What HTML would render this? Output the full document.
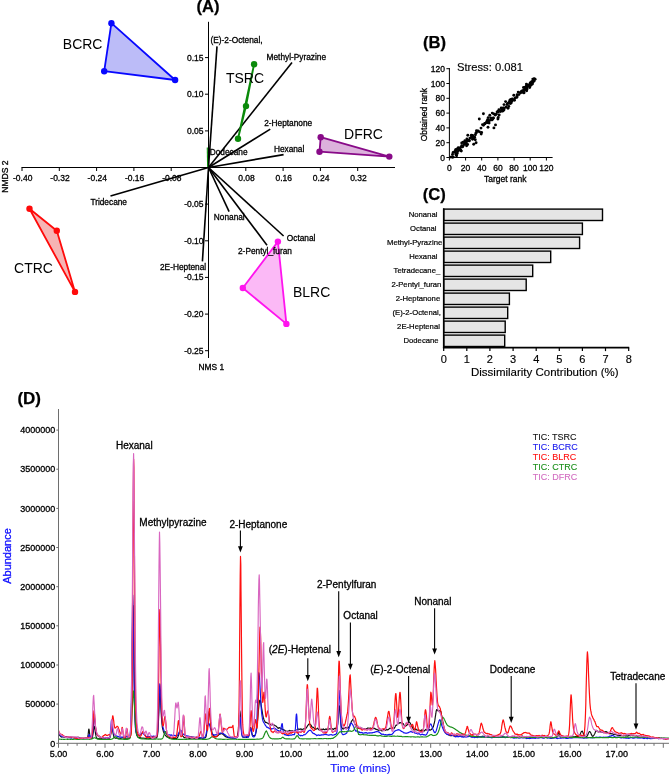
<!DOCTYPE html>
<html><head><meta charset="utf-8"><title>Figure</title>
<style>
html,body{margin:0;padding:0;background:#fff;}
body{width:669px;height:776px;overflow:hidden;font-family:"Liberation Sans",sans-serif;}
svg{display:block;will-change:transform;opacity:0.9999;}
text{font-family:"Liberation Sans",sans-serif;}
</style></head><body>
<svg width="669" height="776" viewBox="0 0 669 776" font-family="Liberation Sans, sans-serif">
<defs><clipPath id="clipD"><rect x="59" y="405" width="610" height="340"/></clipPath></defs>
<rect width="669" height="776" fill="#fff"/>
<text x="208.0" y="12.4" font-size="16.6" text-anchor="middle" fill="#000" stroke="#000" stroke-width="0.25" font-weight="bold" >(A)</text>
<line x1="21.5" y1="167.5" x2="395.0" y2="167.5" stroke="#000" stroke-width="1" />
<line x1="208.5" y1="21.8" x2="208.5" y2="358.0" stroke="#000" stroke-width="1" />
<line x1="22.0" y1="167.5" x2="22.0" y2="171.0" stroke="#000" stroke-width="1" />
<text x="22.7" y="181.0" font-size="8.5" text-anchor="middle" fill="#000" stroke="#000" stroke-width="0.3" font-weight="normal" >-0.40</text>
<line x1="59.3" y1="167.5" x2="59.3" y2="171.0" stroke="#000" stroke-width="1" />
<text x="60.0" y="181.0" font-size="8.5" text-anchor="middle" fill="#000" stroke="#000" stroke-width="0.3" font-weight="normal" >-0.32</text>
<line x1="96.6" y1="167.5" x2="96.6" y2="171.0" stroke="#000" stroke-width="1" />
<text x="97.3" y="181.0" font-size="8.5" text-anchor="middle" fill="#000" stroke="#000" stroke-width="0.3" font-weight="normal" >-0.24</text>
<line x1="133.9" y1="167.5" x2="133.9" y2="171.0" stroke="#000" stroke-width="1" />
<text x="134.6" y="181.0" font-size="8.5" text-anchor="middle" fill="#000" stroke="#000" stroke-width="0.3" font-weight="normal" >-0.16</text>
<line x1="171.2" y1="167.5" x2="171.2" y2="171.0" stroke="#000" stroke-width="1" />
<text x="171.9" y="181.0" font-size="8.5" text-anchor="middle" fill="#000" stroke="#000" stroke-width="0.3" font-weight="normal" >-0.08</text>
<line x1="245.8" y1="167.5" x2="245.8" y2="171.0" stroke="#000" stroke-width="1" />
<text x="246.5" y="181.0" font-size="8.5" text-anchor="middle" fill="#000" stroke="#000" stroke-width="0.3" font-weight="normal" >0.08</text>
<line x1="283.1" y1="167.5" x2="283.1" y2="171.0" stroke="#000" stroke-width="1" />
<text x="283.8" y="181.0" font-size="8.5" text-anchor="middle" fill="#000" stroke="#000" stroke-width="0.3" font-weight="normal" >0.16</text>
<line x1="320.4" y1="167.5" x2="320.4" y2="171.0" stroke="#000" stroke-width="1" />
<text x="321.1" y="181.0" font-size="8.5" text-anchor="middle" fill="#000" stroke="#000" stroke-width="0.3" font-weight="normal" >0.24</text>
<line x1="357.7" y1="167.5" x2="357.7" y2="171.0" stroke="#000" stroke-width="1" />
<text x="358.4" y="181.0" font-size="8.5" text-anchor="middle" fill="#000" stroke="#000" stroke-width="0.3" font-weight="normal" >0.32</text>
<line x1="205.0" y1="57.6" x2="208.5" y2="57.6" stroke="#000" stroke-width="1" />
<text x="203.5" y="60.6" font-size="8.5" text-anchor="end" fill="#000" stroke="#000" stroke-width="0.3" font-weight="normal" >0.15</text>
<line x1="205.0" y1="94.2" x2="208.5" y2="94.2" stroke="#000" stroke-width="1" />
<text x="203.5" y="97.2" font-size="8.5" text-anchor="end" fill="#000" stroke="#000" stroke-width="0.3" font-weight="normal" >0.10</text>
<line x1="205.0" y1="130.9" x2="208.5" y2="130.9" stroke="#000" stroke-width="1" />
<text x="203.5" y="133.9" font-size="8.5" text-anchor="end" fill="#000" stroke="#000" stroke-width="0.3" font-weight="normal" >0.05</text>
<line x1="205.0" y1="204.1" x2="208.5" y2="204.1" stroke="#000" stroke-width="1" />
<text x="203.5" y="207.1" font-size="8.5" text-anchor="end" fill="#000" stroke="#000" stroke-width="0.3" font-weight="normal" >-0.05</text>
<line x1="205.0" y1="240.8" x2="208.5" y2="240.8" stroke="#000" stroke-width="1" />
<text x="203.5" y="243.8" font-size="8.5" text-anchor="end" fill="#000" stroke="#000" stroke-width="0.3" font-weight="normal" >-0.10</text>
<line x1="205.0" y1="277.4" x2="208.5" y2="277.4" stroke="#000" stroke-width="1" />
<text x="203.5" y="280.4" font-size="8.5" text-anchor="end" fill="#000" stroke="#000" stroke-width="0.3" font-weight="normal" >-0.15</text>
<line x1="205.0" y1="314.1" x2="208.5" y2="314.1" stroke="#000" stroke-width="1" />
<text x="203.5" y="317.1" font-size="8.5" text-anchor="end" fill="#000" stroke="#000" stroke-width="0.3" font-weight="normal" >-0.20</text>
<line x1="205.0" y1="350.7" x2="208.5" y2="350.7" stroke="#000" stroke-width="1" />
<text x="203.5" y="353.7" font-size="8.5" text-anchor="end" fill="#000" stroke="#000" stroke-width="0.3" font-weight="normal" >-0.25</text>
<text transform="translate(7.6,176.6) rotate(-90)" font-size="8.55" text-anchor="middle" stroke="#000" stroke-width="0.3">NMDS 2</text>
<text x="211.3" y="370.0" font-size="8.4" text-anchor="middle" fill="#000" stroke="#000" stroke-width="0.3" font-weight="normal" >NMS 1</text>
<line x1="208.5" y1="167.5" x2="217.0" y2="46.4" stroke="#000" stroke-width="1.6" />
<line x1="208.5" y1="167.5" x2="292.0" y2="62.5" stroke="#000" stroke-width="1.6" />
<line x1="208.5" y1="167.5" x2="270.3" y2="129.1" stroke="#000" stroke-width="1.6" />
<line x1="208.5" y1="167.5" x2="283.6" y2="154.6" stroke="#000" stroke-width="1.6" />
<line x1="208.5" y1="167.5" x2="110.5" y2="196.1" stroke="#000" stroke-width="1.6" />
<line x1="208.5" y1="167.5" x2="202.4" y2="261.4" stroke="#000" stroke-width="1.6" />
<line x1="208.5" y1="167.5" x2="229.1" y2="211.7" stroke="#000" stroke-width="1.6" />
<line x1="208.5" y1="167.5" x2="267.0" y2="245.2" stroke="#000" stroke-width="1.6" />
<line x1="208.5" y1="167.5" x2="283.6" y2="236.0" stroke="#000" stroke-width="1.6" />
<line x1="207.3" y1="147.5" x2="207.6" y2="167.0" stroke="#0a8a0a" stroke-width="1.1" />
<polygon points="111.4,23.2 104.2,71.2 175.1,80.0" fill="#bcbcf8" stroke="#0808ff" stroke-width="1.8" stroke-linejoin="round"/>
<circle cx="111.4" cy="23.2" r="3.2" fill="#0808ff"/>
<circle cx="104.2" cy="71.2" r="3.2" fill="#0808ff"/>
<circle cx="175.1" cy="80.0" r="3.2" fill="#0808ff"/>
<text x="62.8" y="49.0" font-size="14" text-anchor="start" fill="#000" stroke="#000" stroke-width="0.0" font-weight="normal" >BCRC</text>
<polygon points="29.5,208.7 56.8,230.7 75.0,291.9" fill="#f6b4b4" stroke="#ff0a0a" stroke-width="1.8" stroke-linejoin="round"/>
<circle cx="29.5" cy="208.7" r="3.2" fill="#ff0a0a"/>
<circle cx="56.8" cy="230.7" r="3.2" fill="#ff0a0a"/>
<circle cx="75.0" cy="291.9" r="3.2" fill="#ff0a0a"/>
<text x="14.1" y="273.3" font-size="14" text-anchor="start" fill="#000" stroke="#000" stroke-width="0.0" font-weight="normal" >CTRC</text>
<polygon points="254.1,64.2 246.0,106.1 238.0,138.8" fill="none" stroke="#0a8a0a" stroke-width="1.8" stroke-linejoin="round"/>
<circle cx="254.1" cy="64.2" r="3.2" fill="#0a8a0a"/>
<circle cx="246.0" cy="106.1" r="3.2" fill="#0a8a0a"/>
<circle cx="238.0" cy="138.8" r="3.2" fill="#0a8a0a"/>
<text x="225.9" y="82.5" font-size="14" text-anchor="start" fill="#000" stroke="#000" stroke-width="0.0" font-weight="normal" >TSRC</text>
<polygon points="320.7,137.2 319.5,151.7 389.3,156.6" fill="#dcb2dc" stroke="#880a88" stroke-width="1.8" stroke-linejoin="round"/>
<circle cx="320.7" cy="137.2" r="3.2" fill="#880a88"/>
<circle cx="319.5" cy="151.7" r="3.2" fill="#880a88"/>
<circle cx="389.3" cy="156.6" r="3.2" fill="#880a88"/>
<text x="344.1" y="138.6" font-size="14" text-anchor="start" fill="#000" stroke="#000" stroke-width="0.0" font-weight="normal" >DFRC</text>
<polygon points="277.9,241.6 242.8,288.0 286.4,323.9" fill="#fbb9f6" stroke="#ff14ee" stroke-width="1.8" stroke-linejoin="round"/>
<circle cx="277.9" cy="241.6" r="3.2" fill="#ff14ee"/>
<circle cx="242.8" cy="288.0" r="3.2" fill="#ff14ee"/>
<circle cx="286.4" cy="323.9" r="3.2" fill="#ff14ee"/>
<text x="292.9" y="297.0" font-size="14" text-anchor="start" fill="#000" stroke="#000" stroke-width="0.0" font-weight="normal" >BLRC</text>
<text x="210.5" y="43.4" font-size="8.3" text-anchor="start" fill="#000" stroke="#000" stroke-width="0.3" font-weight="normal" >(E)-2-Octenal,</text>
<text x="266.6" y="59.9" font-size="8.3" text-anchor="start" fill="#000" stroke="#000" stroke-width="0.3" font-weight="normal" >Methyl-Pyrazine</text>
<text x="264.2" y="126.0" font-size="8.3" text-anchor="start" fill="#000" stroke="#000" stroke-width="0.3" font-weight="normal" >2-Heptanone</text>
<text x="273.9" y="152.3" font-size="8.3" text-anchor="start" fill="#000" stroke="#000" stroke-width="0.3" font-weight="normal" >Hexanal</text>
<text x="209.7" y="155.1" font-size="8.3" text-anchor="start" fill="#000" stroke="#000" stroke-width="0.3" font-weight="normal" >Dodecane</text>
<text x="90.4" y="204.8" font-size="8.3" text-anchor="start" fill="#000" stroke="#000" stroke-width="0.3" font-weight="normal" >Tridecane</text>
<text x="160.0" y="269.8" font-size="8.3" text-anchor="start" fill="#000" stroke="#000" stroke-width="0.3" font-weight="normal" >2E-Heptenal</text>
<text x="213.8" y="219.6" font-size="8.3" text-anchor="start" fill="#000" stroke="#000" stroke-width="0.3" font-weight="normal" >Nonanal</text>
<text x="238.0" y="253.9" font-size="8.3" text-anchor="start" fill="#000" stroke="#000" stroke-width="0.3" font-weight="normal" >2-Pentyl_furan</text>
<text x="286.8" y="240.6" font-size="8.3" text-anchor="start" fill="#000" stroke="#000" stroke-width="0.3" font-weight="normal" >Octanal</text>
<text x="423.0" y="48.4" font-size="16.6" text-anchor="start" fill="#000" stroke="#000" stroke-width="0.25" font-weight="bold" >(B)</text>
<text x="457.0" y="70.7" font-size="11.2" text-anchor="start" fill="#000" stroke="#000" stroke-width="0.15" font-weight="normal" >Stress: 0.081</text>
<line x1="449.4" y1="68.0" x2="449.4" y2="157.5" stroke="#000" stroke-width="1" />
<line x1="449.4" y1="157.5" x2="552.6" y2="157.5" stroke="#000" stroke-width="1" />
<line x1="446.4" y1="157.5" x2="449.4" y2="157.5" stroke="#000" stroke-width="1" />
<text x="444.9" y="160.6" font-size="8.5" text-anchor="end" fill="#000" stroke="#000" stroke-width="0.3" font-weight="normal" >0</text>
<line x1="449.4" y1="157.5" x2="449.4" y2="160.5" stroke="#000" stroke-width="1" />
<text x="449.4" y="171.3" font-size="8.5" text-anchor="middle" fill="#000" stroke="#000" stroke-width="0.3" font-weight="normal" >0</text>
<line x1="446.4" y1="142.7" x2="449.4" y2="142.7" stroke="#000" stroke-width="1" />
<text x="444.9" y="145.8" font-size="8.5" text-anchor="end" fill="#000" stroke="#000" stroke-width="0.3" font-weight="normal" >20</text>
<line x1="465.6" y1="157.5" x2="465.6" y2="160.5" stroke="#000" stroke-width="1" />
<text x="465.6" y="171.3" font-size="8.5" text-anchor="middle" fill="#000" stroke="#000" stroke-width="0.3" font-weight="normal" >20</text>
<line x1="446.4" y1="127.9" x2="449.4" y2="127.9" stroke="#000" stroke-width="1" />
<text x="444.9" y="131.0" font-size="8.5" text-anchor="end" fill="#000" stroke="#000" stroke-width="0.3" font-weight="normal" >40</text>
<line x1="481.7" y1="157.5" x2="481.7" y2="160.5" stroke="#000" stroke-width="1" />
<text x="481.7" y="171.3" font-size="8.5" text-anchor="middle" fill="#000" stroke="#000" stroke-width="0.3" font-weight="normal" >40</text>
<line x1="446.4" y1="113.1" x2="449.4" y2="113.1" stroke="#000" stroke-width="1" />
<text x="444.9" y="116.2" font-size="8.5" text-anchor="end" fill="#000" stroke="#000" stroke-width="0.3" font-weight="normal" >60</text>
<line x1="497.9" y1="157.5" x2="497.9" y2="160.5" stroke="#000" stroke-width="1" />
<text x="497.9" y="171.3" font-size="8.5" text-anchor="middle" fill="#000" stroke="#000" stroke-width="0.3" font-weight="normal" >60</text>
<line x1="446.4" y1="98.3" x2="449.4" y2="98.3" stroke="#000" stroke-width="1" />
<text x="444.9" y="101.4" font-size="8.5" text-anchor="end" fill="#000" stroke="#000" stroke-width="0.3" font-weight="normal" >80</text>
<line x1="514.1" y1="157.5" x2="514.1" y2="160.5" stroke="#000" stroke-width="1" />
<text x="514.1" y="171.3" font-size="8.5" text-anchor="middle" fill="#000" stroke="#000" stroke-width="0.3" font-weight="normal" >80</text>
<line x1="446.4" y1="83.5" x2="449.4" y2="83.5" stroke="#000" stroke-width="1" />
<text x="444.9" y="86.6" font-size="8.5" text-anchor="end" fill="#000" stroke="#000" stroke-width="0.3" font-weight="normal" >100</text>
<line x1="530.2" y1="157.5" x2="530.2" y2="160.5" stroke="#000" stroke-width="1" />
<text x="530.2" y="171.3" font-size="8.5" text-anchor="middle" fill="#000" stroke="#000" stroke-width="0.3" font-weight="normal" >100</text>
<line x1="446.4" y1="68.7" x2="449.4" y2="68.7" stroke="#000" stroke-width="1" />
<text x="444.9" y="71.8" font-size="8.5" text-anchor="end" fill="#000" stroke="#000" stroke-width="0.3" font-weight="normal" >120</text>
<line x1="546.4" y1="157.5" x2="546.4" y2="160.5" stroke="#000" stroke-width="1" />
<text x="546.4" y="171.3" font-size="8.5" text-anchor="middle" fill="#000" stroke="#000" stroke-width="0.3" font-weight="normal" >120</text>
<text x="505.3" y="182.0" font-size="8.5" text-anchor="middle" fill="#000" stroke="#000" stroke-width="0.3" font-weight="normal" >Target rank</text>
<text transform="translate(427,114.6) rotate(-90)" font-size="8.5" text-anchor="middle" stroke="#000" stroke-width="0.3">Obtained rank</text>
<circle cx="488.0" cy="127.2" r="1.45" fill="#000"/>
<circle cx="489.1" cy="123.1" r="1.45" fill="#000"/>
<circle cx="492.7" cy="119.1" r="1.45" fill="#000"/>
<circle cx="493.1" cy="118.3" r="1.45" fill="#000"/>
<circle cx="503.0" cy="108.1" r="1.45" fill="#000"/>
<circle cx="475.4" cy="134.7" r="1.45" fill="#000"/>
<circle cx="457.5" cy="148.8" r="1.45" fill="#000"/>
<circle cx="453.3" cy="157.1" r="1.45" fill="#000"/>
<circle cx="532.8" cy="79.1" r="1.45" fill="#000"/>
<circle cx="501.8" cy="110.3" r="1.45" fill="#000"/>
<circle cx="463.1" cy="142.1" r="1.45" fill="#000"/>
<circle cx="454.8" cy="152.3" r="1.45" fill="#000"/>
<circle cx="465.9" cy="142.4" r="1.45" fill="#000"/>
<circle cx="489.0" cy="120.7" r="1.45" fill="#000"/>
<circle cx="487.0" cy="121.5" r="1.45" fill="#000"/>
<circle cx="503.9" cy="110.0" r="1.45" fill="#000"/>
<circle cx="492.0" cy="119.9" r="1.45" fill="#000"/>
<circle cx="473.3" cy="137.9" r="1.45" fill="#000"/>
<circle cx="534.1" cy="78.7" r="1.45" fill="#000"/>
<circle cx="509.6" cy="102.5" r="1.45" fill="#000"/>
<circle cx="476.4" cy="132.5" r="1.45" fill="#000"/>
<circle cx="455.7" cy="149.8" r="1.45" fill="#000"/>
<circle cx="514.5" cy="100.2" r="1.45" fill="#000"/>
<circle cx="482.5" cy="124.6" r="1.45" fill="#000"/>
<circle cx="530.7" cy="83.0" r="1.45" fill="#000"/>
<circle cx="467.5" cy="141.0" r="1.45" fill="#000"/>
<circle cx="526.7" cy="90.8" r="1.45" fill="#000"/>
<circle cx="483.4" cy="125.2" r="1.45" fill="#000"/>
<circle cx="456.0" cy="154.3" r="1.45" fill="#000"/>
<circle cx="472.6" cy="139.3" r="1.45" fill="#000"/>
<circle cx="457.2" cy="153.4" r="1.45" fill="#000"/>
<circle cx="513.8" cy="95.2" r="1.45" fill="#000"/>
<circle cx="459.8" cy="148.0" r="1.45" fill="#000"/>
<circle cx="454.9" cy="151.4" r="1.45" fill="#000"/>
<circle cx="517.1" cy="94.7" r="1.45" fill="#000"/>
<circle cx="487.6" cy="119.8" r="1.45" fill="#000"/>
<circle cx="465.9" cy="142.5" r="1.45" fill="#000"/>
<circle cx="504.2" cy="108.6" r="1.45" fill="#000"/>
<circle cx="459.6" cy="149.6" r="1.45" fill="#000"/>
<circle cx="472.6" cy="135.5" r="1.45" fill="#000"/>
<circle cx="531.8" cy="81.6" r="1.45" fill="#000"/>
<circle cx="524.6" cy="89.9" r="1.45" fill="#000"/>
<circle cx="467.6" cy="144.5" r="1.45" fill="#000"/>
<circle cx="504.0" cy="104.6" r="1.45" fill="#000"/>
<circle cx="458.3" cy="147.7" r="1.45" fill="#000"/>
<circle cx="471.6" cy="137.3" r="1.45" fill="#000"/>
<circle cx="515.1" cy="98.0" r="1.45" fill="#000"/>
<circle cx="456.0" cy="149.7" r="1.45" fill="#000"/>
<circle cx="457.4" cy="151.7" r="1.45" fill="#000"/>
<circle cx="500.6" cy="111.5" r="1.45" fill="#000"/>
<circle cx="481.2" cy="134.1" r="1.45" fill="#000"/>
<circle cx="490.7" cy="118.0" r="1.45" fill="#000"/>
<circle cx="498.3" cy="111.7" r="1.45" fill="#000"/>
<circle cx="462.8" cy="146.3" r="1.45" fill="#000"/>
<circle cx="526.6" cy="86.4" r="1.45" fill="#000"/>
<circle cx="465.8" cy="144.1" r="1.45" fill="#000"/>
<circle cx="512.3" cy="99.0" r="1.45" fill="#000"/>
<circle cx="530.1" cy="84.0" r="1.45" fill="#000"/>
<circle cx="524.3" cy="90.1" r="1.45" fill="#000"/>
<circle cx="458.6" cy="150.6" r="1.45" fill="#000"/>
<circle cx="453.1" cy="152.4" r="1.45" fill="#000"/>
<circle cx="509.3" cy="103.1" r="1.45" fill="#000"/>
<circle cx="471.5" cy="135.8" r="1.45" fill="#000"/>
<circle cx="474.6" cy="137.3" r="1.45" fill="#000"/>
<circle cx="464.6" cy="143.7" r="1.45" fill="#000"/>
<circle cx="469.1" cy="140.3" r="1.45" fill="#000"/>
<circle cx="497.1" cy="111.9" r="1.45" fill="#000"/>
<circle cx="473.5" cy="138.1" r="1.45" fill="#000"/>
<circle cx="527.3" cy="86.1" r="1.45" fill="#000"/>
<circle cx="472.5" cy="135.9" r="1.45" fill="#000"/>
<circle cx="487.5" cy="121.3" r="1.45" fill="#000"/>
<circle cx="481.0" cy="128.1" r="1.45" fill="#000"/>
<circle cx="498.1" cy="111.4" r="1.45" fill="#000"/>
<circle cx="525.1" cy="87.2" r="1.45" fill="#000"/>
<circle cx="532.6" cy="82.6" r="1.45" fill="#000"/>
<circle cx="499.2" cy="115.0" r="1.45" fill="#000"/>
<circle cx="461.7" cy="145.8" r="1.45" fill="#000"/>
<circle cx="526.7" cy="86.7" r="1.45" fill="#000"/>
<circle cx="509.0" cy="102.4" r="1.45" fill="#000"/>
<circle cx="503.6" cy="108.0" r="1.45" fill="#000"/>
<circle cx="490.5" cy="120.1" r="1.45" fill="#000"/>
<circle cx="534.2" cy="81.1" r="1.45" fill="#000"/>
<circle cx="456.2" cy="155.0" r="1.45" fill="#000"/>
<circle cx="525.9" cy="88.2" r="1.45" fill="#000"/>
<circle cx="512.1" cy="100.9" r="1.45" fill="#000"/>
<circle cx="527.1" cy="88.9" r="1.45" fill="#000"/>
<circle cx="479.5" cy="131.9" r="1.45" fill="#000"/>
<circle cx="523.4" cy="92.7" r="1.45" fill="#000"/>
<circle cx="485.0" cy="123.7" r="1.45" fill="#000"/>
<circle cx="498.2" cy="117.4" r="1.45" fill="#000"/>
<circle cx="502.6" cy="111.1" r="1.45" fill="#000"/>
<circle cx="501.2" cy="107.9" r="1.45" fill="#000"/>
<circle cx="456.6" cy="155.7" r="1.45" fill="#000"/>
<circle cx="524.1" cy="92.7" r="1.45" fill="#000"/>
<circle cx="511.3" cy="102.7" r="1.45" fill="#000"/>
<circle cx="498.9" cy="109.7" r="1.45" fill="#000"/>
<circle cx="487.0" cy="122.5" r="1.45" fill="#000"/>
<circle cx="513.2" cy="99.6" r="1.45" fill="#000"/>
<circle cx="452.3" cy="157.0" r="1.45" fill="#000"/>
<circle cx="469.3" cy="140.9" r="1.45" fill="#000"/>
<circle cx="508.8" cy="106.4" r="1.45" fill="#000"/>
<circle cx="527.6" cy="85.9" r="1.45" fill="#000"/>
<circle cx="471.4" cy="135.3" r="1.45" fill="#000"/>
<circle cx="507.1" cy="104.5" r="1.45" fill="#000"/>
<circle cx="466.9" cy="139.0" r="1.45" fill="#000"/>
<circle cx="505.6" cy="101.6" r="1.45" fill="#000"/>
<circle cx="487.1" cy="121.3" r="1.45" fill="#000"/>
<circle cx="506.1" cy="107.0" r="1.45" fill="#000"/>
<circle cx="466.6" cy="145.7" r="1.45" fill="#000"/>
<circle cx="527.0" cy="85.3" r="1.45" fill="#000"/>
<circle cx="524.2" cy="90.5" r="1.45" fill="#000"/>
<circle cx="476.5" cy="130.6" r="1.45" fill="#000"/>
<circle cx="461.3" cy="151.1" r="1.45" fill="#000"/>
<circle cx="521.5" cy="91.4" r="1.45" fill="#000"/>
<circle cx="509.9" cy="100.3" r="1.45" fill="#000"/>
<circle cx="464.1" cy="144.6" r="1.45" fill="#000"/>
<circle cx="487.9" cy="122.5" r="1.45" fill="#000"/>
<circle cx="484.8" cy="123.5" r="1.45" fill="#000"/>
<circle cx="502.7" cy="110.8" r="1.45" fill="#000"/>
<circle cx="520.7" cy="92.2" r="1.45" fill="#000"/>
<circle cx="532.8" cy="81.7" r="1.45" fill="#000"/>
<circle cx="452.5" cy="154.4" r="1.45" fill="#000"/>
<circle cx="523.5" cy="87.4" r="1.45" fill="#000"/>
<circle cx="498.0" cy="112.0" r="1.45" fill="#000"/>
<circle cx="475.9" cy="133.1" r="1.45" fill="#000"/>
<circle cx="461.3" cy="147.1" r="1.45" fill="#000"/>
<circle cx="488.2" cy="117.6" r="1.45" fill="#000"/>
<circle cx="469.9" cy="138.1" r="1.45" fill="#000"/>
<circle cx="461.7" cy="143.0" r="1.45" fill="#000"/>
<circle cx="487.5" cy="121.6" r="1.45" fill="#000"/>
<circle cx="503.0" cy="110.8" r="1.45" fill="#000"/>
<circle cx="530.8" cy="85.2" r="1.45" fill="#000"/>
<circle cx="507.6" cy="103.4" r="1.45" fill="#000"/>
<circle cx="464.9" cy="140.8" r="1.45" fill="#000"/>
<circle cx="450.7" cy="157.1" r="1.45" fill="#000"/>
<circle cx="464.9" cy="142.6" r="1.45" fill="#000"/>
<circle cx="472.8" cy="138.1" r="1.45" fill="#000"/>
<circle cx="493.8" cy="113.9" r="1.45" fill="#000"/>
<circle cx="501.7" cy="109.5" r="1.45" fill="#000"/>
<circle cx="516.7" cy="97.4" r="1.45" fill="#000"/>
<circle cx="526.4" cy="84.1" r="1.45" fill="#000"/>
<circle cx="510.8" cy="99.5" r="1.45" fill="#000"/>
<circle cx="460.8" cy="150.3" r="1.45" fill="#000"/>
<circle cx="526.7" cy="86.2" r="1.45" fill="#000"/>
<circle cx="481.6" cy="132.4" r="1.45" fill="#000"/>
<circle cx="517.1" cy="96.8" r="1.45" fill="#000"/>
<circle cx="529.6" cy="86.2" r="1.45" fill="#000"/>
<circle cx="467.1" cy="140.5" r="1.45" fill="#000"/>
<circle cx="510.8" cy="100.4" r="1.45" fill="#000"/>
<circle cx="510.4" cy="103.6" r="1.45" fill="#000"/>
<circle cx="467.8" cy="135.3" r="1.45" fill="#000"/>
<circle cx="532.4" cy="84.0" r="1.45" fill="#000"/>
<circle cx="495.2" cy="115.1" r="1.45" fill="#000"/>
<circle cx="526.7" cy="88.0" r="1.45" fill="#000"/>
<circle cx="522.1" cy="91.3" r="1.45" fill="#000"/>
<circle cx="487.1" cy="122.2" r="1.45" fill="#000"/>
<circle cx="496.3" cy="114.3" r="1.45" fill="#000"/>
<circle cx="452.2" cy="157.1" r="1.45" fill="#000"/>
<circle cx="518.2" cy="92.1" r="1.45" fill="#000"/>
<circle cx="464.4" cy="142.1" r="1.45" fill="#000"/>
<circle cx="478.1" cy="130.9" r="1.45" fill="#000"/>
<circle cx="462.4" cy="146.9" r="1.45" fill="#000"/>
<circle cx="493.4" cy="117.9" r="1.45" fill="#000"/>
<circle cx="508.0" cy="108.3" r="1.45" fill="#000"/>
<circle cx="529.7" cy="87.6" r="1.45" fill="#000"/>
<circle cx="518.9" cy="94.6" r="1.45" fill="#000"/>
<circle cx="520.5" cy="92.9" r="1.45" fill="#000"/>
<circle cx="522.2" cy="90.9" r="1.45" fill="#000"/>
<circle cx="523.8" cy="89.8" r="1.45" fill="#000"/>
<circle cx="525.4" cy="87.5" r="1.45" fill="#000"/>
<circle cx="527.0" cy="86.2" r="1.45" fill="#000"/>
<circle cx="528.6" cy="84.9" r="1.45" fill="#000"/>
<circle cx="530.2" cy="82.9" r="1.45" fill="#000"/>
<circle cx="531.9" cy="81.9" r="1.45" fill="#000"/>
<circle cx="533.5" cy="80.9" r="1.45" fill="#000"/>
<circle cx="535.1" cy="79.3" r="1.45" fill="#000"/>
<circle cx="479.3" cy="119.0" r="1.45" fill="#000"/>
<circle cx="483.4" cy="113.8" r="1.45" fill="#000"/>
<circle cx="493.9" cy="127.9" r="1.45" fill="#000"/>
<circle cx="495.5" cy="124.9" r="1.45" fill="#000"/>
<circle cx="473.7" cy="144.2" r="1.45" fill="#000"/>
<circle cx="475.3" cy="139.7" r="1.45" fill="#000"/>
<circle cx="476.1" cy="142.7" r="1.45" fill="#000"/>
<circle cx="489.8" cy="115.3" r="1.45" fill="#000"/>
<circle cx="492.3" cy="113.1" r="1.45" fill="#000"/>
<circle cx="497.9" cy="119.0" r="1.45" fill="#000"/>
<text x="422.7" y="199.7" font-size="16.6" text-anchor="start" fill="#000" stroke="#000" stroke-width="0.25" font-weight="bold" >(C)</text>
<rect x="443.7" y="209.1" width="158.8" height="11.4" fill="#e5e5e5" stroke="#000" stroke-width="1.4"/>
<text x="437.4" y="217.1" font-size="8.1" text-anchor="end" fill="#000" stroke="#000" stroke-width="0.2" font-weight="normal" textLength="28.7" lengthAdjust="spacingAndGlyphs" >Nonanal</text>
<rect x="443.7" y="223.1" width="138.7" height="11.4" fill="#e5e5e5" stroke="#000" stroke-width="1.4"/>
<text x="436.6" y="231.1" font-size="8.1" text-anchor="end" fill="#000" stroke="#000" stroke-width="0.2" font-weight="normal" textLength="26.5" lengthAdjust="spacingAndGlyphs" >Octanal</text>
<rect x="443.7" y="237.1" width="135.9" height="11.4" fill="#e5e5e5" stroke="#000" stroke-width="1.4"/>
<text x="442.2" y="245.1" font-size="8.1" text-anchor="end" fill="#000" stroke="#000" stroke-width="0.2" font-weight="normal" textLength="55.2" lengthAdjust="spacingAndGlyphs" >Methyl-Pyrazine</text>
<rect x="443.7" y="251.1" width="107.0" height="11.4" fill="#e5e5e5" stroke="#000" stroke-width="1.4"/>
<text x="437.4" y="259.1" font-size="8.1" text-anchor="end" fill="#000" stroke="#000" stroke-width="0.2" font-weight="normal" textLength="28.2" lengthAdjust="spacingAndGlyphs" >Hexanal</text>
<rect x="443.7" y="265.1" width="89.0" height="11.4" fill="#e5e5e5" stroke="#000" stroke-width="1.4"/>
<text x="440.2" y="273.1" font-size="8.1" text-anchor="end" fill="#000" stroke="#000" stroke-width="0.2" font-weight="normal" textLength="46.6" lengthAdjust="spacingAndGlyphs" >Tetradecane_</text>
<rect x="443.7" y="279.1" width="82.5" height="11.4" fill="#e5e5e5" stroke="#000" stroke-width="1.4"/>
<text x="441.4" y="287.1" font-size="8.1" text-anchor="end" fill="#000" stroke="#000" stroke-width="0.2" font-weight="normal" textLength="50.0" lengthAdjust="spacingAndGlyphs" >2-Pentyl_furan</text>
<rect x="443.7" y="293.1" width="65.7" height="11.4" fill="#e5e5e5" stroke="#000" stroke-width="1.4"/>
<text x="440.2" y="301.1" font-size="8.1" text-anchor="end" fill="#000" stroke="#000" stroke-width="0.2" font-weight="normal" textLength="44.5" lengthAdjust="spacingAndGlyphs" >2-Heptanone</text>
<rect x="443.7" y="307.1" width="64.0" height="11.4" fill="#e5e5e5" stroke="#000" stroke-width="1.4"/>
<text x="440.8" y="315.1" font-size="8.1" text-anchor="end" fill="#000" stroke="#000" stroke-width="0.2" font-weight="normal" textLength="48.3" lengthAdjust="spacingAndGlyphs" >(E)-2-Octenal,</text>
<rect x="443.7" y="321.1" width="61.5" height="11.4" fill="#e5e5e5" stroke="#000" stroke-width="1.4"/>
<text x="439.9" y="329.1" font-size="8.1" text-anchor="end" fill="#000" stroke="#000" stroke-width="0.2" font-weight="normal" textLength="42.8" lengthAdjust="spacingAndGlyphs" >2E-Heptenal</text>
<rect x="443.7" y="335.1" width="61.0" height="11.4" fill="#e5e5e5" stroke="#000" stroke-width="1.4"/>
<text x="438.6" y="343.1" font-size="8.1" text-anchor="end" fill="#000" stroke="#000" stroke-width="0.2" font-weight="normal" textLength="35.1" lengthAdjust="spacingAndGlyphs" >Dodecane</text>
<line x1="443.7" y1="208.4" x2="443.7" y2="347.6" stroke="#000" stroke-width="1.6" />
<line x1="442.9" y1="347.6" x2="629.2" y2="347.6" stroke="#000" stroke-width="1.8" />
<line x1="443.7" y1="347.6" x2="443.7" y2="351.1" stroke="#000" stroke-width="1.2" />
<text x="443.7" y="362.6" font-size="11" text-anchor="middle" fill="#000" stroke="#000" stroke-width="0.15" font-weight="normal" >0</text>
<line x1="466.8" y1="347.6" x2="466.8" y2="351.1" stroke="#000" stroke-width="1.2" />
<text x="466.8" y="362.6" font-size="11" text-anchor="middle" fill="#000" stroke="#000" stroke-width="0.15" font-weight="normal" >1</text>
<line x1="489.9" y1="347.6" x2="489.9" y2="351.1" stroke="#000" stroke-width="1.2" />
<text x="489.9" y="362.6" font-size="11" text-anchor="middle" fill="#000" stroke="#000" stroke-width="0.15" font-weight="normal" >2</text>
<line x1="513.1" y1="347.6" x2="513.1" y2="351.1" stroke="#000" stroke-width="1.2" />
<text x="513.1" y="362.6" font-size="11" text-anchor="middle" fill="#000" stroke="#000" stroke-width="0.15" font-weight="normal" >3</text>
<line x1="536.2" y1="347.6" x2="536.2" y2="351.1" stroke="#000" stroke-width="1.2" />
<text x="536.2" y="362.6" font-size="11" text-anchor="middle" fill="#000" stroke="#000" stroke-width="0.15" font-weight="normal" >4</text>
<line x1="559.3" y1="347.6" x2="559.3" y2="351.1" stroke="#000" stroke-width="1.2" />
<text x="559.3" y="362.6" font-size="11" text-anchor="middle" fill="#000" stroke="#000" stroke-width="0.15" font-weight="normal" >5</text>
<line x1="582.4" y1="347.6" x2="582.4" y2="351.1" stroke="#000" stroke-width="1.2" />
<text x="582.4" y="362.6" font-size="11" text-anchor="middle" fill="#000" stroke="#000" stroke-width="0.15" font-weight="normal" >6</text>
<line x1="605.5" y1="347.6" x2="605.5" y2="351.1" stroke="#000" stroke-width="1.2" />
<text x="605.5" y="362.6" font-size="11" text-anchor="middle" fill="#000" stroke="#000" stroke-width="0.15" font-weight="normal" >7</text>
<line x1="628.7" y1="347.6" x2="628.7" y2="351.1" stroke="#000" stroke-width="1.2" />
<text x="628.7" y="362.6" font-size="11" text-anchor="middle" fill="#000" stroke="#000" stroke-width="0.15" font-weight="normal" >8</text>
<text x="544.8" y="376.3" font-size="11.5" text-anchor="middle" fill="#000" stroke="#000" stroke-width="0.15" font-weight="normal" >Dissimilarity Contribution (%)</text>
<text x="17.4" y="403.8" font-size="17" text-anchor="start" fill="#000" stroke="#000" stroke-width="0.25" font-weight="bold" >(D)</text>
<line x1="58.5" y1="409.0" x2="58.5" y2="743.3" stroke="#6e6e6e" stroke-width="1" />
<line x1="58.5" y1="743.3" x2="669.0" y2="743.3" stroke="#6e6e6e" stroke-width="1" />
<line x1="56.3" y1="743.3" x2="58.5" y2="743.3" stroke="#6e6e6e" stroke-width="1" />
<text x="55.3" y="746.5" font-size="9" text-anchor="end" fill="#000" stroke="#000" stroke-width="0.3" font-weight="normal" >0</text>
<line x1="56.3" y1="704.1" x2="58.5" y2="704.1" stroke="#6e6e6e" stroke-width="1" />
<text x="55.3" y="707.4" font-size="9" text-anchor="end" fill="#000" stroke="#000" stroke-width="0.3" font-weight="normal" >500000</text>
<line x1="56.3" y1="665.0" x2="58.5" y2="665.0" stroke="#6e6e6e" stroke-width="1" />
<text x="55.3" y="668.2" font-size="9" text-anchor="end" fill="#000" stroke="#000" stroke-width="0.3" font-weight="normal" >1000000</text>
<line x1="56.3" y1="625.8" x2="58.5" y2="625.8" stroke="#6e6e6e" stroke-width="1" />
<text x="55.3" y="629.0" font-size="9" text-anchor="end" fill="#000" stroke="#000" stroke-width="0.3" font-weight="normal" >1500000</text>
<line x1="56.3" y1="586.7" x2="58.5" y2="586.7" stroke="#6e6e6e" stroke-width="1" />
<text x="55.3" y="589.9" font-size="9" text-anchor="end" fill="#000" stroke="#000" stroke-width="0.3" font-weight="normal" >2000000</text>
<line x1="56.3" y1="547.5" x2="58.5" y2="547.5" stroke="#6e6e6e" stroke-width="1" />
<text x="55.3" y="550.8" font-size="9" text-anchor="end" fill="#000" stroke="#000" stroke-width="0.3" font-weight="normal" >2500000</text>
<line x1="56.3" y1="508.4" x2="58.5" y2="508.4" stroke="#6e6e6e" stroke-width="1" />
<text x="55.3" y="511.6" font-size="9" text-anchor="end" fill="#000" stroke="#000" stroke-width="0.3" font-weight="normal" >3000000</text>
<line x1="56.3" y1="469.2" x2="58.5" y2="469.2" stroke="#6e6e6e" stroke-width="1" />
<text x="55.3" y="472.4" font-size="9" text-anchor="end" fill="#000" stroke="#000" stroke-width="0.3" font-weight="normal" >3500000</text>
<line x1="56.3" y1="430.1" x2="58.5" y2="430.1" stroke="#6e6e6e" stroke-width="1" />
<text x="55.3" y="433.3" font-size="9" text-anchor="end" fill="#000" stroke="#000" stroke-width="0.3" font-weight="normal" >4000000</text>
<line x1="58.5" y1="743.3" x2="58.5" y2="747.8" stroke="#6e6e6e" stroke-width="1" />
<text x="58.5" y="757.3" font-size="9" text-anchor="middle" fill="#000" stroke="#000" stroke-width="0.3" font-weight="normal" >5.00</text>
<line x1="67.8" y1="743.3" x2="67.8" y2="745.8" stroke="#6e6e6e" stroke-width="1" />
<line x1="77.1" y1="743.3" x2="77.1" y2="745.8" stroke="#6e6e6e" stroke-width="1" />
<line x1="86.4" y1="743.3" x2="86.4" y2="745.8" stroke="#6e6e6e" stroke-width="1" />
<line x1="95.7" y1="743.3" x2="95.7" y2="745.8" stroke="#6e6e6e" stroke-width="1" />
<line x1="105.0" y1="743.3" x2="105.0" y2="747.8" stroke="#6e6e6e" stroke-width="1" />
<text x="105.0" y="757.3" font-size="9" text-anchor="middle" fill="#000" stroke="#000" stroke-width="0.3" font-weight="normal" >6.00</text>
<line x1="114.3" y1="743.3" x2="114.3" y2="745.8" stroke="#6e6e6e" stroke-width="1" />
<line x1="123.6" y1="743.3" x2="123.6" y2="745.8" stroke="#6e6e6e" stroke-width="1" />
<line x1="132.9" y1="743.3" x2="132.9" y2="745.8" stroke="#6e6e6e" stroke-width="1" />
<line x1="142.2" y1="743.3" x2="142.2" y2="745.8" stroke="#6e6e6e" stroke-width="1" />
<line x1="151.5" y1="743.3" x2="151.5" y2="747.8" stroke="#6e6e6e" stroke-width="1" />
<text x="151.5" y="757.3" font-size="9" text-anchor="middle" fill="#000" stroke="#000" stroke-width="0.3" font-weight="normal" >7.00</text>
<line x1="160.8" y1="743.3" x2="160.8" y2="745.8" stroke="#6e6e6e" stroke-width="1" />
<line x1="170.1" y1="743.3" x2="170.1" y2="745.8" stroke="#6e6e6e" stroke-width="1" />
<line x1="179.5" y1="743.3" x2="179.5" y2="745.8" stroke="#6e6e6e" stroke-width="1" />
<line x1="188.8" y1="743.3" x2="188.8" y2="745.8" stroke="#6e6e6e" stroke-width="1" />
<line x1="198.1" y1="743.3" x2="198.1" y2="747.8" stroke="#6e6e6e" stroke-width="1" />
<text x="198.1" y="757.3" font-size="9" text-anchor="middle" fill="#000" stroke="#000" stroke-width="0.3" font-weight="normal" >8.00</text>
<line x1="207.4" y1="743.3" x2="207.4" y2="745.8" stroke="#6e6e6e" stroke-width="1" />
<line x1="216.7" y1="743.3" x2="216.7" y2="745.8" stroke="#6e6e6e" stroke-width="1" />
<line x1="226.0" y1="743.3" x2="226.0" y2="745.8" stroke="#6e6e6e" stroke-width="1" />
<line x1="235.3" y1="743.3" x2="235.3" y2="745.8" stroke="#6e6e6e" stroke-width="1" />
<line x1="244.6" y1="743.3" x2="244.6" y2="747.8" stroke="#6e6e6e" stroke-width="1" />
<text x="244.6" y="757.3" font-size="9" text-anchor="middle" fill="#000" stroke="#000" stroke-width="0.3" font-weight="normal" >9.00</text>
<line x1="253.9" y1="743.3" x2="253.9" y2="745.8" stroke="#6e6e6e" stroke-width="1" />
<line x1="263.2" y1="743.3" x2="263.2" y2="745.8" stroke="#6e6e6e" stroke-width="1" />
<line x1="272.5" y1="743.3" x2="272.5" y2="745.8" stroke="#6e6e6e" stroke-width="1" />
<line x1="281.8" y1="743.3" x2="281.8" y2="745.8" stroke="#6e6e6e" stroke-width="1" />
<line x1="291.1" y1="743.3" x2="291.1" y2="747.8" stroke="#6e6e6e" stroke-width="1" />
<text x="291.1" y="757.3" font-size="9" text-anchor="middle" fill="#000" stroke="#000" stroke-width="0.3" font-weight="normal" >10.00</text>
<line x1="300.4" y1="743.3" x2="300.4" y2="745.8" stroke="#6e6e6e" stroke-width="1" />
<line x1="309.7" y1="743.3" x2="309.7" y2="745.8" stroke="#6e6e6e" stroke-width="1" />
<line x1="319.0" y1="743.3" x2="319.0" y2="745.8" stroke="#6e6e6e" stroke-width="1" />
<line x1="328.3" y1="743.3" x2="328.3" y2="745.8" stroke="#6e6e6e" stroke-width="1" />
<line x1="337.6" y1="743.3" x2="337.6" y2="747.8" stroke="#6e6e6e" stroke-width="1" />
<text x="337.6" y="757.3" font-size="9" text-anchor="middle" fill="#000" stroke="#000" stroke-width="0.3" font-weight="normal" >11.00</text>
<line x1="346.9" y1="743.3" x2="346.9" y2="745.8" stroke="#6e6e6e" stroke-width="1" />
<line x1="356.2" y1="743.3" x2="356.2" y2="745.8" stroke="#6e6e6e" stroke-width="1" />
<line x1="365.5" y1="743.3" x2="365.5" y2="745.8" stroke="#6e6e6e" stroke-width="1" />
<line x1="374.8" y1="743.3" x2="374.8" y2="745.8" stroke="#6e6e6e" stroke-width="1" />
<line x1="384.1" y1="743.3" x2="384.1" y2="747.8" stroke="#6e6e6e" stroke-width="1" />
<text x="384.1" y="757.3" font-size="9" text-anchor="middle" fill="#000" stroke="#000" stroke-width="0.3" font-weight="normal" >12.00</text>
<line x1="393.4" y1="743.3" x2="393.4" y2="745.8" stroke="#6e6e6e" stroke-width="1" />
<line x1="402.7" y1="743.3" x2="402.7" y2="745.8" stroke="#6e6e6e" stroke-width="1" />
<line x1="412.1" y1="743.3" x2="412.1" y2="745.8" stroke="#6e6e6e" stroke-width="1" />
<line x1="421.4" y1="743.3" x2="421.4" y2="745.8" stroke="#6e6e6e" stroke-width="1" />
<line x1="430.7" y1="743.3" x2="430.7" y2="747.8" stroke="#6e6e6e" stroke-width="1" />
<text x="430.7" y="757.3" font-size="9" text-anchor="middle" fill="#000" stroke="#000" stroke-width="0.3" font-weight="normal" >13.00</text>
<line x1="440.0" y1="743.3" x2="440.0" y2="745.8" stroke="#6e6e6e" stroke-width="1" />
<line x1="449.3" y1="743.3" x2="449.3" y2="745.8" stroke="#6e6e6e" stroke-width="1" />
<line x1="458.6" y1="743.3" x2="458.6" y2="745.8" stroke="#6e6e6e" stroke-width="1" />
<line x1="467.9" y1="743.3" x2="467.9" y2="745.8" stroke="#6e6e6e" stroke-width="1" />
<line x1="477.2" y1="743.3" x2="477.2" y2="747.8" stroke="#6e6e6e" stroke-width="1" />
<text x="477.2" y="757.3" font-size="9" text-anchor="middle" fill="#000" stroke="#000" stroke-width="0.3" font-weight="normal" >14.00</text>
<line x1="486.5" y1="743.3" x2="486.5" y2="745.8" stroke="#6e6e6e" stroke-width="1" />
<line x1="495.8" y1="743.3" x2="495.8" y2="745.8" stroke="#6e6e6e" stroke-width="1" />
<line x1="505.1" y1="743.3" x2="505.1" y2="745.8" stroke="#6e6e6e" stroke-width="1" />
<line x1="514.4" y1="743.3" x2="514.4" y2="745.8" stroke="#6e6e6e" stroke-width="1" />
<line x1="523.7" y1="743.3" x2="523.7" y2="747.8" stroke="#6e6e6e" stroke-width="1" />
<text x="523.7" y="757.3" font-size="9" text-anchor="middle" fill="#000" stroke="#000" stroke-width="0.3" font-weight="normal" >15.00</text>
<line x1="533.0" y1="743.3" x2="533.0" y2="745.8" stroke="#6e6e6e" stroke-width="1" />
<line x1="542.3" y1="743.3" x2="542.3" y2="745.8" stroke="#6e6e6e" stroke-width="1" />
<line x1="551.6" y1="743.3" x2="551.6" y2="745.8" stroke="#6e6e6e" stroke-width="1" />
<line x1="560.9" y1="743.3" x2="560.9" y2="745.8" stroke="#6e6e6e" stroke-width="1" />
<line x1="570.2" y1="743.3" x2="570.2" y2="747.8" stroke="#6e6e6e" stroke-width="1" />
<text x="570.2" y="757.3" font-size="9" text-anchor="middle" fill="#000" stroke="#000" stroke-width="0.3" font-weight="normal" >16.00</text>
<line x1="579.5" y1="743.3" x2="579.5" y2="745.8" stroke="#6e6e6e" stroke-width="1" />
<line x1="588.8" y1="743.3" x2="588.8" y2="745.8" stroke="#6e6e6e" stroke-width="1" />
<line x1="598.1" y1="743.3" x2="598.1" y2="745.8" stroke="#6e6e6e" stroke-width="1" />
<line x1="607.4" y1="743.3" x2="607.4" y2="745.8" stroke="#6e6e6e" stroke-width="1" />
<line x1="616.7" y1="743.3" x2="616.7" y2="747.8" stroke="#6e6e6e" stroke-width="1" />
<text x="616.7" y="757.3" font-size="9" text-anchor="middle" fill="#000" stroke="#000" stroke-width="0.3" font-weight="normal" >17.00</text>
<line x1="626.0" y1="743.3" x2="626.0" y2="745.8" stroke="#6e6e6e" stroke-width="1" />
<line x1="635.3" y1="743.3" x2="635.3" y2="745.8" stroke="#6e6e6e" stroke-width="1" />
<line x1="644.7" y1="743.3" x2="644.7" y2="745.8" stroke="#6e6e6e" stroke-width="1" />
<line x1="654.0" y1="743.3" x2="654.0" y2="745.8" stroke="#6e6e6e" stroke-width="1" />
<line x1="663.3" y1="743.3" x2="663.3" y2="747.8" stroke="#6e6e6e" stroke-width="1" />
<text transform="translate(10.5,556) rotate(-90)" font-size="11" text-anchor="middle" fill="#1010ff" stroke="#1010ff" stroke-width="0.3">Abundance</text>
<text x="360.5" y="772.0" font-size="11.5" text-anchor="middle" fill="#1010ff" stroke="#1010ff" stroke-width="0.15" font-weight="normal" >Time (mins)</text>
<g clip-path="url(#clipD)">
<polyline points="58.5,733.8 58.8,734.2 59.1,734.7 59.3,735.1 59.6,735.3 59.9,735.6 60.2,736.0 60.5,736.3 60.7,736.5 61.0,736.7 61.3,736.9 61.6,737.1 61.8,737.1 62.1,737.0 62.4,736.9 62.7,736.7 63.0,736.8 63.2,737.0 63.5,736.9 63.8,736.9 64.1,737.0 64.4,736.9 64.6,737.0 64.9,736.9 65.2,737.0 65.5,736.9 65.8,737.0 66.0,737.0 66.3,737.3 66.6,737.3 66.9,737.7 67.2,737.7 67.4,737.8 67.7,737.5 68.0,737.3 68.3,737.4 68.5,737.3 68.8,737.2 69.1,737.2 69.4,737.3 69.7,737.5 69.9,737.5 70.2,737.4 70.5,737.4 70.8,737.3 71.1,737.3 71.3,737.1 71.6,737.1 71.9,737.3 72.2,737.4 72.5,737.5 72.7,737.6 73.0,737.6 73.3,737.8 73.6,737.9 73.9,737.8 74.1,737.8 74.4,737.5 74.7,737.5 75.0,737.5 75.2,737.4 75.5,737.5 75.8,737.6 76.1,737.5 76.4,737.7 76.6,737.6 76.9,737.5 77.2,737.5 77.5,737.4 77.8,737.2 78.0,737.3 78.3,737.2 78.6,737.3 78.9,737.4 79.2,737.6 79.4,737.5 79.7,737.7 80.0,737.8 80.3,738.0 80.6,738.1 80.8,738.1 81.1,738.3 81.4,738.3 81.7,738.4 81.9,738.4 82.2,738.4 82.5,738.3 82.8,738.2 83.1,738.2 83.3,738.4 83.6,738.3 83.9,738.2 84.2,738.2 84.5,738.3 84.7,738.3 85.0,738.4 85.3,738.4 85.6,738.4 85.9,738.4 86.1,738.4 86.4,738.4 86.7,738.3 87.0,738.2 87.2,738.0 87.5,737.7 87.8,736.7 88.1,734.9 88.4,732.3 88.6,729.9 88.9,729.0 89.2,730.1 89.5,732.6 89.8,735.0 90.0,736.8 90.3,737.9 90.6,738.3 90.9,738.4 91.2,738.3 91.4,738.1 91.7,738.1 92.0,738.0 92.3,737.3 92.6,736.4 92.8,735.0 93.1,733.2 93.4,731.3 93.7,729.2 93.9,727.3 94.2,726.3 94.5,726.6 94.8,728.0 95.1,730.0 95.3,732.2 95.6,734.0 95.9,735.7 96.2,736.9 96.5,737.6 96.7,738.0 97.0,738.3 97.3,738.5 97.6,738.7 97.9,738.7 98.1,738.8 98.4,738.7 98.7,738.6 99.0,738.4 99.3,738.3 99.5,738.2 99.8,738.2 100.1,738.2 100.4,738.2 100.6,738.1 100.9,738.3 101.2,738.4 101.5,738.4 101.8,738.4 102.0,738.4 102.3,738.4 102.6,738.4 102.9,738.5 103.2,738.6 103.4,738.5 103.7,738.6 104.0,738.6 104.3,738.6 104.6,738.6 104.8,738.6 105.1,738.6 105.4,738.5 105.7,738.3 106.0,738.2 106.2,738.1 106.5,738.0 106.8,737.9 107.1,737.8 107.3,737.8 107.6,738.1 107.9,738.1 108.2,738.3 108.5,738.3 108.7,738.4 109.0,738.4 109.3,738.2 109.6,737.9 109.9,737.7 110.1,737.0 110.4,736.0 110.7,734.7 111.0,732.8 111.3,730.8 111.5,729.0 111.8,727.8 112.1,727.6 112.4,728.4 112.6,729.8 112.9,731.8 113.2,733.8 113.5,735.4 113.8,736.5 114.0,737.1 114.3,737.5 114.6,737.8 114.9,738.0 115.2,738.1 115.4,738.0 115.7,738.1 116.0,738.2 116.3,738.1 116.6,738.2 116.8,738.1 117.1,738.0 117.4,738.2 117.7,738.1 118.0,738.0 118.2,738.3 118.5,738.3 118.8,738.2 119.1,738.2 119.3,738.1 119.6,738.2 119.9,738.3 120.2,738.3 120.5,738.3 120.7,738.1 121.0,738.1 121.3,738.2 121.6,738.1 121.9,738.0 122.1,737.9 122.4,737.9 122.7,738.0 123.0,738.0 123.3,738.0 123.5,738.1 123.8,738.0 124.1,738.2 124.4,738.2 124.7,738.2 124.9,738.2 125.2,738.3 125.5,738.1 125.8,738.1 126.0,738.1 126.3,738.2 126.6,738.2 126.9,738.2 127.2,738.1 127.4,738.1 127.7,738.1 128.0,738.0 128.3,738.1 128.6,738.1 128.8,737.9 129.1,737.9 129.4,737.9 129.7,737.8 130.0,737.4 130.2,736.5 130.5,734.7 130.8,731.1 131.1,724.6 131.4,714.0 131.6,698.5 131.9,678.3 132.2,654.8 132.5,631.8 132.7,613.7 133.0,605.5 133.3,615.3 133.6,631.9 133.9,651.7 134.1,672.1 134.4,690.4 134.7,705.2 135.0,716.0 135.3,723.2 135.5,727.8 135.8,730.7 136.1,732.6 136.4,733.9 136.7,734.8 136.9,735.5 137.2,736.1 137.5,736.4 137.8,736.8 138.0,737.3 138.3,737.2 138.6,737.4 138.9,737.6 139.2,737.4 139.4,737.7 139.7,737.7 140.0,737.6 140.3,737.8 140.6,737.9 140.8,737.9 141.1,738.0 141.4,738.0 141.7,738.2 142.0,738.2 142.2,738.1 142.5,738.1 142.8,738.2 143.1,738.2 143.4,738.2 143.6,738.1 143.9,738.1 144.2,738.2 144.5,738.2 144.7,738.2 145.0,738.4 145.3,738.5 145.6,738.6 145.9,738.4 146.1,738.5 146.4,738.4 146.7,738.4 147.0,738.3 147.3,738.1 147.5,738.0 147.8,738.1 148.1,738.0 148.4,738.2 148.7,738.2 148.9,738.2 149.2,738.3 149.5,738.5 149.8,738.4 150.1,738.4 150.3,738.5 150.6,738.4 150.9,738.4 151.2,738.4 151.4,738.4 151.7,738.5 152.0,738.5 152.3,738.2 152.6,738.3 152.8,738.2 153.1,738.2 153.4,738.1 153.7,738.2 154.0,738.1 154.2,738.1 154.5,737.9 154.8,738.0 155.1,737.9 155.4,738.0 155.6,737.9 155.9,737.9 156.2,737.8 156.5,737.8 156.8,737.5 157.0,737.1 157.3,736.1 157.6,734.4 157.9,731.8 158.1,727.9 158.4,722.4 158.7,715.7 159.0,708.3 159.3,701.1 159.5,695.3 159.8,692.4 160.1,694.0 160.4,698.0 160.7,702.8 160.9,708.2 161.2,713.4 161.5,718.1 161.8,721.8 162.1,724.8 162.3,726.9 162.6,728.6 162.9,729.7 163.2,730.7 163.4,731.5 163.7,732.3 164.0,732.9 164.3,733.4 164.6,734.0 164.8,734.5 165.1,734.9 165.4,735.3 165.7,735.7 166.0,736.0 166.2,736.3 166.5,736.4 166.8,736.8 167.1,737.0 167.4,737.1 167.6,737.1 167.9,737.2 168.2,737.3 168.5,737.3 168.8,737.2 169.0,737.3 169.3,737.4 169.6,737.5 169.9,737.5 170.1,737.5 170.4,737.7 170.7,737.9 171.0,737.8 171.3,737.9 171.5,738.0 171.8,738.2 172.1,738.4 172.4,738.5 172.7,738.4 172.9,738.4 173.2,738.4 173.5,738.4 173.8,738.3 174.1,738.3 174.3,738.2 174.6,738.4 174.9,738.4 175.2,738.3 175.5,738.3 175.7,738.5 176.0,738.5 176.3,738.4 176.6,738.3 176.8,738.3 177.1,738.1 177.4,737.9 177.7,737.3 178.0,736.7 178.2,736.0 178.5,735.3 178.8,734.3 179.1,733.3 179.4,732.3 179.6,731.6 179.9,730.8 180.2,730.4 180.5,730.5 180.8,731.1 181.0,731.9 181.3,732.6 181.6,733.3 181.9,734.1 182.2,734.7 182.4,735.4 182.7,735.9 183.0,736.3 183.3,736.7 183.5,737.1 183.8,737.3 184.1,737.5 184.4,737.7 184.7,737.6 184.9,737.7 185.2,737.6 185.5,737.7 185.8,737.7 186.1,737.9 186.3,737.9 186.6,737.9 186.9,737.7 187.2,737.8 187.5,737.7 187.7,737.8 188.0,737.8 188.3,737.8 188.6,738.1 188.8,738.3 189.1,738.4 189.4,738.4 189.7,738.5 190.0,738.4 190.2,738.5 190.5,738.5 190.8,738.3 191.1,738.2 191.4,738.3 191.6,738.3 191.9,738.4 192.2,738.3 192.5,738.2 192.8,738.4 193.0,738.4 193.3,738.3 193.6,738.2 193.9,738.2 194.2,738.3 194.4,738.3 194.7,738.2 195.0,738.4 195.3,738.7 195.5,738.6 195.8,738.6 196.1,738.5 196.4,738.7 196.7,738.5 196.9,738.6 197.2,738.6 197.5,738.6 197.8,738.6 198.1,738.6 198.3,738.5 198.6,738.7 198.9,738.5 199.2,738.4 199.5,738.5 199.7,738.5 200.0,738.5 200.3,738.4 200.6,738.3 200.9,738.2 201.1,738.1 201.4,738.0 201.7,737.9 202.0,737.9 202.2,738.1 202.5,738.0 202.8,738.1 203.1,738.0 203.4,738.1 203.6,738.2 203.9,738.0 204.2,737.9 204.5,737.9 204.8,737.9 205.0,737.9 205.3,737.8 205.6,737.3 205.9,736.9 206.2,736.0 206.4,734.7 206.7,732.9 207.0,730.6 207.3,728.0 207.6,725.2 207.8,722.1 208.1,719.0 208.4,716.0 208.7,713.6 208.9,712.1 209.2,711.7 209.5,713.4 209.8,715.4 210.1,717.6 210.3,720.3 210.6,722.8 210.9,725.2 211.2,727.3 211.5,729.3 211.7,731.0 212.0,732.4 212.3,733.4 212.6,734.2 212.9,734.8 213.1,735.2 213.4,735.6 213.7,735.7 214.0,735.9 214.2,736.1 214.5,736.1 214.8,736.3 215.1,736.6 215.4,736.5 215.6,736.6 215.9,736.4 216.2,736.4 216.5,736.4 216.8,736.4 217.0,736.2 217.3,736.0 217.6,735.8 217.9,735.6 218.2,735.5 218.4,735.2 218.7,734.9 219.0,734.5 219.3,734.2 219.6,734.2 219.8,734.2 220.1,734.0 220.4,733.7 220.7,733.6 220.9,733.8 221.2,733.7 221.5,733.6 221.8,733.7 222.1,733.7 222.3,733.9 222.6,734.0 222.9,734.2 223.2,734.6 223.5,734.8 223.7,735.0 224.0,735.2 224.3,735.5 224.6,736.0 224.9,736.1 225.1,736.1 225.4,736.4 225.7,736.8 226.0,736.9 226.3,736.9 226.5,737.0 226.8,737.2 227.1,737.3 227.4,737.4 227.6,737.2 227.9,737.2 228.2,737.5 228.5,737.7 228.8,737.6 229.0,737.6 229.3,737.7 229.6,737.8 229.9,738.0 230.2,738.0 230.4,738.0 230.7,737.9 231.0,737.9 231.3,737.9 231.6,737.8 231.8,737.9 232.1,737.8 232.4,738.0 232.7,738.1 233.0,737.9 233.2,737.9 233.5,737.9 233.8,738.0 234.1,738.1 234.3,737.9 234.6,737.8 234.9,737.9 235.2,737.8 235.5,737.8 235.7,737.7 236.0,737.6 236.3,737.5 236.6,737.4 236.9,737.1 237.1,736.8 237.4,736.1 237.7,735.0 238.0,733.2 238.3,730.8 238.5,727.4 238.8,723.5 239.1,719.0 239.4,714.9 239.6,712.0 239.9,710.9 240.2,712.1 240.5,715.1 240.8,719.0 241.0,723.6 241.3,727.7 241.6,731.0 241.9,733.5 242.2,735.3 242.4,736.2 242.7,736.9 243.0,737.0 243.3,737.2 243.6,737.1 243.8,737.1 244.1,737.0 244.4,737.1 244.7,737.0 245.0,737.0 245.2,737.0 245.5,737.0 245.8,737.1 246.1,737.3 246.3,737.3 246.6,737.4 246.9,737.2 247.2,737.1 247.5,737.1 247.7,736.9 248.0,736.7 248.3,736.5 248.6,736.0 248.9,735.4 249.1,734.4 249.4,733.0 249.7,731.2 250.0,729.6 250.3,728.3 250.5,727.5 250.8,727.7 251.1,728.9 251.4,730.7 251.7,732.4 251.9,733.6 252.2,734.5 252.5,735.5 252.8,735.8 253.0,735.6 253.3,735.7 253.6,735.7 253.9,735.8 254.2,735.6 254.4,735.6 254.7,735.4 255.0,735.0 255.3,734.5 255.6,733.7 255.8,732.8 256.1,731.8 256.4,730.1 256.7,728.2 257.0,726.4 257.2,723.6 257.5,721.0 257.8,718.0 258.1,714.6 258.3,711.7 258.6,708.6 258.9,705.8 259.2,703.4 259.5,701.4 259.7,700.3 260.0,700.2 260.3,700.6 260.6,701.5 260.9,703.1 261.1,704.8 261.4,706.7 261.7,708.5 262.0,710.2 262.3,712.0 262.5,713.6 262.8,715.0 263.1,716.6 263.4,717.7 263.7,718.7 263.9,719.6 264.2,720.4 264.5,720.7 264.8,721.3 265.0,721.9 265.3,722.4 265.6,722.3 265.9,722.4 266.2,722.3 266.4,722.5 266.7,722.6 267.0,722.9 267.3,723.0 267.6,723.2 267.8,723.2 268.1,723.3 268.4,723.5 268.7,724.1 269.0,723.5 269.2,723.6 269.5,724.0 269.8,724.4 270.1,724.3 270.4,724.4 270.6,724.3 270.9,724.6 271.2,724.9 271.5,725.0 271.7,724.8 272.0,724.8 272.3,724.6 272.6,724.7 272.9,724.8 273.1,724.8 273.4,724.6 273.7,724.9 274.0,724.9 274.3,725.2 274.5,725.3 274.8,725.4 275.1,725.6 275.4,725.7 275.7,725.9 275.9,726.0 276.2,726.2 276.5,726.4 276.8,726.8 277.1,727.1 277.3,727.4 277.6,727.8 277.9,727.9 278.2,728.4 278.4,728.0 278.7,728.1 279.0,727.7 279.3,727.5 279.6,727.8 279.8,728.0 280.1,728.1 280.4,728.1 280.7,728.0 281.0,728.2 281.2,728.6 281.5,728.9 281.8,729.2 282.1,729.0 282.4,729.1 282.6,729.4 282.9,729.5 283.2,729.6 283.5,729.6 283.7,729.7 284.0,729.8 284.3,730.2 284.6,730.3 284.9,730.3 285.1,730.8 285.4,731.0 285.7,731.3 286.0,731.3 286.3,731.1 286.5,731.5 286.8,731.5 287.1,731.5 287.4,731.4 287.7,731.3 287.9,731.1 288.2,731.0 288.5,731.0 288.8,730.9 289.1,731.0 289.3,730.6 289.6,730.3 289.9,730.6 290.2,731.1 290.4,731.0 290.7,730.8 291.0,730.8 291.3,730.8 291.6,731.0 291.8,730.8 292.1,730.8 292.4,730.7 292.7,731.0 293.0,731.3 293.2,731.3 293.5,731.4 293.8,731.3 294.1,731.4 294.4,731.4 294.6,731.2 294.9,730.8 295.2,730.7 295.5,730.7 295.8,731.0 296.0,730.6 296.3,730.6 296.6,730.3 296.9,729.8 297.1,729.6 297.4,729.5 297.7,728.9 298.0,729.2 298.3,729.2 298.5,729.2 298.8,729.0 299.1,729.3 299.4,729.2 299.7,729.3 299.9,729.3 300.2,729.0 300.5,728.9 300.8,729.1 301.1,728.9 301.3,729.3 301.6,729.4 301.9,729.5 302.2,729.5 302.5,729.4 302.7,729.2 303.0,729.2 303.3,729.0 303.6,728.9 303.8,728.9 304.1,728.6 304.4,728.6 304.7,729.0 305.0,729.0 305.2,728.8 305.5,728.9 305.8,728.1 306.1,728.1 306.4,727.9 306.6,727.4 306.9,726.9 307.2,726.6 307.5,725.8 307.8,725.4 308.0,725.3 308.3,724.8 308.6,724.5 308.9,724.3 309.1,724.0 309.4,723.8 309.7,724.0 310.0,724.1 310.3,724.4 310.5,724.7 310.8,724.9 311.1,725.2 311.4,726.1 311.7,726.6 311.9,726.9 312.2,727.1 312.5,727.1 312.8,727.1 313.1,727.5 313.3,727.4 313.6,727.6 313.9,728.0 314.2,728.2 314.5,728.4 314.7,728.6 315.0,728.5 315.3,729.0 315.6,729.3 315.8,729.4 316.1,729.0 316.4,729.0 316.7,728.8 317.0,728.7 317.2,728.6 317.5,728.2 317.8,728.5 318.1,728.9 318.4,729.1 318.6,729.5 318.9,729.8 319.2,729.9 319.5,730.1 319.8,730.1 320.0,729.9 320.3,729.7 320.6,729.5 320.9,729.3 321.2,729.2 321.4,729.5 321.7,729.3 322.0,729.3 322.3,729.2 322.5,729.2 322.8,729.4 323.1,729.2 323.4,728.9 323.7,729.4 323.9,729.5 324.2,729.7 324.5,729.5 324.8,729.6 325.1,729.6 325.3,729.3 325.6,729.1 325.9,729.0 326.2,729.1 326.5,729.4 326.7,729.1 327.0,729.2 327.3,729.4 327.6,729.5 327.9,729.3 328.1,729.3 328.4,728.9 328.7,729.2 329.0,729.1 329.2,728.7 329.5,728.7 329.8,728.7 330.1,729.0 330.4,729.0 330.6,729.0 330.9,728.9 331.2,728.8 331.5,728.8 331.8,728.9 332.0,728.7 332.3,728.8 332.6,728.9 332.9,729.0 333.2,729.5 333.4,729.2 333.7,729.3 334.0,728.8 334.3,728.7 334.5,728.3 334.8,728.6 335.1,728.5 335.4,728.4 335.7,728.2 335.9,728.7 336.2,728.7 336.5,728.8 336.8,727.9 337.1,727.4 337.3,726.2 337.6,724.6 337.9,721.6 338.2,717.7 338.5,713.6 338.7,709.7 339.0,706.7 339.3,705.8 339.6,707.2 339.9,710.5 340.1,714.5 340.4,718.3 340.7,721.9 341.0,724.6 341.2,726.2 341.5,727.4 341.8,727.6 342.1,727.9 342.4,728.4 342.6,728.8 342.9,728.8 343.2,729.1 343.5,728.8 343.8,728.7 344.0,728.4 344.3,728.4 344.6,728.0 344.9,727.8 345.2,727.5 345.4,727.4 345.7,727.9 346.0,727.7 346.3,727.6 346.6,728.1 346.8,727.8 347.1,727.8 347.4,727.8 347.7,727.8 347.9,728.0 348.2,728.2 348.5,727.6 348.8,727.0 349.1,726.4 349.3,726.5 349.6,726.0 349.9,724.9 350.2,723.8 350.5,723.3 350.7,723.2 351.0,722.7 351.3,721.8 351.6,721.0 351.9,720.9 352.1,720.4 352.4,720.1 352.7,719.4 353.0,719.5 353.3,719.8 353.5,720.4 353.8,720.9 354.1,721.8 354.4,722.6 354.6,723.2 354.9,723.9 355.2,724.5 355.5,724.9 355.8,724.9 356.0,725.4 356.3,726.0 356.6,726.6 356.9,727.1 357.2,727.1 357.4,727.4 357.7,727.9 358.0,728.1 358.3,728.2 358.6,728.1 358.8,728.1 359.1,728.5 359.4,728.4 359.7,728.3 359.9,728.6 360.2,728.2 360.5,728.2 360.8,728.3 361.1,728.2 361.3,728.1 361.6,728.6 361.9,728.4 362.2,728.4 362.5,728.4 362.7,728.5 363.0,728.6 363.3,728.7 363.6,728.6 363.9,729.0 364.1,728.9 364.4,728.9 364.7,728.9 365.0,729.0 365.3,729.2 365.5,729.0 365.8,728.9 366.1,729.1 366.4,729.0 366.6,728.6 366.9,728.7 367.2,728.4 367.5,728.3 367.8,728.1 368.0,727.9 368.3,728.2 368.6,728.3 368.9,728.5 369.2,728.2 369.4,728.3 369.7,728.3 370.0,728.2 370.3,728.0 370.6,728.1 370.8,728.2 371.1,728.4 371.4,728.8 371.7,728.3 372.0,728.4 372.2,728.4 372.5,728.3 372.8,728.1 373.1,728.1 373.3,728.3 373.6,728.7 373.9,728.4 374.2,728.2 374.5,728.4 374.7,728.5 375.0,728.8 375.3,728.8 375.6,728.9 375.9,729.4 376.1,729.4 376.4,729.4 376.7,729.6 377.0,729.3 377.3,729.6 377.5,729.9 377.8,729.9 378.1,730.0 378.4,730.3 378.7,730.1 378.9,730.2 379.2,730.0 379.5,729.9 379.8,730.0 380.0,729.7 380.3,729.5 380.6,729.8 380.9,730.2 381.2,730.3 381.4,730.7 381.7,730.7 382.0,730.9 382.3,730.9 382.6,730.5 382.8,730.3 383.1,729.9 383.4,729.5 383.7,729.2 384.0,729.3 384.2,729.2 384.5,729.2 384.8,729.7 385.1,730.2 385.3,730.2 385.6,730.4 385.9,730.0 386.2,730.0 386.5,729.7 386.7,729.6 387.0,729.5 387.3,729.9 387.6,729.9 387.9,729.7 388.1,729.5 388.4,729.6 388.7,729.3 389.0,729.1 389.3,728.4 389.5,728.4 389.8,728.4 390.1,728.2 390.4,728.4 390.7,728.3 390.9,728.3 391.2,728.8 391.5,728.5 391.8,728.6 392.0,728.4 392.3,728.1 392.6,728.1 392.9,727.8 393.2,727.9 393.4,728.4 393.7,728.4 394.0,728.6 394.3,728.2 394.6,727.4 394.8,727.4 395.1,727.0 395.4,726.0 395.7,725.8 396.0,725.2 396.2,725.4 396.5,725.2 396.8,724.8 397.1,724.8 397.4,724.2 397.6,723.7 397.9,723.7 398.2,723.6 398.5,723.3 398.7,723.2 399.0,722.7 399.3,723.2 399.6,723.2 399.9,722.7 400.1,722.5 400.4,722.6 400.7,722.7 401.0,722.9 401.3,723.0 401.5,722.7 401.8,723.0 402.1,723.3 402.4,723.5 402.7,723.6 402.9,723.7 403.2,723.6 403.5,723.9 403.8,724.6 404.1,725.1 404.3,725.3 404.6,725.6 404.9,725.7 405.2,726.0 405.4,726.1 405.7,726.1 406.0,725.7 406.3,725.5 406.6,725.4 406.8,725.2 407.1,725.1 407.4,724.4 407.7,724.0 408.0,723.7 408.2,723.3 408.5,722.9 408.8,722.2 409.1,721.8 409.4,722.1 409.6,722.4 409.9,722.7 410.2,723.0 410.5,723.6 410.7,724.0 411.0,724.5 411.3,725.2 411.6,725.4 411.9,725.8 412.1,726.6 412.4,727.0 412.7,727.9 413.0,728.6 413.3,729.1 413.5,729.5 413.8,730.0 414.1,730.0 414.4,730.0 414.7,729.7 414.9,729.7 415.2,729.2 415.5,729.3 415.8,728.9 416.1,729.3 416.3,729.5 416.6,729.9 416.9,729.9 417.2,730.1 417.4,730.0 417.7,730.1 418.0,730.0 418.3,730.0 418.6,730.1 418.8,729.8 419.1,730.4 419.4,730.6 419.7,730.7 420.0,730.9 420.2,730.6 420.5,730.4 420.8,730.7 421.1,730.5 421.4,730.0 421.6,729.9 421.9,729.9 422.2,730.4 422.5,730.3 422.8,730.5 423.0,730.6 423.3,730.9 423.6,730.9 423.9,730.9 424.1,730.6 424.4,730.8 424.7,730.8 425.0,730.1 425.3,730.0 425.5,729.9 425.8,729.4 426.1,729.8 426.4,729.6 426.7,729.5 426.9,730.1 427.2,729.8 427.5,729.9 427.8,729.7 428.1,729.3 428.3,729.4 428.6,729.5 428.9,729.5 429.2,729.8 429.5,729.6 429.7,730.2 430.0,730.3 430.3,730.1 430.6,729.9 430.8,729.8 431.1,729.6 431.4,729.5 431.7,729.3 432.0,728.9 432.2,728.3 432.5,727.9 432.8,727.9 433.1,727.1 433.4,726.5 433.6,725.6 433.9,724.4 434.2,723.5 434.5,722.1 434.8,720.7 435.0,719.2 435.3,716.9 435.6,715.1 435.9,713.2 436.1,711.5 436.4,710.5 436.7,709.5 437.0,709.5 437.3,709.7 437.5,709.8 437.8,710.4 438.1,711.0 438.4,710.8 438.7,710.9 438.9,710.9 439.2,710.9 439.5,710.8 439.8,710.9 440.1,710.8 440.3,710.9 440.6,711.3 440.9,711.5 441.2,713.1 441.5,714.8 441.7,715.8 442.0,717.4 442.3,719.2 442.6,720.6 442.8,722.2 443.1,723.5 443.4,725.2 443.7,726.7 444.0,727.9 444.2,728.5 444.5,729.5 444.8,730.0 445.1,730.8 445.4,731.5 445.6,732.1 445.9,732.2 446.2,732.8 446.5,733.3 446.8,733.8 447.0,734.2 447.3,734.4 447.6,734.5 447.9,734.7 448.2,734.7 448.4,735.0 448.7,734.8 449.0,734.9 449.3,735.0 449.5,735.0 449.8,735.3 450.1,735.6 450.4,735.5 450.7,735.7 450.9,735.7 451.2,735.6 451.5,735.7 451.8,735.6 452.1,735.5 452.3,735.3 452.6,735.5 452.9,735.6 453.2,735.5 453.5,735.6 453.7,735.7 454.0,735.8 454.3,736.1 454.6,736.1 454.9,736.1 455.1,736.1 455.4,736.2 455.7,736.0 456.0,735.9 456.2,735.8 456.5,735.7 456.8,735.8 457.1,735.9 457.4,736.0 457.6,735.8 457.9,735.9 458.2,736.1 458.5,736.1 458.8,736.0 459.0,736.0 459.3,736.0 459.6,736.1 459.9,736.2 460.2,736.1 460.4,736.1 460.7,736.2 461.0,736.1 461.3,736.1 461.5,736.0 461.8,736.0 462.1,736.1 462.4,736.2 462.7,736.2 462.9,736.2 463.2,735.9 463.5,736.0 463.8,735.9 464.1,736.1 464.3,736.1 464.6,735.9 464.9,735.9 465.2,736.1 465.5,735.9 465.7,735.8 466.0,735.5 466.3,735.5 466.6,735.7 466.9,735.8 467.1,735.7 467.4,735.8 467.7,735.8 468.0,736.0 468.2,736.2 468.5,736.0 468.8,736.1 469.1,736.0 469.4,736.0 469.6,736.2 469.9,736.0 470.2,736.2 470.5,736.2 470.8,736.3 471.0,736.5 471.3,736.6 471.6,736.4 471.9,736.5 472.2,736.4 472.4,736.4 472.7,736.5 473.0,736.5 473.3,736.4 473.6,736.3 473.8,736.5 474.1,736.4 474.4,736.5 474.7,736.7 474.9,736.9 475.2,737.0 475.5,737.1 475.8,736.8 476.1,736.9 476.3,736.9 476.6,736.8 476.9,736.6 477.2,736.5 477.5,736.3 477.7,736.5 478.0,736.4 478.3,736.3 478.6,736.3 478.9,736.4 479.1,736.5 479.4,736.7 479.7,736.8 480.0,736.8 480.3,736.9 480.5,736.8 480.8,737.0 481.1,737.0 481.4,736.8 481.6,736.7 481.9,736.4 482.2,736.4 482.5,736.4 482.8,736.2 483.0,736.3 483.3,736.5 483.6,736.4 483.9,736.6 484.2,736.5 484.4,736.4 484.7,736.5 485.0,736.4 485.3,736.3 485.6,736.4 485.8,736.3 486.1,736.3 486.4,736.4 486.7,736.6 486.9,736.7 487.2,736.7 487.5,736.7 487.8,736.8 488.1,736.8 488.3,737.0 488.6,736.8 488.9,736.9 489.2,737.0 489.5,737.2 489.7,737.2 490.0,736.9 490.3,736.8 490.6,736.8 490.9,736.9 491.1,736.8 491.4,736.8 491.7,737.0 492.0,737.2 492.3,737.2 492.5,737.1 492.8,737.1 493.1,737.4 493.4,737.4 493.6,737.3 493.9,737.0 494.2,736.9 494.5,736.7 494.8,736.6 495.0,736.5 495.3,736.5 495.6,736.6 495.9,736.9 496.2,737.0 496.4,737.2 496.7,737.0 497.0,737.0 497.3,737.1 497.6,737.0 497.8,737.1 498.1,736.9 498.4,736.9 498.7,737.3 499.0,737.5 499.2,737.3 499.5,737.4 499.8,737.3 500.1,737.2 500.3,737.2 500.6,736.9 500.9,736.8 501.2,736.9 501.5,737.1 501.7,736.9 502.0,737.0 502.3,736.9 502.6,737.0 502.9,736.8 503.1,736.9 503.4,736.9 503.7,737.0 504.0,737.0 504.3,737.2 504.5,737.2 504.8,737.5 505.1,737.6 505.4,737.4 505.7,737.4 505.9,737.6 506.2,737.4 506.5,737.4 506.8,737.1 507.0,737.0 507.3,737.2 507.6,737.2 507.9,737.1 508.2,737.2 508.4,737.2 508.7,737.4 509.0,737.3 509.3,737.3 509.6,737.3 509.8,737.1 510.1,737.1 510.4,737.1 510.7,736.9 511.0,736.9 511.2,736.8 511.5,737.0 511.8,736.9 512.1,737.1 512.3,737.0 512.6,737.0 512.9,737.0 513.2,736.8 513.5,736.8 513.7,736.8 514.0,736.8 514.3,736.9 514.6,737.0 514.9,736.9 515.1,737.0 515.4,736.9 515.7,736.9 516.0,736.8 516.3,736.7 516.5,736.6 516.8,736.8 517.1,736.9 517.4,736.8 517.7,736.8 517.9,736.7 518.2,736.6 518.5,736.6 518.8,736.5 519.0,736.5 519.3,736.5 519.6,736.6 519.9,736.7 520.2,736.9 520.4,736.9 520.7,736.9 521.0,736.6 521.3,736.5 521.6,736.3 521.8,736.2 522.1,736.1 522.4,736.3 522.7,736.2 523.0,736.5 523.2,736.6 523.5,736.6 523.8,736.8 524.1,736.9 524.4,736.9 524.6,736.9 524.9,736.8 525.2,736.8 525.5,737.0 525.7,737.1 526.0,736.9 526.3,737.0 526.6,737.2 526.9,737.2 527.1,737.2 527.4,737.2 527.7,737.2 528.0,737.4 528.3,737.3 528.5,737.2 528.8,737.1 529.1,737.3 529.4,737.3 529.7,737.4 529.9,737.4 530.2,737.3 530.5,737.3 530.8,737.2 531.1,736.9 531.3,737.1 531.6,737.1 531.9,737.0 532.2,737.3 532.4,737.4 532.7,737.4 533.0,737.4 533.3,737.5 533.6,737.2 533.8,737.1 534.1,736.9 534.4,736.9 534.7,737.1 535.0,737.0 535.2,736.9 535.5,737.1 535.8,737.2 536.1,737.2 536.4,737.3 536.6,737.4 536.9,737.6 537.2,737.6 537.5,737.6 537.7,737.6 538.0,737.7 538.3,737.6 538.6,737.5 538.9,737.5 539.1,737.5 539.4,737.5 539.7,737.3 540.0,737.3 540.3,737.0 540.5,737.0 540.8,736.9 541.1,737.1 541.4,737.2 541.7,737.2 541.9,737.2 542.2,737.3 542.5,737.2 542.8,737.3 543.1,737.2 543.3,737.2 543.6,737.2 543.9,737.2 544.2,737.3 544.4,737.3 544.7,737.2 545.0,737.2 545.3,737.2 545.6,737.4 545.8,737.3 546.1,737.3 546.4,737.3 546.7,737.3 547.0,737.4 547.2,737.2 547.5,737.2 547.8,737.2 548.1,737.3 548.4,737.2 548.6,737.4 548.9,737.2 549.2,737.3 549.5,737.5 549.8,737.6 550.0,737.7 550.3,737.8 550.6,737.8 550.9,737.9 551.1,737.8 551.4,737.8 551.7,737.7 552.0,737.5 552.3,737.5 552.5,737.5 552.8,737.7 553.1,737.8 553.4,737.8 553.7,737.7 553.9,737.7 554.2,737.8 554.5,737.6 554.8,737.5 555.1,737.5 555.3,737.3 555.6,737.3 555.9,737.3 556.2,737.4 556.5,737.3 556.7,737.2 557.0,737.1 557.3,736.8 557.6,736.4 557.8,735.5 558.1,734.2 558.4,733.0 558.7,732.1 559.0,731.9 559.2,732.4 559.5,733.6 559.8,734.7 560.1,735.9 560.4,736.7 560.6,737.0 560.9,737.1 561.2,737.2 561.5,737.0 561.8,737.0 562.0,737.0 562.3,736.9 562.6,736.4 562.9,736.5 563.1,736.5 563.4,736.5 563.7,736.5 564.0,736.5 564.3,736.6 564.5,736.8 564.8,737.1 565.1,737.2 565.4,737.3 565.7,737.4 565.9,737.2 566.2,737.3 566.5,737.2 566.8,737.1 567.1,737.0 567.3,737.0 567.6,736.8 567.9,736.8 568.2,736.5 568.5,736.7 568.7,736.7 569.0,736.6 569.3,736.7 569.6,736.9 569.8,737.0 570.1,737.2 570.4,737.0 570.7,736.9 571.0,736.9 571.2,736.9 571.5,736.7 571.8,736.8 572.1,736.7 572.4,736.7 572.6,736.9 572.9,736.8 573.2,736.7 573.5,736.7 573.8,736.8 574.0,736.8 574.3,736.8 574.6,736.8 574.9,736.7 575.2,736.6 575.4,736.6 575.7,736.6 576.0,736.5 576.3,736.3 576.5,736.2 576.8,736.3 577.1,736.4 577.4,736.5 577.7,736.4 577.9,736.5 578.2,736.5 578.5,736.3 578.8,736.1 579.1,735.9 579.3,735.5 579.6,735.1 579.9,734.6 580.2,734.1 580.5,733.5 580.7,732.8 581.0,732.3 581.3,731.7 581.6,731.4 581.9,731.4 582.1,731.0 582.4,731.3 582.7,732.0 583.0,732.6 583.2,733.3 583.5,734.1 583.8,734.6 584.1,735.4 584.4,736.0 584.6,736.5 584.9,736.7 585.2,737.0 585.5,737.2 585.8,737.1 586.0,737.2 586.3,737.1 586.6,736.7 586.9,736.4 587.2,735.9 587.4,735.6 587.7,735.1 588.0,734.3 588.3,733.5 588.5,733.1 588.8,732.4 589.1,732.0 589.4,731.6 589.7,731.5 589.9,731.7 590.2,732.1 590.5,732.5 590.8,733.1 591.1,733.8 591.3,734.4 591.6,734.9 591.9,735.4 592.2,735.8 592.5,736.2 592.7,736.3 593.0,736.0 593.3,736.0 593.6,735.8 593.9,735.1 594.1,734.8 594.4,734.3 594.7,733.7 595.0,733.2 595.2,732.5 595.5,731.8 595.8,731.4 596.1,730.6 596.4,730.3 596.6,730.3 596.9,730.9 597.2,731.1 597.5,731.3 597.8,731.7 598.0,731.9 598.3,731.8 598.6,731.8 598.9,731.5 599.2,731.3 599.4,731.6 599.7,731.1 600.0,731.2 600.3,731.4 600.6,731.9 600.8,732.2 601.1,732.3 601.4,732.2 601.7,732.3 601.9,732.3 602.2,732.1 602.5,732.2 602.8,732.2 603.1,732.3 603.3,732.4 603.6,732.6 603.9,732.0 604.2,732.1 604.5,732.0 604.7,731.9 605.0,731.9 605.3,732.0 605.6,731.5 605.9,731.7 606.1,731.5 606.4,731.7 606.7,732.0 607.0,732.3 607.2,732.2 607.5,732.4 607.8,732.6 608.1,733.0 608.4,733.1 608.6,733.4 608.9,733.6 609.2,733.4 609.5,733.6 609.8,733.7 610.0,733.6 610.3,733.6 610.6,733.6 610.9,733.5 611.2,733.8 611.4,733.8 611.7,733.7 612.0,733.8 612.3,733.7 612.6,734.0 612.8,734.1 613.1,734.1 613.4,734.4 613.7,734.4 613.9,734.2 614.2,734.2 614.5,734.3 614.8,734.3 615.1,734.5 615.3,734.4 615.6,734.6 615.9,734.6 616.2,734.8 616.5,734.8 616.7,734.8 617.0,734.9 617.3,735.2 617.6,735.3 617.9,735.3 618.1,735.2 618.4,735.2 618.7,735.5 619.0,735.6 619.3,735.7 619.5,735.4 619.8,735.5 620.1,735.5 620.4,735.7 620.6,735.7 620.9,735.7 621.2,735.5 621.5,735.5 621.8,735.4 622.0,735.7 622.3,735.8 622.6,735.7 622.9,735.6 623.2,735.8 623.4,735.8 623.7,735.7 624.0,735.6 624.3,735.7 624.6,735.7 624.8,735.7 625.1,735.8 625.4,735.8 625.7,735.8 626.0,736.0 626.2,736.0 626.5,736.0 626.8,735.9 627.1,735.8 627.3,736.0 627.6,736.1 627.9,735.9 628.2,735.9 628.5,735.7 628.7,735.7 629.0,735.3 629.3,735.3 629.6,735.4 629.9,735.5 630.1,735.3 630.4,735.2 630.7,735.1 631.0,735.4 631.3,735.5 631.5,735.3 631.8,735.2 632.1,735.3 632.4,735.5 632.6,735.5 632.9,735.4 633.2,735.4 633.5,735.5 633.8,735.5 634.0,735.4 634.3,735.4 634.6,735.7 634.9,735.6 635.2,735.8 635.4,735.7 635.7,735.7 636.0,735.6 636.3,735.6 636.6,735.6 636.8,735.8 637.1,735.9 637.4,735.9 637.7,736.0 638.0,736.3 638.2,736.2 638.5,736.0 638.8,736.1 639.1,736.1 639.3,736.2 639.6,736.2 639.9,736.0 640.2,736.4 640.5,736.4 640.7,736.2 641.0,736.1 641.3,736.2 641.6,736.3 641.9,736.3 642.1,736.4 642.4,736.7 642.7,736.6 643.0,736.7 643.3,736.7 643.5,736.8 643.8,736.8 644.1,736.8 644.4,736.8 644.7,736.8 644.9,737.0 645.2,737.1 645.5,737.3 645.8,737.3 646.0,737.3 646.3,737.3 646.6,737.4 646.9,737.5 647.2,737.6 647.4,737.7 647.7,737.7 648.0,737.7 648.3,737.5 648.6,737.5 648.8,737.5 649.1,737.4 649.4,737.4 649.7,737.4 650.0,737.3 650.2,737.5 650.5,737.6 650.8,737.8 651.1,737.9 651.4,737.8 651.6,737.8 651.9,738.1 652.2,738.2 652.5,738.1 652.7,737.9 653.0,737.8 653.3,737.8 653.6,737.8 653.9,737.9 654.1,737.8 654.4,737.8 654.7,737.8 655.0,737.8 655.3,737.7 655.5,737.6 655.8,737.6 656.1,737.8 656.4,737.9 656.7,738.1 656.9,738.1 657.2,738.2 657.5,738.2 657.8,738.2 658.0,738.0 658.3,738.0 658.6,737.9 658.9,737.9 659.2,737.9 659.4,738.2 659.7,738.2 660.0,738.3 660.3,738.2 660.6,738.4 660.8,738.4 661.1,738.4 661.4,738.3 661.7,738.3 662.0,738.5 662.2,738.5 662.5,738.5 662.8,738.5 663.1,738.5 663.4,738.5 663.6,738.6 663.9,738.4 664.2,738.5 664.5,738.5 664.7,738.6 665.0,738.6 665.3,738.6 665.6,738.5 665.9,738.6 666.1,738.6 666.4,738.6 666.7,738.6 667.0,738.6 667.3,738.5 667.5,738.5 667.8,738.5 668.1,738.6 668.4,738.6 668.7,738.6 668.9,738.7" fill="none" stroke="#111111" stroke-width="1.15" stroke-linejoin="round"/>
<polyline points="58.5,732.1 58.8,732.5 59.1,732.9 59.3,733.3 59.6,734.0 59.9,734.5 60.2,735.1 60.5,735.4 60.7,735.7 61.0,736.0 61.3,736.3 61.6,736.2 61.8,736.3 62.1,736.4 62.4,736.4 62.7,736.4 63.0,736.6 63.2,736.8 63.5,736.9 63.8,736.8 64.1,736.7 64.4,736.6 64.6,736.8 64.9,736.7 65.2,736.7 65.5,736.8 65.8,737.0 66.0,737.0 66.3,736.8 66.6,736.9 66.9,737.1 67.2,737.1 67.4,737.3 67.7,737.4 68.0,737.6 68.3,737.7 68.5,737.7 68.8,737.7 69.1,737.7 69.4,737.6 69.7,737.6 69.9,737.7 70.2,737.9 70.5,737.9 70.8,737.8 71.1,738.1 71.3,738.1 71.6,738.0 71.9,737.8 72.2,737.7 72.5,737.5 72.7,737.4 73.0,737.4 73.3,737.3 73.6,737.5 73.9,737.7 74.1,738.0 74.4,738.0 74.7,737.9 75.0,737.9 75.2,737.9 75.5,737.7 75.8,737.7 76.1,737.5 76.4,737.6 76.6,737.7 76.9,737.5 77.2,737.7 77.5,737.7 77.8,737.7 78.0,737.6 78.3,737.6 78.6,737.6 78.9,737.7 79.2,737.7 79.4,737.9 79.7,737.8 80.0,738.1 80.3,738.1 80.6,738.2 80.8,738.3 81.1,738.4 81.4,738.2 81.7,738.4 81.9,738.4 82.2,738.6 82.5,738.7 82.8,738.6 83.1,738.7 83.3,738.8 83.6,738.7 83.9,738.7 84.2,738.6 84.5,738.5 84.7,738.5 85.0,738.3 85.3,738.2 85.6,738.2 85.9,738.2 86.1,738.2 86.4,738.3 86.7,738.1 87.0,738.1 87.2,738.2 87.5,738.2 87.8,737.8 88.1,737.3 88.4,736.6 88.6,735.8 88.9,735.1 89.2,734.6 89.5,734.9 89.8,735.6 90.0,736.4 90.3,736.9 90.6,737.4 90.9,737.6 91.2,737.7 91.4,737.6 91.7,737.4 92.0,737.0 92.3,736.1 92.6,734.5 92.8,732.2 93.1,729.0 93.4,725.5 93.7,721.9 93.9,718.8 94.2,717.1 94.5,718.0 94.8,720.1 95.1,722.7 95.3,725.3 95.6,727.8 95.9,729.9 96.2,731.7 96.5,733.0 96.7,733.9 97.0,734.6 97.3,735.0 97.6,735.2 97.9,735.6 98.1,735.9 98.4,736.0 98.7,736.1 99.0,736.2 99.3,736.3 99.5,736.6 99.8,736.6 100.1,736.8 100.4,736.9 100.6,737.0 100.9,737.1 101.2,737.4 101.5,737.5 101.8,737.6 102.0,737.5 102.3,737.6 102.6,737.6 102.9,737.7 103.2,737.7 103.4,737.6 103.7,737.5 104.0,737.7 104.3,737.6 104.6,737.7 104.8,737.6 105.1,737.4 105.4,737.7 105.7,737.7 106.0,737.6 106.2,737.7 106.5,737.8 106.8,737.9 107.1,738.0 107.3,737.9 107.6,737.8 107.9,737.7 108.2,737.6 108.5,737.6 108.7,737.5 109.0,737.5 109.3,737.5 109.6,737.1 109.9,736.4 110.1,734.8 110.4,732.2 110.7,728.7 111.0,724.7 111.3,721.4 111.5,720.0 111.8,721.5 112.1,724.0 112.4,726.5 112.6,728.8 112.9,730.6 113.2,731.9 113.5,732.9 113.8,733.5 114.0,734.0 114.3,734.5 114.6,734.8 114.9,735.0 115.2,735.2 115.4,735.4 115.7,735.6 116.0,735.7 116.3,735.9 116.6,736.0 116.8,736.2 117.1,736.3 117.4,736.3 117.7,736.4 118.0,736.4 118.2,736.4 118.5,736.6 118.8,736.6 119.1,736.9 119.3,736.8 119.6,736.8 119.9,736.8 120.2,736.9 120.5,736.9 120.7,737.0 121.0,737.1 121.3,737.1 121.6,737.1 121.9,737.2 122.1,737.2 122.4,737.3 122.7,737.1 123.0,736.9 123.3,736.9 123.5,736.8 123.8,736.9 124.1,737.0 124.4,737.2 124.7,737.2 124.9,737.2 125.2,737.1 125.5,737.0 125.8,736.9 126.0,736.7 126.3,736.5 126.6,736.2 126.9,736.2 127.2,736.3 127.4,736.2 127.7,736.4 128.0,736.6 128.3,736.5 128.6,736.8 128.8,736.8 129.1,736.8 129.4,736.9 129.7,736.1 130.0,735.2 130.2,733.5 130.5,730.0 130.8,723.7 131.1,713.1 131.4,697.2 131.6,676.3 131.9,651.8 132.2,626.5 132.5,605.9 132.7,595.0 133.0,602.2 133.3,619.2 133.6,640.3 133.9,662.1 134.1,682.3 134.4,698.8 134.7,710.9 135.0,719.5 135.3,724.6 135.5,728.3 135.8,730.5 136.1,731.9 136.4,732.8 136.7,733.7 136.9,734.0 137.2,734.3 137.5,734.6 137.8,734.9 138.0,735.0 138.3,735.1 138.6,734.9 138.9,735.1 139.2,735.3 139.4,735.2 139.7,735.1 140.0,735.0 140.3,734.7 140.6,734.6 140.8,734.2 141.1,733.8 141.4,733.5 141.7,733.3 142.0,733.0 142.2,732.9 142.5,733.0 142.8,733.3 143.1,733.6 143.4,733.8 143.6,734.0 143.9,734.3 144.2,734.7 144.5,734.9 144.7,735.1 145.0,735.3 145.3,735.6 145.6,735.9 145.9,736.2 146.1,736.4 146.4,736.5 146.7,736.6 147.0,736.4 147.3,736.5 147.5,736.3 147.8,736.3 148.1,736.2 148.4,736.3 148.7,736.4 148.9,736.5 149.2,736.5 149.5,736.5 149.8,736.5 150.1,736.5 150.3,736.2 150.6,736.0 150.9,736.0 151.2,736.2 151.4,736.3 151.7,736.5 152.0,736.2 152.3,736.4 152.6,736.5 152.8,736.7 153.1,736.5 153.4,736.3 153.7,736.0 154.0,736.2 154.2,736.2 154.5,736.4 154.8,736.3 155.1,736.4 155.4,736.6 155.6,736.5 155.9,736.3 156.2,736.2 156.5,735.7 156.8,735.5 157.0,735.1 157.3,734.0 157.6,732.2 157.9,729.2 158.1,724.6 158.4,718.3 158.7,710.8 159.0,702.1 159.3,693.9 159.5,687.4 159.8,683.9 160.1,685.9 160.4,690.4 160.7,695.9 160.9,702.0 161.2,708.0 161.5,713.1 161.8,717.7 162.1,721.0 162.3,723.6 162.6,725.5 162.9,726.9 163.2,728.0 163.4,729.0 163.7,729.7 164.0,730.4 164.3,731.1 164.6,731.6 164.8,732.4 165.1,732.9 165.4,733.1 165.7,733.3 166.0,733.5 166.2,733.6 166.5,733.9 166.8,734.1 167.1,734.4 167.4,734.6 167.6,734.8 167.9,734.8 168.2,734.8 168.5,734.8 168.8,734.9 169.0,734.9 169.3,734.9 169.6,734.9 169.9,734.8 170.1,735.1 170.4,735.3 170.7,735.3 171.0,735.0 171.3,734.9 171.5,735.1 171.8,735.3 172.1,735.3 172.4,735.4 172.7,735.5 172.9,735.6 173.2,735.6 173.5,735.5 173.8,735.5 174.1,735.4 174.3,735.3 174.6,735.4 174.9,735.4 175.2,735.4 175.5,735.8 175.7,735.9 176.0,735.9 176.3,736.1 176.6,736.1 176.8,736.0 177.1,735.8 177.4,735.4 177.7,735.1 178.0,734.6 178.2,734.1 178.5,733.5 178.8,732.9 179.1,732.3 179.4,731.7 179.6,731.3 179.9,730.9 180.2,730.3 180.5,730.2 180.8,730.5 181.0,730.7 181.3,730.8 181.6,731.4 181.9,731.9 182.2,732.6 182.4,733.2 182.7,733.5 183.0,733.9 183.3,734.4 183.5,734.4 183.8,734.5 184.1,734.5 184.4,734.8 184.7,734.8 184.9,735.0 185.2,735.1 185.5,735.4 185.8,735.8 186.1,736.0 186.3,735.7 186.6,736.0 186.9,736.0 187.2,736.1 187.5,736.1 187.7,735.9 188.0,735.9 188.3,736.2 188.6,736.2 188.8,736.3 189.1,736.3 189.4,736.4 189.7,736.7 190.0,736.7 190.2,736.7 190.5,736.7 190.8,736.7 191.1,736.9 191.4,736.8 191.6,736.8 191.9,736.8 192.2,737.0 192.5,737.0 192.8,737.0 193.0,737.1 193.3,737.1 193.6,737.0 193.9,737.3 194.2,737.3 194.4,737.3 194.7,737.4 195.0,737.2 195.3,737.4 195.5,737.6 195.8,737.3 196.1,737.4 196.4,737.5 196.7,737.3 196.9,737.6 197.2,737.5 197.5,737.5 197.8,737.6 198.1,737.7 198.3,737.6 198.6,737.6 198.9,737.5 199.2,737.6 199.5,737.5 199.7,737.5 200.0,737.5 200.3,737.6 200.6,737.9 200.9,737.8 201.1,737.9 201.4,737.8 201.7,737.8 202.0,737.8 202.2,737.8 202.5,737.9 202.8,738.0 203.1,738.0 203.4,738.0 203.6,738.0 203.9,737.9 204.2,737.7 204.5,737.5 204.8,737.1 205.0,736.7 205.3,736.3 205.6,735.7 205.9,734.7 206.2,733.6 206.4,732.4 206.7,731.2 207.0,729.8 207.3,728.2 207.6,726.7 207.8,725.2 208.1,724.1 208.4,723.3 208.7,722.9 208.9,723.3 209.2,723.9 209.5,724.8 209.8,725.9 210.1,726.8 210.3,727.9 210.6,729.0 210.9,730.1 211.2,731.1 211.5,732.0 211.7,732.7 212.0,733.4 212.3,733.8 212.6,734.1 212.9,734.3 213.1,734.6 213.4,734.8 213.7,734.6 214.0,734.9 214.2,735.0 214.5,735.0 214.8,734.9 215.1,734.9 215.4,734.7 215.6,734.9 215.9,734.7 216.2,734.6 216.5,734.6 216.8,734.6 217.0,734.4 217.3,734.2 217.6,734.0 217.9,733.8 218.2,733.8 218.4,733.7 218.7,733.5 219.0,733.4 219.3,733.4 219.6,733.4 219.8,733.3 220.1,733.1 220.4,733.0 220.7,733.0 220.9,733.0 221.2,733.0 221.5,733.1 221.8,733.1 222.1,733.1 222.3,733.1 222.6,733.1 222.9,733.2 223.2,733.4 223.5,733.5 223.7,733.9 224.0,734.2 224.3,734.3 224.6,734.5 224.9,734.8 225.1,734.9 225.4,735.1 225.7,735.3 226.0,735.6 226.3,736.0 226.5,736.2 226.8,736.3 227.1,736.5 227.4,736.7 227.6,736.9 227.9,737.0 228.2,737.0 228.5,737.2 228.8,737.4 229.0,737.4 229.3,737.5 229.6,737.4 229.9,737.5 230.2,737.5 230.4,737.4 230.7,737.5 231.0,737.6 231.3,737.8 231.6,737.8 231.8,737.8 232.1,737.9 232.4,738.0 232.7,738.0 233.0,738.0 233.2,737.9 233.5,737.9 233.8,738.0 234.1,738.1 234.3,738.1 234.6,738.1 234.9,738.0 235.2,738.1 235.5,738.1 235.7,738.1 236.0,738.1 236.3,737.9 236.6,737.6 236.9,737.6 237.1,737.5 237.4,737.2 237.7,736.6 238.0,735.5 238.3,733.8 238.5,731.4 238.8,728.2 239.1,724.5 239.4,720.8 239.6,718.1 239.9,716.9 240.2,717.8 240.5,720.4 240.8,723.8 241.0,727.4 241.3,730.6 241.6,733.2 241.9,734.9 242.2,736.0 242.4,736.6 242.7,736.8 243.0,737.0 243.3,737.0 243.6,737.0 243.8,736.8 244.1,737.1 244.4,736.9 244.7,737.1 245.0,737.1 245.2,737.1 245.5,736.9 245.8,736.9 246.1,736.7 246.3,736.6 246.6,736.5 246.9,736.8 247.2,736.7 247.5,737.1 247.7,737.3 248.0,737.4 248.3,737.2 248.6,736.9 248.9,736.0 249.1,735.0 249.4,733.4 249.7,731.6 250.0,730.0 250.3,728.6 250.5,727.7 250.8,727.9 251.1,729.1 251.4,730.7 251.7,732.2 251.9,733.6 252.2,734.9 252.5,735.9 252.8,736.4 253.0,736.6 253.3,736.7 253.6,737.0 253.9,737.0 254.2,736.8 254.4,736.5 254.7,736.2 255.0,735.8 255.3,735.1 255.6,734.0 255.8,732.6 256.1,730.4 256.4,727.2 256.7,723.3 257.0,717.8 257.2,711.3 257.5,703.8 257.8,695.7 258.1,687.7 258.3,680.8 258.6,675.6 258.9,672.7 259.2,674.1 259.5,677.2 259.7,681.5 260.0,686.5 260.3,692.0 260.6,697.3 260.9,702.4 261.1,706.6 261.4,710.4 261.7,713.6 262.0,715.9 262.3,717.7 262.5,719.4 262.8,720.4 263.1,721.2 263.4,721.9 263.7,722.4 263.9,722.8 264.2,723.3 264.5,723.6 264.8,724.1 265.0,724.8 265.3,725.3 265.6,725.5 265.9,726.1 266.2,726.3 266.4,726.8 266.7,727.3 267.0,727.2 267.3,727.0 267.6,727.6 267.8,727.4 268.1,727.7 268.4,728.0 268.7,727.8 269.0,728.0 269.2,728.5 269.5,728.5 269.8,728.9 270.1,729.0 270.4,729.1 270.6,729.0 270.9,728.9 271.2,728.8 271.5,729.1 271.7,728.8 272.0,728.6 272.3,728.7 272.6,728.8 272.9,728.7 273.1,728.7 273.4,728.4 273.7,728.3 274.0,728.2 274.3,728.0 274.5,728.1 274.8,728.3 275.1,728.6 275.4,728.9 275.7,728.8 275.9,729.1 276.2,729.6 276.5,729.8 276.8,729.8 277.1,729.9 277.3,730.0 277.6,730.5 277.9,730.5 278.2,730.7 278.4,730.7 278.7,730.6 279.0,731.1 279.3,731.0 279.6,731.0 279.8,731.2 280.1,731.2 280.4,731.2 280.7,730.4 281.0,729.0 281.2,727.4 281.5,725.4 281.8,724.0 282.1,723.5 282.4,724.3 282.6,726.6 282.9,728.9 283.2,730.9 283.5,732.7 283.7,733.2 284.0,734.0 284.3,734.5 284.6,734.6 284.9,734.8 285.1,734.9 285.4,734.6 285.7,734.8 286.0,735.0 286.3,735.1 286.5,735.2 286.8,735.0 287.1,735.4 287.4,735.5 287.7,735.5 287.9,735.3 288.2,735.4 288.5,735.5 288.8,735.7 289.1,735.3 289.3,735.1 289.6,735.2 289.9,735.2 290.2,734.9 290.4,735.2 290.7,735.0 291.0,735.1 291.3,735.1 291.6,735.2 291.8,735.0 292.1,734.9 292.4,734.7 292.7,734.6 293.0,734.6 293.2,734.7 293.5,734.6 293.8,734.7 294.1,734.8 294.4,734.7 294.6,734.0 294.9,732.9 295.2,730.6 295.5,727.0 295.8,722.3 296.0,717.8 296.3,714.3 296.6,714.0 296.9,716.6 297.1,721.2 297.4,725.8 297.7,729.7 298.0,732.4 298.3,734.0 298.5,734.4 298.8,734.8 299.1,735.1 299.4,735.2 299.7,735.3 299.9,735.4 300.2,735.6 300.5,735.8 300.8,735.4 301.1,735.3 301.3,735.4 301.6,735.6 301.9,735.7 302.2,735.6 302.5,735.5 302.7,735.6 303.0,735.4 303.3,735.1 303.6,734.7 303.8,734.7 304.1,734.8 304.4,734.7 304.7,734.8 305.0,734.7 305.2,734.3 305.5,734.2 305.8,733.9 306.1,733.7 306.4,733.4 306.6,733.1 306.9,732.8 307.2,732.5 307.5,732.3 307.8,731.7 308.0,731.3 308.3,731.4 308.6,731.0 308.9,730.8 309.1,730.5 309.4,730.4 309.7,730.4 310.0,730.2 310.3,730.1 310.5,730.5 310.8,730.7 311.1,730.8 311.4,731.1 311.7,731.3 311.9,731.9 312.2,732.5 312.5,732.8 312.8,733.0 313.1,733.3 313.3,733.3 313.6,733.5 313.9,733.7 314.2,733.6 314.5,733.8 314.7,734.0 315.0,734.3 315.3,734.5 315.6,734.6 315.8,734.6 316.1,735.0 316.4,735.1 316.7,735.6 317.0,735.5 317.2,735.5 317.5,735.3 317.8,735.1 318.1,735.0 318.4,735.2 318.6,734.8 318.9,735.0 319.2,735.0 319.5,735.4 319.8,735.5 320.0,735.3 320.3,735.0 320.6,735.2 320.9,735.0 321.2,735.2 321.4,734.9 321.7,734.7 322.0,734.9 322.3,735.0 322.5,735.0 322.8,734.9 323.1,734.6 323.4,734.9 323.7,734.8 323.9,734.7 324.2,734.7 324.5,734.3 324.8,734.4 325.1,734.6 325.3,734.3 325.6,734.2 325.9,734.4 326.2,734.2 326.5,734.5 326.7,734.8 327.0,734.7 327.3,734.8 327.6,735.0 327.9,735.0 328.1,735.1 328.4,735.0 328.7,735.0 329.0,735.2 329.2,735.2 329.5,734.9 329.8,734.7 330.1,734.7 330.4,734.8 330.6,734.7 330.9,734.6 331.2,734.6 331.5,734.8 331.8,734.9 332.0,734.8 332.3,735.1 332.6,735.2 332.9,735.2 333.2,735.0 333.4,735.0 333.7,735.0 334.0,735.0 334.3,734.6 334.5,734.7 334.8,734.7 335.1,734.4 335.4,734.5 335.7,734.3 335.9,734.2 336.2,733.9 336.5,733.6 336.8,732.8 337.1,731.2 337.3,728.9 337.6,725.0 337.9,719.5 338.2,712.8 338.5,704.7 338.7,697.3 339.0,692.0 339.3,690.3 339.6,693.0 339.9,699.1 340.1,706.6 340.4,714.5 340.7,721.3 341.0,726.3 341.2,729.7 341.5,731.9 341.8,733.1 342.1,733.7 342.4,734.2 342.6,734.3 342.9,734.7 343.2,734.7 343.5,734.7 343.8,734.4 344.0,734.3 344.3,734.3 344.6,734.3 344.9,734.2 345.2,734.0 345.4,734.0 345.7,733.8 346.0,733.6 346.3,733.3 346.6,733.2 346.8,732.7 347.1,732.1 347.4,731.7 347.7,731.5 347.9,731.3 348.2,730.6 348.5,729.7 348.8,728.9 349.1,728.7 349.3,727.7 349.6,726.7 349.9,725.8 350.2,725.2 350.5,724.4 350.7,724.1 351.0,723.3 351.3,723.1 351.6,723.2 351.9,723.4 352.1,723.8 352.4,724.3 352.7,724.8 353.0,725.4 353.3,725.8 353.5,726.5 353.8,727.0 354.1,728.0 354.4,728.7 354.6,729.3 354.9,729.6 355.2,730.2 355.5,730.6 355.8,731.1 356.0,730.8 356.3,731.0 356.6,730.8 356.9,731.3 357.2,731.8 357.4,731.8 357.7,731.6 358.0,731.9 358.3,731.8 358.6,732.3 358.8,731.8 359.1,731.8 359.4,732.0 359.7,732.7 359.9,732.6 360.2,732.6 360.5,732.3 360.8,732.7 361.1,732.5 361.3,732.6 361.6,732.3 361.9,732.6 362.2,732.8 362.5,733.1 362.7,732.9 363.0,733.2 363.3,733.2 363.6,733.2 363.9,733.2 364.1,732.9 364.4,732.8 364.7,733.0 365.0,732.7 365.3,732.7 365.5,732.8 365.8,732.5 366.1,732.5 366.4,732.7 366.6,732.7 366.9,733.1 367.2,733.0 367.5,733.2 367.8,733.3 368.0,733.2 368.3,733.0 368.6,733.0 368.9,732.8 369.2,733.1 369.4,732.8 369.7,732.8 370.0,733.0 370.3,732.8 370.6,732.9 370.8,732.8 371.1,732.9 371.4,733.0 371.7,732.9 372.0,732.9 372.2,733.0 372.5,732.8 372.8,732.6 373.1,732.6 373.3,732.5 373.6,732.5 373.9,732.4 374.2,732.4 374.5,732.4 374.7,732.3 375.0,731.9 375.3,731.9 375.6,731.7 375.9,731.7 376.1,731.8 376.4,731.6 376.7,731.5 377.0,731.5 377.3,731.6 377.5,731.7 377.8,731.7 378.1,731.8 378.4,731.7 378.7,731.9 378.9,732.1 379.2,732.5 379.5,732.2 379.8,732.5 380.0,732.9 380.3,733.2 380.6,733.6 380.9,733.6 381.2,733.8 381.4,734.1 381.7,734.2 382.0,734.4 382.3,734.2 382.6,734.1 382.8,734.0 383.1,734.1 383.4,734.5 383.7,734.4 384.0,734.5 384.2,734.6 384.5,734.7 384.8,735.0 385.1,735.0 385.3,734.8 385.6,734.6 385.9,734.6 386.2,735.0 386.5,735.1 386.7,735.0 387.0,734.8 387.3,734.8 387.6,735.1 387.9,734.9 388.1,734.6 388.4,734.4 388.7,734.7 389.0,734.7 389.3,734.6 389.5,734.4 389.8,734.3 390.1,734.6 390.4,734.6 390.7,734.6 390.9,734.4 391.2,734.5 391.5,734.5 391.8,734.6 392.0,734.2 392.3,734.0 392.6,733.8 392.9,733.5 393.2,732.9 393.4,732.6 393.7,732.2 394.0,732.0 394.3,731.6 394.6,731.2 394.8,731.1 395.1,731.0 395.4,730.8 395.7,730.7 396.0,730.4 396.2,730.4 396.5,730.2 396.8,730.2 397.1,730.2 397.4,730.1 397.6,729.9 397.9,730.0 398.2,729.7 398.5,729.6 398.7,729.7 399.0,729.9 399.3,729.9 399.6,730.0 399.9,730.2 400.1,730.3 400.4,730.8 400.7,730.9 401.0,731.0 401.3,731.1 401.5,731.5 401.8,731.4 402.1,731.7 402.4,731.8 402.7,731.8 402.9,732.1 403.2,732.3 403.5,732.6 403.8,732.9 404.1,733.0 404.3,732.8 404.6,732.9 404.9,733.0 405.2,733.1 405.4,733.0 405.7,733.1 406.0,733.0 406.3,733.2 406.6,733.3 406.8,733.2 407.1,733.0 407.4,732.9 407.7,733.0 408.0,733.0 408.2,732.7 408.5,732.5 408.8,732.4 409.1,732.3 409.4,732.1 409.6,732.1 409.9,731.9 410.2,731.7 410.5,731.7 410.7,731.3 411.0,731.6 411.3,731.9 411.6,731.7 411.9,732.0 412.1,732.0 412.4,732.1 412.7,732.5 413.0,732.0 413.3,732.2 413.5,732.0 413.8,732.1 414.1,732.5 414.4,732.8 414.7,732.9 414.9,733.2 415.2,733.1 415.5,733.2 415.8,733.2 416.1,733.2 416.3,733.4 416.6,733.4 416.9,733.5 417.2,733.6 417.4,734.0 417.7,733.9 418.0,734.1 418.3,733.9 418.6,733.8 418.8,733.7 419.1,733.8 419.4,733.7 419.7,734.2 420.0,734.3 420.2,734.5 420.5,734.9 420.8,734.7 421.1,734.7 421.4,734.7 421.6,734.5 421.9,734.4 422.2,734.4 422.5,734.2 422.8,734.4 423.0,734.5 423.3,734.9 423.6,734.6 423.9,734.5 424.1,734.7 424.4,734.9 424.7,734.9 425.0,734.8 425.3,735.1 425.5,735.1 425.8,735.1 426.1,734.9 426.4,734.5 426.7,734.2 426.9,733.9 427.2,733.3 427.5,732.6 427.8,731.9 428.1,731.1 428.3,730.4 428.6,729.2 428.9,728.1 429.2,727.2 429.5,726.2 429.7,725.3 430.0,724.6 430.3,724.2 430.6,724.0 430.8,723.9 431.1,724.3 431.4,725.0 431.7,725.8 432.0,726.5 432.2,727.1 432.5,727.9 432.8,728.9 433.1,729.6 433.4,730.2 433.6,730.8 433.9,731.6 434.2,732.2 434.5,732.1 434.8,732.7 435.0,732.7 435.3,732.6 435.6,732.0 435.9,731.5 436.1,731.0 436.4,730.2 436.7,729.0 437.0,728.1 437.3,727.0 437.5,726.2 437.8,725.0 438.1,723.9 438.4,722.9 438.7,722.3 438.9,721.3 439.2,720.5 439.5,719.9 439.8,719.7 440.1,719.8 440.3,720.3 440.6,721.3 440.9,722.2 441.2,723.1 441.5,724.3 441.7,725.3 442.0,726.1 442.3,727.1 442.6,727.5 442.8,728.3 443.1,729.1 443.4,729.7 443.7,730.5 444.0,730.9 444.2,731.4 444.5,732.0 444.8,732.4 445.1,732.7 445.4,733.1 445.6,733.3 445.9,733.5 446.2,733.6 446.5,733.8 446.8,734.1 447.0,734.3 447.3,734.2 447.6,734.4 447.9,734.4 448.2,734.6 448.4,734.8 448.7,734.7 449.0,734.8 449.3,734.9 449.5,735.0 449.8,735.0 450.1,734.9 450.4,735.1 450.7,735.1 450.9,735.1 451.2,735.0 451.5,735.0 451.8,735.1 452.1,735.1 452.3,735.1 452.6,735.2 452.9,735.4 453.2,735.6 453.5,735.7 453.7,735.8 454.0,735.9 454.3,736.0 454.6,736.2 454.9,736.3 455.1,736.8 455.4,736.9 455.7,736.8 456.0,736.7 456.2,736.8 456.5,736.6 456.8,736.4 457.1,736.2 457.4,736.4 457.6,736.5 457.9,736.8 458.2,736.8 458.5,736.6 458.8,736.6 459.0,736.6 459.3,736.3 459.6,736.4 459.9,736.4 460.2,736.3 460.4,736.5 460.7,736.5 461.0,736.6 461.3,736.9 461.5,736.9 461.8,736.9 462.1,737.0 462.4,736.9 462.7,737.1 462.9,737.0 463.2,737.1 463.5,737.0 463.8,737.1 464.1,736.8 464.3,737.0 464.6,737.0 464.9,737.0 465.2,736.9 465.5,736.9 465.7,737.0 466.0,737.1 466.3,737.0 466.6,736.8 466.9,736.9 467.1,736.9 467.4,736.7 467.7,736.5 468.0,736.6 468.2,736.5 468.5,736.6 468.8,736.5 469.1,736.3 469.4,736.2 469.6,736.5 469.9,736.4 470.2,736.6 470.5,736.7 470.8,736.8 471.0,736.9 471.3,737.2 471.6,737.2 471.9,737.3 472.2,737.4 472.4,737.2 472.7,737.1 473.0,737.2 473.3,737.2 473.6,737.3 473.8,737.3 474.1,737.4 474.4,737.3 474.7,737.6 474.9,737.3 475.2,737.2 475.5,737.0 475.8,737.2 476.1,737.3 476.3,737.4 476.6,737.4 476.9,737.4 477.2,737.6 477.5,737.3 477.7,737.2 478.0,737.3 478.3,737.1 478.6,737.0 478.9,737.1 479.1,737.0 479.4,737.0 479.7,736.9 480.0,736.6 480.3,736.6 480.5,736.8 480.8,736.7 481.1,736.7 481.4,736.7 481.6,737.0 481.9,737.0 482.2,736.9 482.5,736.8 482.8,736.9 483.0,736.9 483.3,736.8 483.6,736.7 483.9,736.8 484.2,736.8 484.4,737.1 484.7,737.1 485.0,737.1 485.3,737.1 485.6,737.1 485.8,737.0 486.1,737.1 486.4,736.9 486.7,736.7 486.9,737.1 487.2,737.1 487.5,737.0 487.8,736.9 488.1,737.0 488.3,737.2 488.6,737.3 488.9,737.2 489.2,737.2 489.5,737.4 489.7,737.5 490.0,737.3 490.3,737.2 490.6,737.4 490.9,737.5 491.1,737.7 491.4,737.6 491.7,737.8 492.0,737.7 492.3,737.6 492.5,737.6 492.8,737.5 493.1,737.3 493.4,737.4 493.6,737.3 493.9,737.3 494.2,737.4 494.5,737.4 494.8,737.3 495.0,737.3 495.3,737.2 495.6,737.3 495.9,737.2 496.2,737.1 496.4,737.1 496.7,737.1 497.0,737.0 497.3,737.1 497.6,736.9 497.8,737.1 498.1,737.1 498.4,737.3 498.7,737.4 499.0,737.6 499.2,737.5 499.5,737.4 499.8,737.4 500.1,737.2 500.3,737.1 500.6,737.1 500.9,737.1 501.2,737.2 501.5,737.3 501.7,737.2 502.0,737.5 502.3,737.3 502.6,737.3 502.9,737.1 503.1,737.1 503.4,737.1 503.7,737.2 504.0,737.1 504.3,737.3 504.5,737.2 504.8,737.3 505.1,737.4 505.4,737.5 505.7,737.5 505.9,737.5 506.2,737.4 506.5,737.5 506.8,737.4 507.0,737.4 507.3,737.3 507.6,737.1 507.9,737.2 508.2,737.3 508.4,737.3 508.7,737.4 509.0,737.3 509.3,737.4 509.6,737.5 509.8,737.3 510.1,737.2 510.4,737.3 510.7,737.3 511.0,737.2 511.2,737.5 511.5,737.6 511.8,737.4 512.1,737.6 512.3,737.7 512.6,737.7 512.9,737.8 513.2,737.7 513.5,737.9 513.7,738.1 514.0,738.2 514.3,738.1 514.6,738.0 514.9,738.0 515.1,738.0 515.4,737.8 515.7,737.9 516.0,737.9 516.3,737.8 516.5,737.8 516.8,737.6 517.1,737.6 517.4,737.7 517.7,737.7 517.9,737.7 518.2,738.0 518.5,737.9 518.8,738.1 519.0,738.2 519.3,737.9 519.6,737.8 519.9,737.9 520.2,738.0 520.4,737.8 520.7,737.8 521.0,737.7 521.3,737.8 521.6,737.7 521.8,737.5 522.1,737.6 522.4,737.9 522.7,737.7 523.0,737.6 523.2,737.7 523.5,737.9 523.8,737.8 524.1,737.7 524.4,737.5 524.6,737.7 524.9,737.8 525.2,737.9 525.5,737.9 525.7,738.1 526.0,738.4 526.3,738.5 526.6,738.6 526.9,738.4 527.1,738.4 527.4,738.3 527.7,738.3 528.0,738.4 528.3,738.2 528.5,738.2 528.8,738.3 529.1,738.5 529.4,738.6 529.7,738.4 529.9,738.2 530.2,738.4 530.5,738.5 530.8,738.4 531.1,738.3 531.3,738.1 531.6,738.2 531.9,738.2 532.2,738.1 532.4,738.1 532.7,738.1 533.0,738.1 533.3,738.1 533.6,738.2 533.8,738.2 534.1,738.3 534.4,738.2 534.7,738.2 535.0,738.3 535.2,738.3 535.5,738.3 535.8,738.2 536.1,738.0 536.4,737.9 536.6,737.9 536.9,737.8 537.2,737.8 537.5,737.8 537.7,737.9 538.0,738.0 538.3,738.0 538.6,738.0 538.9,738.1 539.1,738.0 539.4,737.9 539.7,737.9 540.0,737.8 540.3,737.7 540.5,737.7 540.8,737.6 541.1,737.7 541.4,737.6 541.7,737.7 541.9,737.8 542.2,737.9 542.5,737.9 542.8,738.1 543.1,738.2 543.3,738.1 543.6,738.1 543.9,738.1 544.2,738.1 544.4,737.8 544.7,737.6 545.0,737.5 545.3,737.5 545.6,737.5 545.8,737.5 546.1,737.3 546.4,737.6 546.7,737.7 547.0,737.8 547.2,737.9 547.5,738.0 547.8,738.1 548.1,738.1 548.4,737.9 548.6,738.0 548.9,738.0 549.2,737.9 549.5,738.0 549.8,738.1 550.0,738.1 550.3,738.3 550.6,738.3 550.9,738.4 551.1,738.5 551.4,738.5 551.7,738.4 552.0,738.4 552.3,738.1 552.5,738.1 552.8,737.9 553.1,738.0 553.4,737.9 553.7,737.8 553.9,737.9 554.2,737.7 554.5,737.8 554.8,737.7 555.1,737.7 555.3,737.8 555.6,737.9 555.9,737.9 556.2,738.2 556.5,738.1 556.7,738.4 557.0,738.4 557.3,738.6 557.6,738.5 557.8,738.4 558.1,738.3 558.4,738.3 558.7,738.2 559.0,738.2 559.2,738.1 559.5,738.0 559.8,738.2 560.1,738.2 560.4,738.3 560.6,738.2 560.9,738.0 561.2,738.0 561.5,738.1 561.8,738.0 562.0,738.0 562.3,738.0 562.6,737.9 562.9,738.1 563.1,738.1 563.4,738.0 563.7,738.0 564.0,738.0 564.3,737.8 564.5,737.9 564.8,737.9 565.1,738.0 565.4,738.1 565.7,738.2 565.9,738.3 566.2,738.4 566.5,738.3 566.8,738.4 567.1,738.4 567.3,738.4 567.6,738.4 567.9,738.3 568.2,738.2 568.5,738.3 568.7,738.2 569.0,738.1 569.3,738.0 569.6,738.0 569.8,737.9 570.1,738.0 570.4,737.9 570.7,738.1 571.0,738.0 571.2,738.1 571.5,738.0 571.8,738.0 572.1,737.9 572.4,737.9 572.6,737.8 572.9,737.8 573.2,737.7 573.5,737.8 573.8,737.7 574.0,737.6 574.3,737.5 574.6,737.6 574.9,737.6 575.2,737.7 575.4,737.7 575.7,737.6 576.0,737.7 576.3,737.7 576.5,737.5 576.8,737.6 577.1,737.6 577.4,737.5 577.7,737.6 577.9,737.6 578.2,737.6 578.5,737.7 578.8,737.6 579.1,737.8 579.3,737.7 579.6,737.7 579.9,737.7 580.2,737.7 580.5,737.7 580.7,737.9 581.0,737.8 581.3,737.8 581.6,737.8 581.9,737.7 582.1,737.8 582.4,737.9 582.7,737.8 583.0,738.0 583.2,738.1 583.5,738.2 583.8,738.2 584.1,738.2 584.4,738.2 584.6,738.0 584.9,738.0 585.2,738.0 585.5,738.0 585.8,738.0 586.0,738.0 586.3,738.0 586.6,738.1 586.9,737.9 587.2,737.9 587.4,737.8 587.7,737.7 588.0,737.7 588.3,737.6 588.5,737.6 588.8,737.5 589.1,737.5 589.4,737.5 589.7,737.5 589.9,737.6 590.2,737.5 590.5,737.6 590.8,737.6 591.1,737.6 591.3,737.4 591.6,737.7 591.9,737.5 592.2,737.9 592.5,737.7 592.7,737.6 593.0,737.7 593.3,737.6 593.6,737.7 593.9,737.8 594.1,737.7 594.4,737.7 594.7,737.6 595.0,737.5 595.2,737.5 595.5,737.3 595.8,737.3 596.1,737.2 596.4,737.0 596.6,737.3 596.9,737.4 597.2,737.5 597.5,737.4 597.8,737.5 598.0,737.4 598.3,737.5 598.6,737.4 598.9,737.2 599.2,737.2 599.4,737.1 599.7,737.1 600.0,737.4 600.3,737.1 600.6,737.1 600.8,737.2 601.1,737.2 601.4,737.2 601.7,737.4 601.9,737.3 602.2,737.5 602.5,737.5 602.8,737.4 603.1,737.3 603.3,737.2 603.6,737.1 603.9,737.5 604.2,737.5 604.5,737.4 604.7,737.2 605.0,737.3 605.3,737.5 605.6,737.4 605.9,737.2 606.1,737.1 606.4,737.2 606.7,737.3 607.0,737.2 607.2,737.1 607.5,737.2 607.8,737.1 608.1,737.1 608.4,736.9 608.6,736.9 608.9,736.5 609.2,736.4 609.5,736.3 609.8,736.0 610.0,736.2 610.3,736.2 610.6,736.0 610.9,736.1 611.2,735.8 611.4,735.6 611.7,735.8 612.0,735.6 612.3,735.5 612.6,735.5 612.8,735.5 613.1,735.7 613.4,735.8 613.7,735.8 613.9,736.1 614.2,736.2 614.5,736.5 614.8,736.7 615.1,736.8 615.3,737.0 615.6,737.1 615.9,737.2 616.2,737.3 616.5,737.3 616.7,737.3 617.0,737.1 617.3,737.1 617.6,737.0 617.9,737.0 618.1,737.1 618.4,737.1 618.7,737.3 619.0,737.3 619.3,737.4 619.5,737.4 619.8,737.6 620.1,737.5 620.4,737.6 620.6,737.7 620.9,737.9 621.2,737.7 621.5,737.8 621.8,737.8 622.0,737.7 622.3,737.8 622.6,737.7 622.9,737.6 623.2,737.8 623.4,737.7 623.7,737.8 624.0,738.0 624.3,737.9 624.6,738.0 624.8,737.9 625.1,738.0 625.4,738.0 625.7,738.1 626.0,738.2 626.2,738.2 626.5,738.1 626.8,738.0 627.1,738.1 627.3,738.1 627.6,738.0 627.9,738.0 628.2,738.2 628.5,738.3 628.7,738.4 629.0,738.2 629.3,738.2 629.6,738.1 629.9,738.0 630.1,737.9 630.4,737.7 630.7,737.6 631.0,737.5 631.3,737.6 631.5,737.7 631.8,737.7 632.1,737.7 632.4,737.9 632.6,738.0 632.9,738.2 633.2,738.1 633.5,738.1 633.8,738.0 634.0,738.1 634.3,738.0 634.6,737.9 634.9,737.8 635.2,737.8 635.4,737.7 635.7,737.7 636.0,737.7 636.3,737.7 636.6,737.8 636.8,737.7 637.1,737.6 637.4,737.9 637.7,738.0 638.0,738.1 638.2,738.0 638.5,737.9 638.8,738.0 639.1,738.1 639.3,737.9 639.6,737.8 639.9,737.7 640.2,737.9 640.5,738.1 640.7,737.9 641.0,737.7 641.3,737.7 641.6,737.9 641.9,738.0 642.1,738.0 642.4,737.9 642.7,738.1 643.0,738.2 643.3,738.4 643.5,738.3 643.8,738.3 644.1,738.6 644.4,738.4 644.7,738.2 644.9,738.1 645.2,738.2 645.5,738.2 645.8,738.2 646.0,738.1 646.3,738.3 646.6,738.4 646.9,738.6 647.2,738.5 647.4,738.5 647.7,738.6 648.0,738.4 648.3,738.3 648.6,738.2 648.8,738.2 649.1,738.2 649.4,738.3 649.7,738.5 650.0,738.6 650.2,738.6 650.5,738.6 650.8,738.6 651.1,738.5 651.4,738.5 651.6,738.6 651.9,738.7 652.2,738.5 652.5,738.5 652.7,738.5 653.0,738.5 653.3,738.5 653.6,738.4 653.9,738.4 654.1,738.5 654.4,738.4 654.7,738.3 655.0,738.4 655.3,738.4 655.5,738.3 655.8,738.3 656.1,738.4 656.4,738.4 656.7,738.4 656.9,738.2 657.2,738.2 657.5,738.3 657.8,738.4 658.0,738.4 658.3,738.6 658.6,738.6 658.9,738.8 659.2,738.7 659.4,738.5 659.7,738.5 660.0,738.5 660.3,738.5 660.6,738.5 660.8,738.4 661.1,738.4 661.4,738.5 661.7,738.4 662.0,738.4 662.2,738.5 662.5,738.5 662.8,738.5 663.1,738.7 663.4,738.8 663.6,738.8 663.9,738.7 664.2,738.6 664.5,738.7 664.7,738.6 665.0,738.5 665.3,738.4 665.6,738.6 665.9,738.6 666.1,738.8 666.4,738.6 666.7,738.7 667.0,738.6 667.3,738.6 667.5,738.5 667.8,738.5 668.1,738.5 668.4,738.5 668.7,738.5 668.9,738.6" fill="none" stroke="#1414f0" stroke-width="1.15" stroke-linejoin="round"/>
<polyline points="58.5,739.1 58.8,739.1 59.1,739.1 59.3,739.1 59.6,739.1 59.9,739.1 60.2,739.2 60.5,739.2 60.7,739.2 61.0,739.3 61.3,739.3 61.6,739.3 61.8,739.3 62.1,739.3 62.4,739.2 62.7,739.2 63.0,739.2 63.2,739.3 63.5,739.3 63.8,739.3 64.1,739.3 64.4,739.3 64.6,739.3 64.9,739.3 65.2,739.2 65.5,739.2 65.8,739.2 66.0,739.2 66.3,739.2 66.6,739.2 66.9,739.2 67.2,739.3 67.4,739.3 67.7,739.3 68.0,739.3 68.3,739.3 68.5,739.2 68.8,739.2 69.1,739.2 69.4,739.2 69.7,739.2 69.9,739.3 70.2,739.3 70.5,739.3 70.8,739.3 71.1,739.3 71.3,739.3 71.6,739.2 71.9,739.2 72.2,739.3 72.5,739.3 72.7,739.3 73.0,739.3 73.3,739.3 73.6,739.3 73.9,739.2 74.1,739.2 74.4,739.2 74.7,739.1 75.0,739.2 75.2,739.2 75.5,739.2 75.8,739.3 76.1,739.2 76.4,739.2 76.6,739.4 76.9,739.3 77.2,739.4 77.5,739.3 77.8,739.3 78.0,739.3 78.3,739.3 78.6,739.3 78.9,739.3 79.2,739.2 79.4,739.3 79.7,739.3 80.0,739.3 80.3,739.2 80.6,739.2 80.8,739.2 81.1,739.1 81.4,739.1 81.7,739.1 81.9,739.1 82.2,739.1 82.5,739.2 82.8,739.2 83.1,739.2 83.3,739.2 83.6,739.2 83.9,739.2 84.2,739.2 84.5,739.2 84.7,739.2 85.0,739.2 85.3,739.2 85.6,739.1 85.9,739.1 86.1,739.2 86.4,739.2 86.7,739.1 87.0,739.1 87.2,739.2 87.5,739.1 87.8,739.1 88.1,739.1 88.4,739.1 88.6,739.2 88.9,739.2 89.2,739.2 89.5,739.3 89.8,739.3 90.0,739.3 90.3,739.2 90.6,739.2 90.9,739.2 91.2,739.1 91.4,739.0 91.7,738.9 92.0,738.8 92.3,738.8 92.6,738.6 92.8,738.4 93.1,738.2 93.4,738.1 93.7,737.9 93.9,737.8 94.2,737.7 94.5,737.7 94.8,737.8 95.1,737.9 95.3,738.0 95.6,738.1 95.9,738.3 96.2,738.5 96.5,738.6 96.7,738.7 97.0,738.8 97.3,738.9 97.6,739.1 97.9,739.1 98.1,739.1 98.4,739.2 98.7,739.3 99.0,739.4 99.3,739.4 99.5,739.4 99.8,739.3 100.1,739.4 100.4,739.4 100.6,739.4 100.9,739.3 101.2,739.3 101.5,739.3 101.8,739.4 102.0,739.3 102.3,739.3 102.6,739.3 102.9,739.3 103.2,739.4 103.4,739.4 103.7,739.3 104.0,739.4 104.3,739.3 104.6,739.4 104.8,739.4 105.1,739.4 105.4,739.4 105.7,739.3 106.0,739.3 106.2,739.4 106.5,739.3 106.8,739.3 107.1,739.4 107.3,739.3 107.6,739.4 107.9,739.4 108.2,739.4 108.5,739.4 108.7,739.4 109.0,739.4 109.3,739.4 109.6,739.4 109.9,739.4 110.1,739.4 110.4,739.4 110.7,739.4 111.0,739.3 111.3,739.2 111.5,739.2 111.8,739.1 112.1,739.0 112.4,738.9 112.6,738.7 112.9,738.6 113.2,738.3 113.5,738.0 113.8,737.7 114.0,737.4 114.3,737.2 114.6,736.9 114.9,736.8 115.2,736.7 115.4,736.7 115.7,736.8 116.0,736.9 116.3,737.2 116.6,737.5 116.8,737.9 117.1,738.1 117.4,738.4 117.7,738.6 118.0,738.9 118.2,738.9 118.5,739.0 118.8,739.1 119.1,739.2 119.3,739.2 119.6,739.2 119.9,739.2 120.2,739.2 120.5,739.2 120.7,739.2 121.0,739.2 121.3,739.1 121.6,739.1 121.9,739.1 122.1,739.2 122.4,739.2 122.7,739.2 123.0,739.2 123.3,739.2 123.5,739.3 123.8,739.3 124.1,739.3 124.4,739.3 124.7,739.4 124.9,739.4 125.2,739.4 125.5,739.4 125.8,739.4 126.0,739.3 126.3,739.3 126.6,739.3 126.9,739.3 127.2,739.3 127.4,739.3 127.7,739.3 128.0,739.2 128.3,739.1 128.6,739.1 128.8,739.0 129.1,738.9 129.4,738.7 129.7,738.5 130.0,738.1 130.2,737.3 130.5,736.1 130.8,734.2 131.1,731.5 131.4,727.8 131.6,723.1 131.9,717.4 132.2,711.1 132.5,704.7 132.7,698.7 133.0,693.8 133.3,690.9 133.6,691.6 133.9,695.8 134.1,700.7 134.4,705.8 134.7,711.1 135.0,716.1 135.3,720.6 135.5,724.5 135.8,727.7 136.1,730.3 136.4,732.2 136.7,733.7 136.9,734.8 137.2,735.6 137.5,736.2 137.8,736.7 138.0,737.1 138.3,737.4 138.6,737.7 138.9,737.9 139.2,738.1 139.4,738.3 139.7,738.4 140.0,738.5 140.3,738.6 140.6,738.6 140.8,738.7 141.1,738.7 141.4,738.8 141.7,738.8 142.0,738.8 142.2,738.8 142.5,738.9 142.8,738.9 143.1,738.8 143.4,738.9 143.6,739.0 143.9,739.0 144.2,739.0 144.5,739.0 144.7,739.0 145.0,739.1 145.3,739.0 145.6,739.0 145.9,739.0 146.1,739.0 146.4,739.1 146.7,739.1 147.0,739.1 147.3,739.2 147.5,739.2 147.8,739.2 148.1,739.3 148.4,739.2 148.7,739.2 148.9,739.1 149.2,739.1 149.5,739.2 149.8,739.1 150.1,739.1 150.3,739.1 150.6,739.0 150.9,739.1 151.2,739.1 151.4,739.1 151.7,739.1 152.0,739.1 152.3,739.1 152.6,739.1 152.8,739.2 153.1,739.2 153.4,739.2 153.7,739.2 154.0,739.2 154.2,739.2 154.5,739.2 154.8,739.2 155.1,739.1 155.4,739.1 155.6,739.1 155.9,739.0 156.2,739.0 156.5,739.0 156.8,739.0 157.0,739.0 157.3,739.0 157.6,739.0 157.9,739.1 158.1,739.1 158.4,739.1 158.7,739.1 159.0,739.1 159.3,739.1 159.5,739.0 159.8,739.0 160.1,739.1 160.4,739.1 160.7,739.0 160.9,739.0 161.2,739.1 161.5,739.0 161.8,739.0 162.1,738.8 162.3,738.5 162.6,738.2 162.9,737.8 163.2,737.2 163.4,736.6 163.7,735.7 164.0,734.8 164.3,733.9 164.6,733.0 164.8,732.3 165.1,731.8 165.4,731.5 165.7,731.8 166.0,732.4 166.2,733.1 166.5,733.8 166.8,734.6 167.1,735.3 167.4,735.9 167.6,736.6 167.9,737.0 168.2,737.3 168.5,737.7 168.8,737.9 169.0,738.2 169.3,738.4 169.6,738.5 169.9,738.6 170.1,738.7 170.4,738.7 170.7,738.8 171.0,738.9 171.3,739.0 171.5,739.0 171.8,739.1 172.1,739.1 172.4,739.2 172.7,739.2 172.9,739.3 173.2,739.2 173.5,739.3 173.8,739.3 174.1,739.3 174.3,739.3 174.6,739.3 174.9,739.2 175.2,739.3 175.5,739.3 175.7,739.2 176.0,739.3 176.3,739.3 176.6,739.3 176.8,739.3 177.1,739.2 177.4,739.2 177.7,739.3 178.0,739.3 178.2,739.3 178.5,739.3 178.8,739.4 179.1,739.4 179.4,739.4 179.6,739.3 179.9,739.3 180.2,739.3 180.5,739.3 180.8,739.3 181.0,739.4 181.3,739.3 181.6,739.3 181.9,739.3 182.2,739.3 182.4,739.3 182.7,739.3 183.0,739.3 183.3,739.2 183.5,739.3 183.8,739.3 184.1,739.2 184.4,739.3 184.7,739.3 184.9,739.3 185.2,739.3 185.5,739.3 185.8,739.4 186.1,739.4 186.3,739.3 186.6,739.3 186.9,739.3 187.2,739.3 187.5,739.2 187.7,739.2 188.0,739.2 188.3,739.2 188.6,739.3 188.8,739.2 189.1,739.2 189.4,739.2 189.7,739.3 190.0,739.2 190.2,739.2 190.5,739.2 190.8,739.1 191.1,739.1 191.4,739.2 191.6,739.1 191.9,739.2 192.2,739.1 192.5,739.1 192.8,739.1 193.0,739.1 193.3,739.1 193.6,739.1 193.9,739.1 194.2,739.1 194.4,739.2 194.7,739.2 195.0,739.2 195.3,739.2 195.5,739.2 195.8,739.2 196.1,739.2 196.4,739.2 196.7,739.1 196.9,739.1 197.2,739.0 197.5,739.1 197.8,739.0 198.1,739.0 198.3,739.1 198.6,739.1 198.9,739.2 199.2,739.2 199.5,739.2 199.7,739.2 200.0,739.2 200.3,739.2 200.6,739.1 200.9,739.2 201.1,739.2 201.4,739.2 201.7,739.2 202.0,739.3 202.2,739.3 202.5,739.4 202.8,739.4 203.1,739.4 203.4,739.4 203.6,739.4 203.9,739.4 204.2,739.4 204.5,739.3 204.8,739.4 205.0,739.4 205.3,739.3 205.6,739.4 205.9,739.3 206.2,739.3 206.4,739.3 206.7,739.3 207.0,739.2 207.3,739.2 207.6,739.2 207.8,739.1 208.1,739.0 208.4,739.0 208.7,738.9 208.9,738.9 209.2,738.8 209.5,738.6 209.8,738.4 210.1,738.3 210.3,738.0 210.6,737.8 210.9,737.5 211.2,737.3 211.5,737.1 211.7,736.9 212.0,736.8 212.3,736.8 212.6,736.8 212.9,736.8 213.1,736.9 213.4,737.1 213.7,737.2 214.0,737.4 214.2,737.6 214.5,737.9 214.8,738.1 215.1,738.2 215.4,738.4 215.6,738.6 215.9,738.7 216.2,738.8 216.5,738.8 216.8,738.9 217.0,739.0 217.3,739.0 217.6,739.0 217.9,739.1 218.2,739.2 218.4,739.2 218.7,739.1 219.0,739.2 219.3,739.2 219.6,739.1 219.8,739.2 220.1,739.1 220.4,739.1 220.7,739.1 220.9,739.1 221.2,739.1 221.5,739.2 221.8,739.2 222.1,739.2 222.3,739.3 222.6,739.3 222.9,739.3 223.2,739.4 223.5,739.3 223.7,739.3 224.0,739.3 224.3,739.3 224.6,739.3 224.9,739.2 225.1,739.2 225.4,739.2 225.7,739.2 226.0,739.2 226.3,739.2 226.5,739.2 226.8,739.2 227.1,739.3 227.4,739.3 227.6,739.3 227.9,739.3 228.2,739.3 228.5,739.3 228.8,739.2 229.0,739.2 229.3,739.2 229.6,739.2 229.9,739.1 230.2,739.1 230.4,739.1 230.7,739.1 231.0,739.2 231.3,739.2 231.6,739.2 231.8,739.2 232.1,739.2 232.4,739.2 232.7,739.2 233.0,739.1 233.2,739.2 233.5,739.2 233.8,739.2 234.1,739.2 234.3,739.2 234.6,739.2 234.9,739.2 235.2,739.2 235.5,739.2 235.7,739.2 236.0,739.2 236.3,739.3 236.6,739.3 236.9,739.3 237.1,739.2 237.4,739.2 237.7,739.2 238.0,739.3 238.3,739.3 238.5,739.3 238.8,739.3 239.1,739.3 239.4,739.3 239.6,739.4 239.9,739.4 240.2,739.4 240.5,739.4 240.8,739.5 241.0,739.4 241.3,739.5 241.6,739.5 241.9,739.4 242.2,739.4 242.4,739.3 242.7,739.3 243.0,739.3 243.3,739.4 243.6,739.3 243.8,739.3 244.1,739.3 244.4,739.3 244.7,739.4 245.0,739.4 245.2,739.4 245.5,739.4 245.8,739.4 246.1,739.4 246.3,739.4 246.6,739.4 246.9,739.4 247.2,739.4 247.5,739.4 247.7,739.4 248.0,739.4 248.3,739.3 248.6,739.3 248.9,739.3 249.1,739.2 249.4,739.3 249.7,739.3 250.0,739.4 250.3,739.4 250.5,739.3 250.8,739.4 251.1,739.3 251.4,739.3 251.7,739.3 251.9,739.3 252.2,739.3 252.5,739.3 252.8,739.3 253.0,739.3 253.3,739.3 253.6,739.3 253.9,739.3 254.2,739.3 254.4,739.3 254.7,739.3 255.0,739.3 255.3,739.3 255.6,739.2 255.8,739.2 256.1,739.2 256.4,739.2 256.7,739.1 257.0,739.1 257.2,739.1 257.5,739.2 257.8,739.1 258.1,739.1 258.3,739.2 258.6,739.2 258.9,739.2 259.2,739.1 259.5,739.1 259.7,739.0 260.0,739.0 260.3,739.0 260.6,738.9 260.9,738.8 261.1,738.8 261.4,738.7 261.7,738.6 262.0,738.5 262.3,738.3 262.5,738.1 262.8,737.8 263.1,737.4 263.4,736.9 263.7,736.4 263.9,735.7 264.2,735.1 264.5,734.3 264.8,733.6 265.0,732.9 265.3,732.2 265.6,731.7 265.9,731.2 266.2,731.0 266.4,730.8 266.7,731.4 267.0,732.0 267.3,732.7 267.6,733.3 267.8,733.9 268.1,734.6 268.4,735.2 268.7,735.8 269.0,736.4 269.2,736.8 269.5,737.1 269.8,737.5 270.1,737.8 270.4,738.0 270.6,738.2 270.9,738.4 271.2,738.4 271.5,738.6 271.7,738.7 272.0,738.7 272.3,738.8 272.6,738.8 272.9,738.8 273.1,738.8 273.4,738.7 273.7,738.8 274.0,738.8 274.3,738.8 274.5,738.9 274.8,738.8 275.1,738.8 275.4,738.9 275.7,738.9 275.9,738.8 276.2,738.8 276.5,738.8 276.8,738.8 277.1,738.8 277.3,738.8 277.6,738.8 277.9,738.8 278.2,738.8 278.4,738.8 278.7,738.8 279.0,738.7 279.3,738.7 279.6,738.6 279.8,738.6 280.1,738.6 280.4,738.5 280.7,738.6 281.0,738.6 281.2,738.4 281.5,738.1 281.8,737.9 282.1,737.6 282.4,737.4 282.6,737.2 282.9,737.3 283.2,737.4 283.5,737.7 283.7,738.0 284.0,738.2 284.3,738.3 284.6,738.5 284.9,738.6 285.1,738.7 285.4,738.7 285.7,738.8 286.0,738.8 286.3,738.9 286.5,738.9 286.8,739.0 287.1,738.9 287.4,738.9 287.7,738.9 287.9,738.9 288.2,738.9 288.5,738.9 288.8,738.9 289.1,738.9 289.3,738.9 289.6,738.9 289.9,739.0 290.2,739.0 290.4,739.0 290.7,739.0 291.0,739.0 291.3,739.0 291.6,739.0 291.8,739.0 292.1,739.1 292.4,739.0 292.7,739.0 293.0,739.0 293.2,739.0 293.5,738.9 293.8,738.8 294.1,738.8 294.4,738.8 294.6,738.6 294.9,738.4 295.2,738.1 295.5,737.8 295.8,737.4 296.0,736.9 296.3,736.4 296.6,735.9 296.9,735.7 297.1,735.6 297.4,735.7 297.7,735.9 298.0,736.3 298.3,736.8 298.5,737.3 298.8,737.7 299.1,738.0 299.4,738.3 299.7,738.5 299.9,738.6 300.2,738.7 300.5,738.7 300.8,738.7 301.1,738.7 301.3,738.8 301.6,738.7 301.9,738.8 302.2,738.8 302.5,738.8 302.7,738.9 303.0,738.8 303.3,738.8 303.6,738.8 303.8,738.8 304.1,738.8 304.4,738.8 304.7,738.7 305.0,738.7 305.2,738.7 305.5,738.7 305.8,738.7 306.1,738.8 306.4,738.8 306.6,738.8 306.9,738.8 307.2,738.8 307.5,738.8 307.8,738.8 308.0,738.8 308.3,738.8 308.6,738.8 308.9,738.9 309.1,738.8 309.4,738.9 309.7,738.9 310.0,738.9 310.3,738.9 310.5,738.9 310.8,738.8 311.1,738.7 311.4,738.7 311.7,738.7 311.9,738.7 312.2,738.7 312.5,738.7 312.8,738.7 313.1,738.7 313.3,738.7 313.6,738.7 313.9,738.6 314.2,738.6 314.5,738.6 314.7,738.5 315.0,738.5 315.3,738.6 315.6,738.6 315.8,738.7 316.1,738.7 316.4,738.7 316.7,738.7 317.0,738.7 317.2,738.7 317.5,738.7 317.8,738.7 318.1,738.7 318.4,738.7 318.6,738.6 318.9,738.6 319.2,738.6 319.5,738.5 319.8,738.6 320.0,738.6 320.3,738.6 320.6,738.6 320.9,738.6 321.2,738.6 321.4,738.6 321.7,738.6 322.0,738.7 322.3,738.7 322.5,738.8 322.8,738.7 323.1,738.7 323.4,738.7 323.7,738.6 323.9,738.6 324.2,738.5 324.5,738.5 324.8,738.5 325.1,738.5 325.3,738.5 325.6,738.5 325.9,738.5 326.2,738.6 326.5,738.6 326.7,738.6 327.0,738.7 327.3,738.7 327.6,738.7 327.9,738.6 328.1,738.6 328.4,738.5 328.7,738.5 329.0,738.6 329.2,738.5 329.5,738.5 329.8,738.6 330.1,738.6 330.4,738.6 330.6,738.6 330.9,738.6 331.2,738.5 331.5,738.5 331.8,738.4 332.0,738.4 332.3,738.3 332.6,738.3 332.9,738.4 333.2,738.2 333.4,738.0 333.7,737.8 334.0,737.6 334.3,737.4 334.5,737.3 334.8,737.1 335.1,736.8 335.4,736.6 335.7,736.4 335.9,736.2 336.2,735.9 336.5,735.6 336.8,735.2 337.1,735.0 337.3,734.6 337.6,734.3 337.9,734.0 338.2,733.5 338.5,733.2 338.7,733.0 339.0,732.6 339.3,732.3 339.6,731.9 339.9,731.7 340.1,731.7 340.4,731.9 340.7,731.7 341.0,731.8 341.2,731.8 341.5,731.8 341.8,731.6 342.1,731.4 342.4,731.4 342.6,731.5 342.9,731.6 343.2,731.6 343.5,731.7 343.8,731.7 344.0,731.8 344.3,731.7 344.6,731.6 344.9,731.6 345.2,731.7 345.4,731.7 345.7,731.7 346.0,731.7 346.3,731.7 346.6,731.6 346.8,731.4 347.1,731.3 347.4,731.4 347.7,731.3 347.9,731.2 348.2,731.2 348.5,731.2 348.8,731.2 349.1,731.2 349.3,730.9 349.6,731.0 349.9,731.0 350.2,730.9 350.5,731.0 350.7,731.3 351.0,731.3 351.3,731.5 351.6,731.2 351.9,731.2 352.1,731.2 352.4,731.1 352.7,730.9 353.0,730.7 353.3,730.6 353.5,730.6 353.8,730.0 354.1,729.4 354.4,728.7 354.6,728.1 354.9,727.6 355.2,727.1 355.5,726.5 355.8,726.0 356.0,725.6 356.3,725.7 356.6,726.8 356.9,728.0 357.2,729.1 357.4,730.1 357.7,731.1 358.0,732.3 358.3,733.4 358.6,734.5 358.8,734.5 359.1,734.5 359.4,734.6 359.7,734.7 359.9,734.6 360.2,734.7 360.5,734.8 360.8,734.8 361.1,734.7 361.3,734.7 361.6,734.6 361.9,734.5 362.2,734.5 362.5,734.5 362.7,734.5 363.0,734.7 363.3,734.6 363.6,734.6 363.9,734.7 364.1,734.9 364.4,734.8 364.7,734.7 365.0,734.7 365.3,734.7 365.5,734.8 365.8,734.8 366.1,734.8 366.4,734.8 366.6,735.0 366.9,734.9 367.2,735.0 367.5,735.1 367.8,735.1 368.0,735.2 368.3,735.2 368.6,735.2 368.9,735.3 369.2,735.3 369.4,735.3 369.7,735.3 370.0,735.2 370.3,735.3 370.6,735.4 370.8,735.4 371.1,735.5 371.4,735.4 371.7,735.5 372.0,735.4 372.2,735.4 372.5,735.3 372.8,735.4 373.1,735.3 373.3,735.3 373.6,735.4 373.9,735.5 374.2,735.5 374.5,735.4 374.7,735.4 375.0,735.5 375.3,735.4 375.6,735.4 375.9,735.5 376.1,735.5 376.4,735.7 376.7,735.7 377.0,735.8 377.3,736.0 377.5,736.0 377.8,735.8 378.1,735.9 378.4,736.0 378.7,735.9 378.9,735.8 379.2,735.7 379.5,735.7 379.8,735.6 380.0,735.7 380.3,735.6 380.6,735.7 380.9,735.8 381.2,735.9 381.4,735.9 381.7,736.1 382.0,736.1 382.3,736.2 382.6,736.2 382.8,736.2 383.1,736.2 383.4,736.2 383.7,736.3 384.0,736.3 384.2,736.3 384.5,736.3 384.8,736.3 385.1,736.4 385.3,736.3 385.6,736.3 385.9,736.3 386.2,736.4 386.5,736.4 386.7,736.3 387.0,736.2 387.3,736.2 387.6,736.1 387.9,736.1 388.1,736.0 388.4,736.0 388.7,736.0 389.0,736.0 389.3,736.1 389.5,736.1 389.8,736.1 390.1,736.1 390.4,736.2 390.7,736.3 390.9,736.3 391.2,736.3 391.5,736.3 391.8,736.3 392.0,736.3 392.3,736.1 392.6,736.2 392.9,736.2 393.2,736.0 393.4,736.1 393.7,736.1 394.0,736.1 394.3,736.1 394.6,736.1 394.8,736.2 395.1,736.2 395.4,736.2 395.7,736.3 396.0,736.2 396.2,736.2 396.5,736.2 396.8,736.2 397.1,736.2 397.4,736.1 397.6,736.1 397.9,736.1 398.2,736.2 398.5,736.3 398.7,736.3 399.0,736.4 399.3,736.4 399.6,736.4 399.9,736.4 400.1,736.4 400.4,736.3 400.7,736.3 401.0,736.3 401.3,736.4 401.5,736.4 401.8,736.5 402.1,736.7 402.4,736.7 402.7,736.7 402.9,736.8 403.2,736.7 403.5,736.7 403.8,736.7 404.1,736.6 404.3,736.6 404.6,736.7 404.9,736.7 405.2,736.7 405.4,736.6 405.7,736.6 406.0,736.7 406.3,736.6 406.6,736.5 406.8,736.6 407.1,736.6 407.4,736.6 407.7,736.6 408.0,736.6 408.2,736.7 408.5,736.8 408.8,736.7 409.1,736.7 409.4,736.7 409.6,736.7 409.9,736.8 410.2,736.8 410.5,736.8 410.7,736.9 411.0,736.9 411.3,736.8 411.6,736.8 411.9,736.7 412.1,736.7 412.4,736.7 412.7,736.7 413.0,736.7 413.3,736.8 413.5,736.8 413.8,736.9 414.1,736.9 414.4,736.9 414.7,737.0 414.9,737.0 415.2,737.1 415.5,737.0 415.8,737.0 416.1,736.9 416.3,737.0 416.6,737.0 416.9,737.0 417.2,736.9 417.4,736.9 417.7,736.9 418.0,737.0 418.3,737.0 418.6,736.9 418.8,736.9 419.1,737.0 419.4,737.1 419.7,737.0 420.0,737.0 420.2,736.9 420.5,737.0 420.8,737.0 421.1,737.0 421.4,736.9 421.6,737.0 421.9,736.9 422.2,736.9 422.5,736.8 422.8,736.9 423.0,737.0 423.3,737.0 423.6,737.0 423.9,737.0 424.1,737.0 424.4,737.0 424.7,737.0 425.0,737.0 425.3,737.0 425.5,737.0 425.8,737.0 426.1,736.9 426.4,736.9 426.7,736.8 426.9,736.7 427.2,736.5 427.5,736.3 427.8,736.2 428.1,736.1 428.3,735.9 428.6,735.7 428.9,735.6 429.2,735.5 429.5,735.3 429.7,735.2 430.0,734.9 430.3,734.8 430.6,734.7 430.8,734.6 431.1,734.6 431.4,734.5 431.7,734.7 432.0,734.8 432.2,735.0 432.5,735.2 432.8,735.4 433.1,735.4 433.4,735.6 433.6,735.5 433.9,735.5 434.2,735.5 434.5,735.5 434.8,735.4 435.0,735.3 435.3,735.2 435.6,735.2 435.9,735.1 436.1,735.0 436.4,734.7 436.7,734.5 437.0,734.3 437.3,733.9 437.5,733.5 437.8,733.0 438.1,732.4 438.4,731.8 438.7,731.1 438.9,730.3 439.2,729.5 439.5,728.5 439.8,727.3 440.1,726.2 440.3,725.0 440.6,723.6 440.9,722.4 441.2,721.2 441.5,719.9 441.7,719.0 442.0,718.1 442.3,717.6 442.6,717.3 442.8,717.3 443.1,717.3 443.4,717.8 443.7,718.2 444.0,718.6 444.2,719.2 444.5,719.7 444.8,720.3 445.1,721.0 445.4,721.6 445.6,722.2 445.9,722.7 446.2,723.3 446.5,723.9 446.8,724.3 447.0,724.7 447.3,725.1 447.6,725.4 447.9,725.7 448.2,725.8 448.4,726.0 448.7,726.1 449.0,726.3 449.3,726.4 449.5,726.6 449.8,726.7 450.1,726.8 450.4,726.9 450.7,727.0 450.9,727.1 451.2,727.2 451.5,727.1 451.8,727.3 452.1,727.4 452.3,727.5 452.6,727.6 452.9,727.8 453.2,727.9 453.5,728.1 453.7,728.2 454.0,728.4 454.3,728.6 454.6,728.8 454.9,729.0 455.1,729.1 455.4,729.4 455.7,729.5 456.0,729.7 456.2,729.9 456.5,730.1 456.8,730.2 457.1,730.5 457.4,730.6 457.6,730.8 457.9,731.1 458.2,731.3 458.5,731.5 458.8,731.8 459.0,731.9 459.3,732.1 459.6,732.4 459.9,732.5 460.2,732.6 460.4,732.7 460.7,732.8 461.0,733.0 461.3,733.2 461.5,733.4 461.8,733.5 462.1,733.7 462.4,733.8 462.7,733.9 462.9,734.0 463.2,734.1 463.5,734.3 463.8,734.4 464.1,734.5 464.3,734.6 464.6,734.7 464.9,734.7 465.2,734.9 465.5,734.9 465.7,735.0 466.0,735.1 466.3,735.2 466.6,735.2 466.9,735.3 467.1,735.3 467.4,735.5 467.7,735.5 468.0,735.5 468.2,735.6 468.5,735.7 468.8,735.7 469.1,735.7 469.4,735.8 469.6,735.9 469.9,735.9 470.2,735.9 470.5,736.0 470.8,736.1 471.0,736.2 471.3,736.3 471.6,736.3 471.9,736.4 472.2,736.4 472.4,736.4 472.7,736.3 473.0,736.3 473.3,736.4 473.6,736.4 473.8,736.4 474.1,736.5 474.4,736.5 474.7,736.5 474.9,736.5 475.2,736.5 475.5,736.6 475.8,736.7 476.1,736.6 476.3,736.7 476.6,736.7 476.9,736.9 477.2,736.9 477.5,736.9 477.7,737.0 478.0,737.0 478.3,737.0 478.6,737.0 478.9,736.9 479.1,737.0 479.4,737.0 479.7,737.0 480.0,737.0 480.3,737.0 480.5,736.9 480.8,737.0 481.1,737.1 481.4,737.1 481.6,737.1 481.9,737.1 482.2,737.2 482.5,737.2 482.8,737.2 483.0,737.1 483.3,737.1 483.6,737.3 483.9,737.2 484.2,737.1 484.4,737.0 484.7,737.0 485.0,737.1 485.3,736.9 485.6,736.9 485.8,737.0 486.1,737.0 486.4,737.1 486.7,737.1 486.9,737.1 487.2,737.2 487.5,737.2 487.8,737.1 488.1,737.0 488.3,737.0 488.6,737.0 488.9,737.1 489.2,737.1 489.5,737.1 489.7,737.1 490.0,737.1 490.3,737.1 490.6,737.2 490.9,737.2 491.1,737.2 491.4,737.2 491.7,737.3 492.0,737.3 492.3,737.2 492.5,737.2 492.8,737.2 493.1,737.1 493.4,737.1 493.6,736.9 493.9,737.0 494.2,737.1 494.5,737.1 494.8,737.1 495.0,737.2 495.3,737.2 495.6,737.2 495.9,737.2 496.2,737.2 496.4,737.1 496.7,737.1 497.0,737.1 497.3,737.1 497.6,737.1 497.8,737.1 498.1,737.1 498.4,737.2 498.7,737.2 499.0,737.2 499.2,737.2 499.5,737.2 499.8,737.3 500.1,737.2 500.3,737.2 500.6,737.1 500.9,737.1 501.2,737.2 501.5,737.1 501.7,737.0 502.0,737.1 502.3,737.1 502.6,737.1 502.9,737.1 503.1,737.1 503.4,737.1 503.7,737.1 504.0,737.1 504.3,737.2 504.5,737.1 504.8,737.2 505.1,737.1 505.4,737.1 505.7,737.0 505.9,737.1 506.2,737.1 506.5,737.2 506.8,737.2 507.0,737.2 507.3,737.3 507.6,737.3 507.9,737.3 508.2,737.3 508.4,737.3 508.7,737.3 509.0,737.4 509.3,737.4 509.6,737.5 509.8,737.5 510.1,737.5 510.4,737.6 510.7,737.6 511.0,737.5 511.2,737.5 511.5,737.5 511.8,737.4 512.1,737.4 512.3,737.4 512.6,737.4 512.9,737.4 513.2,737.4 513.5,737.3 513.7,737.4 514.0,737.4 514.3,737.4 514.6,737.4 514.9,737.3 515.1,737.4 515.4,737.4 515.7,737.5 516.0,737.5 516.3,737.6 516.5,737.6 516.8,737.6 517.1,737.6 517.4,737.5 517.7,737.5 517.9,737.5 518.2,737.5 518.5,737.5 518.8,737.6 519.0,737.6 519.3,737.6 519.6,737.6 519.9,737.6 520.2,737.5 520.4,737.5 520.7,737.5 521.0,737.5 521.3,737.5 521.6,737.4 521.8,737.4 522.1,737.4 522.4,737.5 522.7,737.4 523.0,737.5 523.2,737.5 523.5,737.5 523.8,737.6 524.1,737.6 524.4,737.5 524.6,737.6 524.9,737.5 525.2,737.5 525.5,737.5 525.7,737.5 526.0,737.5 526.3,737.6 526.6,737.5 526.9,737.6 527.1,737.5 527.4,737.4 527.7,737.4 528.0,737.5 528.3,737.4 528.5,737.4 528.8,737.4 529.1,737.4 529.4,737.4 529.7,737.3 529.9,737.3 530.2,737.3 530.5,737.3 530.8,737.4 531.1,737.4 531.3,737.4 531.6,737.4 531.9,737.4 532.2,737.4 532.4,737.3 532.7,737.2 533.0,737.2 533.3,737.2 533.6,737.2 533.8,737.3 534.1,737.2 534.4,737.2 534.7,737.4 535.0,737.4 535.2,737.4 535.5,737.4 535.8,737.3 536.1,737.5 536.4,737.5 536.6,737.5 536.9,737.5 537.2,737.4 537.5,737.4 537.7,737.5 538.0,737.3 538.3,737.3 538.6,737.3 538.9,737.4 539.1,737.3 539.4,737.3 539.7,737.2 540.0,737.4 540.3,737.4 540.5,737.5 540.8,737.4 541.1,737.4 541.4,737.4 541.7,737.4 541.9,737.4 542.2,737.4 542.5,737.4 542.8,737.5 543.1,737.5 543.3,737.6 543.6,737.5 543.9,737.5 544.2,737.5 544.4,737.6 544.7,737.6 545.0,737.6 545.3,737.6 545.6,737.6 545.8,737.5 546.1,737.5 546.4,737.6 546.7,737.6 547.0,737.6 547.2,737.6 547.5,737.7 547.8,737.6 548.1,737.5 548.4,737.5 548.6,737.5 548.9,737.5 549.2,737.5 549.5,737.5 549.8,737.6 550.0,737.6 550.3,737.6 550.6,737.6 550.9,737.7 551.1,737.7 551.4,737.6 551.7,737.5 552.0,737.5 552.3,737.6 552.5,737.6 552.8,737.6 553.1,737.6 553.4,737.6 553.7,737.6 553.9,737.5 554.2,737.4 554.5,737.3 554.8,737.2 555.1,737.2 555.3,737.2 555.6,737.2 555.9,737.1 556.2,737.0 556.5,737.0 556.7,736.8 557.0,736.6 557.3,736.3 557.6,736.1 557.8,735.9 558.1,735.7 558.4,735.6 558.7,735.6 559.0,735.6 559.2,735.8 559.5,736.0 559.8,736.2 560.1,736.4 560.4,736.7 560.6,736.9 560.9,737.0 561.2,737.2 561.5,737.2 561.8,737.2 562.0,737.1 562.3,737.1 562.6,737.1 562.9,737.1 563.1,737.1 563.4,737.2 563.7,737.3 564.0,737.3 564.3,737.4 564.5,737.5 564.8,737.4 565.1,737.5 565.4,737.5 565.7,737.5 565.9,737.6 566.2,737.5 566.5,737.5 566.8,737.5 567.1,737.5 567.3,737.4 567.6,737.4 567.9,737.4 568.2,737.4 568.5,737.5 568.7,737.4 569.0,737.4 569.3,737.4 569.6,737.3 569.8,737.4 570.1,737.3 570.4,737.3 570.7,737.3 571.0,737.4 571.2,737.4 571.5,737.4 571.8,737.4 572.1,737.4 572.4,737.5 572.6,737.4 572.9,737.4 573.2,737.4 573.5,737.4 573.8,737.4 574.0,737.5 574.3,737.4 574.6,737.4 574.9,737.4 575.2,737.4 575.4,737.5 575.7,737.4 576.0,737.4 576.3,737.5 576.5,737.5 576.8,737.4 577.1,737.5 577.4,737.5 577.7,737.5 577.9,737.4 578.2,737.5 578.5,737.5 578.8,737.5 579.1,737.6 579.3,737.4 579.6,737.4 579.9,737.4 580.2,737.4 580.5,737.4 580.7,737.4 581.0,737.3 581.3,737.4 581.6,737.4 581.9,737.4 582.1,737.4 582.4,737.5 582.7,737.5 583.0,737.6 583.2,737.6 583.5,737.6 583.8,737.6 584.1,737.6 584.4,737.6 584.6,737.6 584.9,737.5 585.2,737.5 585.5,737.5 585.8,737.6 586.0,737.5 586.3,737.5 586.6,737.5 586.9,737.5 587.2,737.6 587.4,737.6 587.7,737.6 588.0,737.6 588.3,737.7 588.5,737.7 588.8,737.6 589.1,737.7 589.4,737.7 589.7,737.7 589.9,737.6 590.2,737.5 590.5,737.6 590.8,737.6 591.1,737.6 591.3,737.6 591.6,737.5 591.9,737.6 592.2,737.6 592.5,737.6 592.7,737.5 593.0,737.6 593.3,737.6 593.6,737.6 593.9,737.6 594.1,737.5 594.4,737.6 594.7,737.6 595.0,737.5 595.2,737.6 595.5,737.6 595.8,737.6 596.1,737.6 596.4,737.6 596.6,737.6 596.9,737.6 597.2,737.5 597.5,737.6 597.8,737.6 598.0,737.7 598.3,737.6 598.6,737.7 598.9,737.7 599.2,737.7 599.4,737.6 599.7,737.6 600.0,737.6 600.3,737.6 600.6,737.6 600.8,737.5 601.1,737.5 601.4,737.5 601.7,737.6 601.9,737.5 602.2,737.6 602.5,737.6 602.8,737.7 603.1,737.7 603.3,737.7 603.6,737.7 603.9,737.7 604.2,737.6 604.5,737.6 604.7,737.6 605.0,737.6 605.3,737.5 605.6,737.6 605.9,737.6 606.1,737.6 606.4,737.6 606.7,737.6 607.0,737.5 607.2,737.7 607.5,737.6 607.8,737.5 608.1,737.6 608.4,737.5 608.6,737.5 608.9,737.6 609.2,737.4 609.5,737.5 609.8,737.4 610.0,737.4 610.3,737.5 610.6,737.4 610.9,737.4 611.2,737.5 611.4,737.5 611.7,737.6 612.0,737.6 612.3,737.6 612.6,737.6 612.8,737.6 613.1,737.6 613.4,737.6 613.7,737.5 613.9,737.5 614.2,737.5 614.5,737.4 614.8,737.4 615.1,737.4 615.3,737.5 615.6,737.7 615.9,737.6 616.2,737.6 616.5,737.7 616.7,737.6 617.0,737.7 617.3,737.7 617.6,737.5 617.9,737.5 618.1,737.5 618.4,737.5 618.7,737.5 619.0,737.5 619.3,737.3 619.5,737.4 619.8,737.3 620.1,737.2 620.4,737.2 620.6,737.2 620.9,737.3 621.2,737.4 621.5,737.4 621.8,737.4 622.0,737.5 622.3,737.4 622.6,737.4 622.9,737.4 623.2,737.5 623.4,737.4 623.7,737.3 624.0,737.3 624.3,737.3 624.6,737.3 624.8,737.4 625.1,737.4 625.4,737.4 625.7,737.4 626.0,737.4 626.2,737.3 626.5,737.3 626.8,737.2 627.1,737.1 627.3,737.1 627.6,737.1 627.9,737.2 628.2,737.2 628.5,737.3 628.7,737.3 629.0,737.2 629.3,737.2 629.6,737.2 629.9,737.1 630.1,737.1 630.4,737.1 630.7,737.1 631.0,737.2 631.3,737.2 631.5,737.3 631.8,737.3 632.1,737.2 632.4,737.2 632.6,737.1 632.9,737.1 633.2,737.1 633.5,737.1 633.8,737.2 634.0,737.2 634.3,737.2 634.6,737.1 634.9,737.2 635.2,737.1 635.4,737.1 635.7,737.0 636.0,737.0 636.3,737.0 636.6,737.0 636.8,737.1 637.1,737.2 637.4,737.2 637.7,737.3 638.0,737.4 638.2,737.4 638.5,737.5 638.8,737.4 639.1,737.4 639.3,737.3 639.6,737.4 639.9,737.4 640.2,737.3 640.5,737.2 640.7,737.2 641.0,737.2 641.3,737.2 641.6,737.2 641.9,737.2 642.1,737.1 642.4,737.1 642.7,737.2 643.0,737.2 643.3,737.2 643.5,737.2 643.8,737.2 644.1,737.2 644.4,737.2 644.7,737.2 644.9,737.3 645.2,737.3 645.5,737.3 645.8,737.4 646.0,737.4 646.3,737.4 646.6,737.4 646.9,737.4 647.2,737.5 647.4,737.4 647.7,737.4 648.0,737.5 648.3,737.5 648.6,737.6 648.8,737.7 649.1,737.6 649.4,737.7 649.7,737.7 650.0,737.7 650.2,737.7 650.5,737.7 650.8,737.7 651.1,737.7 651.4,737.7 651.6,737.7 651.9,737.7 652.2,737.7 652.5,737.6 652.7,737.5 653.0,737.6 653.3,737.6 653.6,737.7 653.9,737.8 654.1,737.7 654.4,737.9 654.7,737.8 655.0,737.8 655.3,737.8 655.5,737.8 655.8,737.8 656.1,737.8 656.4,737.8 656.7,737.9 656.9,737.9 657.2,737.9 657.5,737.9 657.8,737.9 658.0,737.8 658.3,737.8 658.6,737.8 658.9,737.8 659.2,737.9 659.4,738.0 659.7,738.0 660.0,738.1 660.3,738.0 660.6,738.1 660.8,738.0 661.1,738.1 661.4,738.1 661.7,738.0 662.0,738.0 662.2,738.1 662.5,738.0 662.8,738.0 663.1,737.9 663.4,737.9 663.6,738.0 663.9,738.0 664.2,737.9 664.5,738.0 664.7,738.0 665.0,738.0 665.3,738.0 665.6,738.0 665.9,738.0 666.1,738.0 666.4,738.0 666.7,738.0 667.0,738.0 667.3,738.0 667.5,738.0 667.8,738.0 668.1,738.0 668.4,738.0 668.7,738.0 668.9,738.0" fill="none" stroke="#1a8f1a" stroke-width="1.15" stroke-linejoin="round"/>
<polyline points="58.5,730.4 58.8,731.3 59.1,731.9 59.3,732.3 59.6,732.9 59.9,733.6 60.2,733.9 60.5,734.6 60.7,734.1 61.0,734.1 61.3,734.6 61.6,734.5 61.8,734.6 62.1,734.5 62.4,734.7 62.7,735.3 63.0,735.4 63.2,735.6 63.5,735.8 63.8,735.9 64.1,736.1 64.4,736.5 64.6,736.7 64.9,736.9 65.2,736.9 65.5,737.3 65.8,737.5 66.0,737.3 66.3,737.1 66.6,737.3 66.9,737.2 67.2,737.1 67.4,736.8 67.7,736.9 68.0,737.0 68.3,737.1 68.5,736.8 68.8,736.7 69.1,736.7 69.4,737.1 69.7,737.1 69.9,736.9 70.2,736.9 70.5,737.0 70.8,737.0 71.1,737.2 71.3,737.1 71.6,737.1 71.9,737.3 72.2,737.3 72.5,737.4 72.7,737.5 73.0,737.3 73.3,737.5 73.6,737.5 73.9,737.4 74.1,737.5 74.4,737.6 74.7,737.8 75.0,738.0 75.2,738.0 75.5,738.3 75.8,738.4 76.1,738.2 76.4,738.3 76.6,738.3 76.9,738.2 77.2,738.3 77.5,738.0 77.8,738.1 78.0,738.0 78.3,737.9 78.6,737.9 78.9,738.2 79.2,738.0 79.4,738.2 79.7,738.4 80.0,738.5 80.3,738.3 80.6,738.4 80.8,738.1 81.1,738.1 81.4,738.4 81.7,738.2 81.9,738.1 82.2,738.2 82.5,738.1 82.8,738.2 83.1,738.1 83.3,738.0 83.6,738.0 83.9,738.1 84.2,738.0 84.5,738.0 84.7,738.0 85.0,738.0 85.3,738.3 85.6,738.2 85.9,738.0 86.1,738.1 86.4,738.0 86.7,737.9 87.0,737.7 87.2,737.4 87.5,737.5 87.8,737.5 88.1,737.4 88.4,737.5 88.6,737.5 88.9,737.9 89.2,738.1 89.5,738.2 89.8,738.1 90.0,738.1 90.3,738.2 90.6,737.9 90.9,737.8 91.2,737.8 91.4,737.5 91.7,736.9 92.0,735.7 92.3,733.7 92.6,730.9 92.8,726.8 93.1,722.1 93.4,717.2 93.7,713.2 93.9,710.8 94.2,711.4 94.5,714.2 94.8,717.6 95.1,721.1 95.3,724.6 95.6,727.5 95.9,729.8 96.2,731.3 96.5,732.4 96.7,733.4 97.0,734.1 97.3,734.8 97.6,735.4 97.9,735.5 98.1,735.8 98.4,735.9 98.7,736.1 99.0,736.3 99.3,736.3 99.5,736.1 99.8,736.7 100.1,737.0 100.4,737.4 100.6,737.4 100.9,737.5 101.2,737.5 101.5,737.7 101.8,737.5 102.0,737.6 102.3,737.4 102.6,736.8 102.9,736.2 103.2,735.7 103.4,735.6 103.7,735.8 104.0,735.6 104.3,735.4 104.6,735.1 104.8,734.7 105.1,734.4 105.4,734.8 105.7,735.0 106.0,734.9 106.2,735.0 106.5,735.4 106.8,735.4 107.1,735.6 107.3,735.4 107.6,735.2 107.9,735.1 108.2,735.1 108.5,734.9 108.7,734.8 109.0,734.6 109.3,734.5 109.6,734.8 109.9,734.8 110.1,734.7 110.4,734.1 110.7,733.6 111.0,732.7 111.3,731.5 111.5,729.1 111.8,725.7 112.1,721.7 112.4,718.3 112.6,716.0 112.9,715.8 113.2,717.4 113.5,719.5 113.8,721.7 114.0,724.2 114.3,726.0 114.6,727.2 114.9,728.0 115.2,728.1 115.4,727.8 115.7,727.6 116.0,727.3 116.3,727.2 116.6,726.8 116.8,726.3 117.1,726.3 117.4,726.4 117.7,726.5 118.0,726.9 118.2,727.3 118.5,728.1 118.8,729.0 119.1,729.8 119.3,730.4 119.6,731.4 119.9,732.3 120.2,733.1 120.5,733.8 120.7,734.0 121.0,733.7 121.3,732.6 121.6,730.7 121.9,728.6 122.1,727.3 122.4,727.6 122.7,729.8 123.0,732.2 123.3,734.5 123.5,736.2 123.8,736.8 124.1,737.4 124.4,737.6 124.7,737.7 124.9,737.7 125.2,737.4 125.5,736.6 125.8,735.8 126.0,733.8 126.3,731.8 126.6,729.8 126.9,728.6 127.2,729.4 127.4,731.5 127.7,733.5 128.0,735.2 128.3,736.2 128.6,736.9 128.8,737.1 129.1,737.1 129.4,737.0 129.7,736.9 130.0,736.7 130.2,736.5 130.5,736.0 130.8,735.5 131.1,734.2 131.4,731.1 131.6,724.0 131.9,709.8 132.2,684.9 132.5,646.9 132.7,596.8 133.0,540.8 133.3,490.2 133.6,459.1 133.9,467.5 134.1,503.8 134.4,550.0 134.7,598.0 135.0,640.1 135.3,672.7 135.5,695.2 135.8,709.2 136.1,718.0 136.4,723.3 136.7,726.7 136.9,729.2 137.2,731.1 137.5,732.3 137.8,733.6 138.0,734.3 138.3,734.7 138.6,735.1 138.9,735.7 139.2,735.8 139.4,736.1 139.7,736.1 140.0,736.0 140.3,736.2 140.6,736.1 140.8,735.8 141.1,735.6 141.4,734.8 141.7,734.0 142.0,733.5 142.2,732.9 142.5,732.2 142.8,731.6 143.1,731.4 143.4,731.5 143.6,731.9 143.9,732.2 144.2,732.8 144.5,733.8 144.7,734.6 145.0,735.1 145.3,735.8 145.6,736.5 145.9,736.8 146.1,737.3 146.4,737.3 146.7,737.5 147.0,737.7 147.3,737.3 147.5,737.2 147.8,737.4 148.1,737.2 148.4,737.2 148.7,737.0 148.9,737.0 149.2,737.5 149.5,737.3 149.8,737.0 150.1,737.1 150.3,737.2 150.6,737.3 150.9,737.3 151.2,737.2 151.4,737.3 151.7,737.4 152.0,737.1 152.3,737.1 152.6,737.3 152.8,737.5 153.1,737.4 153.4,737.3 153.7,737.1 154.0,737.2 154.2,737.1 154.5,736.8 154.8,736.8 155.1,736.8 155.4,736.9 155.6,736.9 155.9,736.8 156.2,736.7 156.5,736.5 156.8,736.2 157.0,735.3 157.3,733.2 157.6,729.7 157.9,722.8 158.1,711.9 158.4,696.4 158.7,676.3 159.0,653.6 159.3,632.0 159.5,615.7 159.8,609.7 160.1,619.5 160.4,634.7 160.7,653.3 160.9,672.0 161.2,688.8 161.5,702.0 161.8,711.9 162.1,718.4 162.3,722.5 162.6,724.8 162.9,725.9 163.2,726.0 163.4,725.2 163.7,723.7 164.0,721.6 164.3,719.5 164.6,717.5 164.8,716.6 165.1,716.8 165.4,718.5 165.7,721.2 166.0,724.4 166.2,727.5 166.5,729.9 166.8,731.9 167.1,733.5 167.4,734.5 167.6,735.1 167.9,735.4 168.2,735.8 168.5,736.1 168.8,736.3 169.0,736.4 169.3,736.7 169.6,736.8 169.9,736.9 170.1,737.0 170.4,737.0 170.7,737.3 171.0,737.6 171.3,737.6 171.5,737.7 171.8,737.8 172.1,737.6 172.4,737.9 172.7,737.6 172.9,737.4 173.2,737.2 173.5,737.3 173.8,737.2 174.1,737.4 174.3,737.5 174.6,737.4 174.9,737.3 175.2,737.5 175.5,737.5 175.7,737.4 176.0,737.0 176.3,736.5 176.6,735.5 176.8,734.1 177.1,732.1 177.4,729.3 177.7,726.3 178.0,723.6 178.2,721.5 178.5,720.5 178.8,721.3 179.1,723.6 179.4,726.5 179.6,729.7 179.9,732.1 180.2,734.2 180.5,735.6 180.8,736.3 181.0,736.8 181.3,736.7 181.6,736.5 181.9,736.3 182.2,735.0 182.4,732.6 182.7,728.8 183.0,723.6 183.3,718.5 183.5,715.5 183.8,716.0 184.1,719.9 184.4,725.0 184.7,729.7 184.9,733.2 185.2,735.6 185.5,736.5 185.8,737.1 186.1,737.3 186.3,737.5 186.6,737.4 186.9,737.5 187.2,737.3 187.5,737.3 187.7,737.4 188.0,737.5 188.3,737.3 188.6,737.4 188.8,737.3 189.1,737.4 189.4,737.2 189.7,737.2 190.0,737.0 190.2,737.0 190.5,737.2 190.8,737.4 191.1,737.3 191.4,737.3 191.6,737.2 191.9,737.5 192.2,737.7 192.5,737.4 192.8,737.3 193.0,737.3 193.3,737.4 193.6,737.5 193.9,737.5 194.2,737.3 194.4,737.6 194.7,737.5 195.0,737.6 195.3,737.5 195.5,737.5 195.8,737.3 196.1,737.4 196.4,737.2 196.7,737.1 196.9,736.9 197.2,736.9 197.5,737.1 197.8,737.1 198.1,737.0 198.3,737.0 198.6,737.0 198.9,736.8 199.2,736.1 199.5,735.2 199.7,734.7 200.0,733.6 200.3,732.6 200.6,731.7 200.9,731.4 201.1,732.1 201.4,732.9 201.7,733.8 202.0,734.7 202.2,735.7 202.5,736.6 202.8,736.6 203.1,736.4 203.4,735.7 203.6,734.2 203.9,731.8 204.2,728.7 204.5,724.6 204.8,720.6 205.0,716.7 205.3,714.2 205.6,714.0 205.9,716.1 206.2,719.5 206.4,723.5 206.7,726.8 207.0,729.4 207.3,730.4 207.6,730.0 207.8,727.9 208.1,724.7 208.4,720.7 208.7,715.9 208.9,711.8 209.2,709.2 209.5,708.4 209.8,709.8 210.1,713.1 210.3,717.3 210.6,722.2 210.9,726.5 211.2,729.9 211.5,732.4 211.7,734.3 212.0,735.4 212.3,736.3 212.6,736.4 212.9,736.4 213.1,736.8 213.4,736.7 213.7,736.9 214.0,737.0 214.2,736.9 214.5,737.1 214.8,737.2 215.1,737.1 215.4,736.9 215.6,736.6 215.9,736.8 216.2,737.0 216.5,736.8 216.8,736.7 217.0,736.5 217.3,736.2 217.6,735.7 217.9,734.7 218.2,733.1 218.4,730.9 218.7,728.1 219.0,724.7 219.3,721.1 219.6,717.6 219.8,715.1 220.1,714.0 220.4,716.0 220.7,718.5 220.9,721.4 221.2,724.4 221.5,727.1 221.8,729.4 222.1,731.3 222.3,732.2 222.6,732.0 222.9,731.1 223.2,730.2 223.5,728.9 223.7,728.1 224.0,728.4 224.3,728.5 224.6,729.0 224.9,729.3 225.1,729.2 225.4,729.4 225.7,729.2 226.0,729.5 226.3,729.5 226.5,729.8 226.8,729.4 227.1,729.2 227.4,728.8 227.6,728.8 227.9,728.4 228.2,728.1 228.5,727.7 228.8,727.5 229.0,727.4 229.3,727.6 229.6,727.5 229.9,727.0 230.2,727.1 230.4,727.2 230.7,727.5 231.0,727.6 231.3,727.3 231.6,727.3 231.8,727.0 232.1,727.1 232.4,726.7 232.7,725.8 233.0,725.5 233.2,728.2 233.5,730.3 233.8,732.9 234.1,735.3 234.3,736.0 234.6,736.4 234.9,736.6 235.2,737.0 235.5,737.2 235.7,737.0 236.0,737.3 236.3,737.0 236.6,737.1 236.9,737.0 237.1,736.8 237.4,736.5 237.7,736.1 238.0,734.8 238.3,732.8 238.5,728.0 238.8,718.5 239.1,702.3 239.4,677.7 239.6,645.5 239.9,609.5 240.2,576.7 240.5,556.4 240.8,564.4 241.0,591.2 241.3,622.5 241.6,654.0 241.9,681.3 242.2,701.9 242.4,716.0 242.7,724.4 243.0,729.1 243.3,731.6 243.6,733.1 243.8,734.2 244.1,734.9 244.4,735.3 244.7,735.4 245.0,735.4 245.2,735.4 245.5,735.2 245.8,735.3 246.1,735.1 246.3,735.1 246.6,735.2 246.9,735.3 247.2,735.2 247.5,735.3 247.7,735.2 248.0,735.6 248.3,735.4 248.6,735.0 248.9,734.5 249.1,733.8 249.4,732.2 249.7,729.6 250.0,725.3 250.3,720.8 250.5,716.0 250.8,712.3 251.1,710.7 251.4,711.9 251.7,715.3 251.9,720.3 252.2,724.4 252.5,728.1 252.8,730.1 253.0,730.9 253.3,731.4 253.6,730.5 253.9,729.2 254.2,727.6 254.4,724.8 254.7,722.3 255.0,720.5 255.3,719.5 255.6,720.0 255.8,721.6 256.1,723.7 256.4,725.9 256.7,727.7 257.0,728.2 257.2,727.0 257.5,723.3 257.8,717.7 258.1,709.8 258.3,699.2 258.6,685.9 258.9,671.6 259.2,656.8 259.5,643.5 259.7,633.1 260.0,627.1 260.3,629.1 260.6,636.9 260.9,646.9 261.1,658.3 261.4,670.3 261.7,681.4 262.0,691.0 262.3,698.1 262.5,701.6 262.8,702.5 263.1,700.9 263.4,697.8 263.7,694.3 263.9,692.2 264.2,692.1 264.5,695.5 264.8,700.6 265.0,705.9 265.3,710.6 265.6,714.4 265.9,716.4 266.2,717.0 266.4,716.6 266.7,715.3 267.0,713.6 267.3,712.0 267.6,710.9 267.8,710.9 268.1,711.4 268.4,712.8 268.7,715.0 269.0,717.1 269.2,719.6 269.5,722.1 269.8,724.6 270.1,726.4 270.4,727.9 270.6,729.4 270.9,730.6 271.2,731.3 271.5,731.5 271.7,731.7 272.0,731.9 272.3,732.0 272.6,731.9 272.9,732.3 273.1,732.5 273.4,732.2 273.7,731.7 274.0,731.7 274.3,731.5 274.5,731.4 274.8,731.0 275.1,730.9 275.4,731.2 275.7,731.3 275.9,731.4 276.2,731.9 276.5,732.2 276.8,732.6 277.1,732.3 277.3,732.5 277.6,732.6 277.9,732.8 278.2,732.3 278.4,731.9 278.7,732.0 279.0,732.3 279.3,732.6 279.6,732.4 279.8,731.5 280.1,731.7 280.4,731.7 280.7,732.2 281.0,732.6 281.2,732.6 281.5,732.9 281.8,733.4 282.1,733.6 282.4,733.8 282.6,733.6 282.9,733.7 283.2,733.2 283.5,733.0 283.7,733.2 284.0,733.4 284.3,733.0 284.6,732.8 284.9,732.4 285.1,732.6 285.4,732.8 285.7,732.9 286.0,733.0 286.3,733.7 286.5,734.1 286.8,734.1 287.1,734.1 287.4,734.0 287.7,734.1 287.9,734.3 288.2,734.3 288.5,733.8 288.8,733.8 289.1,733.4 289.3,733.5 289.6,733.3 289.9,733.3 290.2,732.3 290.4,732.5 290.7,732.8 291.0,733.1 291.3,732.8 291.6,733.1 291.8,732.6 292.1,732.7 292.4,732.5 292.7,732.2 293.0,732.1 293.2,732.0 293.5,731.6 293.8,732.0 294.1,731.8 294.4,732.2 294.6,732.3 294.9,732.0 295.2,731.7 295.5,731.6 295.8,731.5 296.0,731.7 296.3,731.9 296.6,731.9 296.9,732.5 297.1,732.9 297.4,732.9 297.7,732.6 298.0,732.9 298.3,733.1 298.5,732.3 298.8,731.9 299.1,731.5 299.4,731.5 299.7,732.0 299.9,732.1 300.2,732.0 300.5,732.1 300.8,732.4 301.1,732.3 301.3,732.1 301.6,731.6 301.9,731.0 302.2,731.3 302.5,731.3 302.7,731.2 303.0,731.2 303.3,731.5 303.6,731.9 303.8,732.3 304.1,732.5 304.4,732.0 304.7,731.2 305.0,729.6 305.2,727.2 305.5,723.0 305.8,717.7 306.1,710.9 306.4,703.2 306.6,695.9 306.9,688.9 307.2,684.7 307.5,685.1 307.8,689.6 308.0,695.3 308.3,701.5 308.6,707.2 308.9,712.9 309.1,717.3 309.4,720.6 309.7,723.4 310.0,725.0 310.3,726.4 310.5,727.1 310.8,727.6 311.1,728.0 311.4,728.1 311.7,728.6 311.9,728.6 312.2,728.7 312.5,729.3 312.8,729.8 313.1,730.0 313.3,730.1 313.6,730.5 313.9,730.6 314.2,730.4 314.5,730.2 314.7,729.9 315.0,729.3 315.3,727.5 315.6,723.9 315.8,719.7 316.1,714.1 316.4,707.0 316.7,699.1 317.0,692.2 317.2,688.2 317.5,688.4 317.8,692.4 318.1,699.1 318.4,706.7 318.6,714.3 318.9,720.0 319.2,724.7 319.5,727.6 319.8,729.5 320.0,729.8 320.3,730.1 320.6,730.2 320.9,730.7 321.2,730.1 321.4,730.5 321.7,730.5 322.0,731.2 322.3,731.1 322.5,731.8 322.8,731.8 323.1,732.8 323.4,732.8 323.7,732.9 323.9,732.4 324.2,732.9 324.5,732.9 324.8,732.9 325.1,732.8 325.3,732.8 325.6,732.7 325.9,733.0 326.2,732.4 326.5,732.5 326.7,732.4 327.0,731.8 327.3,731.5 327.6,730.7 327.9,729.7 328.1,728.2 328.4,726.0 328.7,723.5 329.0,721.3 329.2,718.7 329.5,717.0 329.8,716.3 330.1,717.7 330.4,719.6 330.6,722.3 330.9,724.7 331.2,727.2 331.5,729.2 331.8,730.5 332.0,731.3 332.3,732.1 332.6,732.3 332.9,732.2 333.2,732.0 333.4,731.7 333.7,731.7 334.0,731.4 334.3,731.4 334.5,731.5 334.8,731.1 335.1,731.2 335.4,731.2 335.7,730.5 335.9,730.3 336.2,728.7 336.5,726.7 336.8,724.0 337.1,719.6 337.3,713.4 337.6,705.4 337.9,695.9 338.2,685.2 338.5,675.0 338.7,666.5 339.0,661.1 339.3,661.4 339.6,667.8 339.9,675.4 340.1,683.7 340.4,691.9 340.7,699.8 341.0,706.8 341.2,711.7 341.5,715.7 341.8,718.6 342.1,720.8 342.4,722.3 342.6,723.8 342.9,724.6 343.2,725.2 343.5,725.2 343.8,725.5 344.0,725.7 344.3,725.8 344.6,724.9 344.9,724.3 345.2,723.3 345.4,722.4 345.7,720.8 346.0,719.5 346.3,718.2 346.6,716.6 346.8,715.7 347.1,714.5 347.4,713.0 347.7,711.4 347.9,708.1 348.2,704.5 348.5,700.2 348.8,694.6 349.1,688.7 349.3,683.5 349.6,678.8 349.9,675.8 350.2,674.9 350.5,678.7 350.7,683.3 351.0,688.4 351.3,693.6 351.6,698.7 351.9,703.5 352.1,707.6 352.4,711.3 352.7,713.7 353.0,714.7 353.3,715.7 353.5,716.2 353.8,716.6 354.1,716.5 354.4,716.2 354.6,716.5 354.9,717.3 355.2,717.7 355.5,718.7 355.8,720.2 356.0,721.6 356.3,722.7 356.6,724.2 356.9,724.9 357.2,726.0 357.4,726.9 357.7,727.2 358.0,727.6 358.3,727.6 358.6,728.1 358.8,728.1 359.1,728.1 359.4,727.6 359.7,728.2 359.9,728.2 360.2,728.7 360.5,728.5 360.8,728.7 361.1,729.2 361.3,729.6 361.6,729.7 361.9,730.0 362.2,729.9 362.5,729.8 362.7,730.0 363.0,729.4 363.3,729.3 363.6,729.1 363.9,728.9 364.1,729.2 364.4,729.5 364.7,729.7 365.0,729.9 365.3,729.3 365.5,729.4 365.8,729.3 366.1,729.6 366.4,729.7 366.6,729.6 366.9,729.6 367.2,729.7 367.5,729.8 367.8,729.7 368.0,729.3 368.3,729.5 368.6,729.3 368.9,729.1 369.2,729.6 369.4,729.7 369.7,729.6 370.0,729.3 370.3,728.8 370.6,729.3 370.8,729.3 371.1,728.9 371.4,729.0 371.7,728.8 372.0,728.9 372.2,729.2 372.5,728.6 372.8,727.5 373.1,726.7 373.3,725.5 373.6,724.6 373.9,723.6 374.2,721.7 374.5,720.6 374.7,719.9 375.0,718.4 375.3,717.8 375.6,717.4 375.9,717.4 376.1,718.1 376.4,718.9 376.7,719.7 377.0,721.6 377.3,722.7 377.5,724.2 377.8,725.3 378.1,726.4 378.4,727.0 378.7,727.8 378.9,727.7 379.2,728.2 379.5,728.6 379.8,729.3 380.0,729.6 380.3,729.5 380.6,729.4 380.9,729.4 381.2,729.6 381.4,729.7 381.7,729.5 382.0,729.5 382.3,729.4 382.6,728.9 382.8,729.0 383.1,729.1 383.4,729.0 383.7,728.9 384.0,729.1 384.2,729.0 384.5,729.2 384.8,729.1 385.1,728.6 385.3,728.1 385.6,727.4 385.9,726.4 386.2,725.2 386.5,723.6 386.7,721.5 387.0,720.0 387.3,718.1 387.6,716.3 387.9,714.5 388.1,713.0 388.4,711.9 388.7,711.4 389.0,711.4 389.3,713.1 389.5,714.5 389.8,716.7 390.1,718.6 390.4,720.7 390.7,723.0 390.9,724.7 391.2,725.9 391.5,727.4 391.8,728.3 392.0,728.5 392.3,728.8 392.6,728.4 392.9,728.1 393.2,727.1 393.4,725.5 393.7,723.1 394.0,719.9 394.3,715.4 394.6,710.2 394.8,704.7 395.1,699.9 395.4,695.8 395.7,693.6 396.0,693.8 396.2,696.6 396.5,701.2 396.8,706.3 397.1,711.1 397.4,714.5 397.6,716.9 397.9,717.4 398.2,716.4 398.5,713.2 398.7,708.4 399.0,703.2 399.3,698.3 399.6,694.3 399.9,692.4 400.1,692.4 400.4,694.8 400.7,699.8 401.0,705.3 401.3,711.0 401.5,715.7 401.8,720.0 402.1,723.2 402.4,726.0 402.7,727.0 402.9,727.4 403.2,728.3 403.5,728.6 403.8,728.4 404.1,728.2 404.3,727.2 404.6,726.9 404.9,726.8 405.2,726.3 405.4,726.0 405.7,724.5 406.0,723.8 406.3,723.3 406.6,722.9 406.8,722.6 407.1,722.3 407.4,722.3 407.7,722.8 408.0,723.4 408.2,723.4 408.5,723.9 408.8,724.2 409.1,724.6 409.4,725.0 409.6,725.5 409.9,725.9 410.2,726.5 410.5,726.6 410.7,726.7 411.0,727.2 411.3,726.5 411.6,725.6 411.9,724.9 412.1,724.4 412.4,724.3 412.7,724.7 413.0,725.4 413.3,726.5 413.5,727.7 413.8,728.4 414.1,729.1 414.4,729.2 414.7,729.7 414.9,729.2 415.2,728.1 415.5,726.9 415.8,725.6 416.1,723.8 416.3,722.5 416.6,721.7 416.9,722.5 417.2,723.9 417.4,724.8 417.7,726.3 418.0,728.0 418.3,728.8 418.6,730.0 418.8,730.0 419.1,730.0 419.4,730.8 419.7,731.0 420.0,730.9 420.2,731.7 420.5,731.6 420.8,731.8 421.1,731.8 421.4,731.5 421.6,731.8 421.9,732.0 422.2,731.6 422.5,730.9 422.8,730.5 423.0,730.2 423.3,729.2 423.6,727.7 423.9,724.7 424.1,722.3 424.4,719.6 424.7,716.0 425.0,712.4 425.3,710.2 425.5,709.7 425.8,710.7 426.1,712.5 426.4,715.6 426.7,719.0 426.9,722.6 427.2,724.7 427.5,726.6 427.8,727.7 428.1,728.1 428.3,728.4 428.6,728.2 428.9,726.7 429.2,723.9 429.5,719.6 429.7,713.8 430.0,707.6 430.3,701.0 430.6,695.4 430.8,692.2 431.1,692.7 431.4,695.4 431.7,699.4 432.0,703.3 432.2,704.9 432.5,704.9 432.8,701.8 433.1,696.5 433.4,689.9 433.6,682.1 433.9,674.7 434.2,668.1 434.5,663.2 434.8,660.7 435.0,662.0 435.3,665.8 435.6,669.8 435.9,675.0 436.1,680.4 436.4,685.5 436.7,690.6 437.0,695.2 437.3,699.0 437.5,701.8 437.8,703.6 438.1,704.7 438.4,705.9 438.7,706.0 438.9,706.1 439.2,706.3 439.5,706.7 439.8,707.4 440.1,708.0 440.3,709.0 440.6,710.2 440.9,711.6 441.2,713.1 441.5,715.0 441.7,716.2 442.0,717.7 442.3,719.4 442.6,721.0 442.8,722.3 443.1,723.5 443.4,724.9 443.7,725.9 444.0,727.4 444.2,728.2 444.5,729.4 444.8,730.8 445.1,731.1 445.4,731.6 445.6,732.2 445.9,732.4 446.2,732.7 446.5,732.5 446.8,732.3 447.0,732.4 447.3,732.5 447.6,732.9 447.9,732.9 448.2,732.9 448.4,733.0 448.7,733.5 449.0,733.5 449.3,733.9 449.5,734.2 449.8,734.3 450.1,734.8 450.4,734.3 450.7,734.0 450.9,734.0 451.2,733.2 451.5,732.8 451.8,733.0 452.1,733.0 452.3,733.6 452.6,734.0 452.9,734.1 453.2,734.6 453.5,734.9 453.7,734.7 454.0,734.7 454.3,735.0 454.6,734.9 454.9,734.9 455.1,734.9 455.4,734.6 455.7,734.9 456.0,734.6 456.2,734.2 456.5,733.9 456.8,733.8 457.1,734.0 457.4,734.3 457.6,733.9 457.9,734.0 458.2,734.1 458.5,734.4 458.8,734.3 459.0,734.0 459.3,734.1 459.6,734.6 459.9,734.5 460.2,734.8 460.4,734.7 460.7,734.2 461.0,734.4 461.3,734.6 461.5,734.6 461.8,734.5 462.1,734.5 462.4,734.1 462.7,734.4 462.9,734.5 463.2,734.3 463.5,734.3 463.8,734.4 464.1,734.4 464.3,734.5 464.6,734.0 464.9,733.7 465.2,733.3 465.5,732.8 465.7,731.9 466.0,730.7 466.3,729.6 466.6,728.5 466.9,727.4 467.1,726.4 467.4,726.4 467.7,727.1 468.0,728.5 468.2,729.3 468.5,730.2 468.8,731.5 469.1,732.3 469.4,733.1 469.6,733.6 469.9,733.5 470.2,733.6 470.5,734.1 470.8,734.2 471.0,734.6 471.3,734.7 471.6,735.0 471.9,735.1 472.2,735.3 472.4,734.8 472.7,734.6 473.0,734.5 473.3,734.2 473.6,734.2 473.8,734.8 474.1,734.2 474.4,734.2 474.7,734.0 474.9,734.2 475.2,734.3 475.5,734.4 475.8,734.2 476.1,734.8 476.3,735.0 476.6,735.1 476.9,734.7 477.2,734.3 477.5,734.3 477.7,734.4 478.0,734.2 478.3,733.9 478.6,733.7 478.9,733.3 479.1,732.9 479.4,731.7 479.7,730.4 480.0,728.7 480.3,727.3 480.5,726.2 480.8,724.7 481.1,723.5 481.4,723.2 481.6,723.8 481.9,724.3 482.2,725.4 482.5,726.3 482.8,727.8 483.0,728.8 483.3,729.5 483.6,730.3 483.9,731.6 484.2,732.0 484.4,732.3 484.7,732.3 485.0,732.4 485.3,732.8 485.6,733.1 485.8,733.3 486.1,733.3 486.4,733.3 486.7,733.6 486.9,733.6 487.2,733.8 487.5,733.4 487.8,733.5 488.1,733.7 488.3,733.8 488.6,733.9 488.9,733.9 489.2,734.0 489.5,734.3 489.7,734.1 490.0,734.4 490.3,734.6 490.6,734.6 490.9,734.5 491.1,734.7 491.4,734.7 491.7,734.9 492.0,735.1 492.3,735.1 492.5,735.4 492.8,735.8 493.1,736.0 493.4,736.3 493.6,736.1 493.9,736.1 494.2,736.2 494.5,736.1 494.8,736.0 495.0,735.6 495.3,735.4 495.6,735.6 495.9,735.6 496.2,735.9 496.4,735.5 496.7,735.4 497.0,735.5 497.3,735.5 497.6,735.2 497.8,735.1 498.1,734.7 498.4,735.1 498.7,734.5 499.0,734.4 499.2,734.3 499.5,734.1 499.8,734.2 500.1,734.2 500.3,733.5 500.6,732.8 500.9,731.8 501.2,730.3 501.5,728.9 501.7,726.7 502.0,724.8 502.3,723.1 502.6,721.6 502.9,720.5 503.1,719.9 503.4,720.4 503.7,721.3 504.0,722.6 504.3,723.9 504.5,725.4 504.8,726.8 505.1,728.0 505.4,729.0 505.7,730.3 505.9,731.3 506.2,731.8 506.5,731.9 506.8,732.5 507.0,732.9 507.3,733.0 507.6,733.0 507.9,732.8 508.2,732.5 508.4,731.5 508.7,730.4 509.0,729.3 509.3,728.6 509.6,727.2 509.8,726.7 510.1,726.1 510.4,725.9 510.7,726.1 511.0,726.5 511.2,726.9 511.5,727.4 511.8,728.0 512.1,728.7 512.3,729.3 512.6,730.0 512.9,730.6 513.2,731.1 513.5,731.6 513.7,731.9 514.0,732.2 514.3,732.7 514.6,733.3 514.9,733.9 515.1,734.1 515.4,734.0 515.7,734.0 516.0,734.2 516.3,734.4 516.5,734.4 516.8,734.3 517.1,734.0 517.4,734.4 517.7,735.0 517.9,735.1 518.2,735.1 518.5,734.7 518.8,734.7 519.0,734.9 519.3,734.9 519.6,735.0 519.9,734.8 520.2,734.7 520.4,734.9 520.7,734.9 521.0,734.9 521.3,734.9 521.6,734.4 521.8,734.3 522.1,734.0 522.4,733.7 522.7,733.7 523.0,733.4 523.2,733.1 523.5,733.1 523.8,732.7 524.1,732.7 524.4,732.5 524.6,732.6 524.9,732.6 525.2,732.4 525.5,732.5 525.7,732.6 526.0,732.5 526.3,732.8 526.6,732.9 526.9,733.1 527.1,733.2 527.4,733.1 527.7,733.2 528.0,733.1 528.3,733.2 528.5,733.2 528.8,733.0 529.1,733.0 529.4,733.0 529.7,733.4 529.9,733.9 530.2,734.4 530.5,734.7 530.8,734.8 531.1,735.1 531.3,735.1 531.6,735.3 531.9,735.4 532.2,735.3 532.4,735.3 532.7,735.4 533.0,735.6 533.3,735.7 533.6,735.9 533.8,735.7 534.1,736.1 534.4,736.0 534.7,736.0 535.0,735.9 535.2,736.0 535.5,736.1 535.8,735.7 536.1,735.6 536.4,735.6 536.6,735.6 536.9,735.7 537.2,735.9 537.5,735.7 537.7,735.7 538.0,736.0 538.3,736.0 538.6,735.9 538.9,735.5 539.1,735.4 539.4,735.7 539.7,735.9 540.0,735.9 540.3,736.1 540.5,736.0 540.8,736.2 541.1,736.1 541.4,735.6 541.7,735.3 541.9,735.3 542.2,735.1 542.5,735.4 542.8,735.5 543.1,735.5 543.3,735.7 543.6,735.8 543.9,735.7 544.2,735.8 544.4,735.5 544.7,735.7 545.0,735.9 545.3,736.0 545.6,736.1 545.8,736.2 546.1,736.3 546.4,736.3 546.7,736.0 547.0,735.9 547.2,735.7 547.5,735.6 547.8,735.4 548.1,735.3 548.4,735.1 548.6,734.7 548.9,734.2 549.2,733.2 549.5,731.7 549.8,729.7 550.0,727.0 550.3,724.5 550.6,722.6 550.9,721.7 551.1,722.7 551.4,724.4 551.7,726.4 552.0,728.1 552.3,729.8 552.5,731.3 552.8,732.2 553.1,733.0 553.4,733.5 553.7,733.6 553.9,733.9 554.2,734.2 554.5,734.1 554.8,734.4 555.1,734.6 555.3,734.8 555.6,735.2 555.9,735.2 556.2,735.1 556.5,735.0 556.7,734.5 557.0,734.4 557.3,734.2 557.6,733.4 557.8,732.7 558.1,732.0 558.4,731.4 558.7,730.9 559.0,731.1 559.2,731.4 559.5,732.1 559.8,733.3 560.1,733.9 560.4,734.5 560.6,735.2 560.9,735.1 561.2,735.3 561.5,735.5 561.8,735.8 562.0,735.7 562.3,735.7 562.6,736.0 562.9,736.3 563.1,736.2 563.4,736.2 563.7,736.1 564.0,736.4 564.3,736.4 564.5,736.4 564.8,736.5 565.1,736.5 565.4,736.3 565.7,736.4 565.9,736.3 566.2,736.3 566.5,736.1 566.8,736.1 567.1,736.0 567.3,736.0 567.6,736.0 567.9,735.9 568.2,735.6 568.5,734.9 568.7,733.9 569.0,732.0 569.3,729.1 569.6,724.9 569.8,719.2 570.1,712.1 570.4,705.1 570.7,698.9 571.0,694.9 571.2,695.0 571.5,698.7 571.8,703.6 572.1,709.4 572.4,714.5 572.6,719.4 572.9,723.2 573.2,726.2 573.5,728.9 573.8,730.4 574.0,731.3 574.3,732.1 574.6,732.7 574.9,733.1 575.2,733.7 575.4,733.9 575.7,734.4 576.0,734.5 576.3,734.9 576.5,734.9 576.8,735.3 577.1,735.7 577.4,735.6 577.7,735.4 577.9,735.4 578.2,735.8 578.5,736.2 578.8,735.7 579.1,735.5 579.3,735.4 579.6,735.6 579.9,735.8 580.2,735.4 580.5,735.2 580.7,735.2 581.0,735.5 581.3,735.3 581.6,735.2 581.9,735.1 582.1,735.4 582.4,735.5 582.7,735.8 583.0,735.5 583.2,735.4 583.5,735.4 583.8,735.0 584.1,734.2 584.4,732.5 584.6,729.9 584.9,726.4 585.2,720.9 585.5,713.5 585.8,704.3 586.0,693.8 586.3,682.2 586.6,670.9 586.9,661.1 587.2,654.6 587.4,651.9 587.7,654.5 588.0,659.4 588.3,665.6 588.5,672.9 588.8,680.3 589.1,687.2 589.4,693.5 589.7,698.8 589.9,702.9 590.2,706.1 590.5,709.0 590.8,710.7 591.1,712.2 591.3,713.7 591.6,714.7 591.9,715.6 592.2,716.4 592.5,716.9 592.7,717.5 593.0,718.2 593.3,718.6 593.6,719.1 593.9,719.5 594.1,720.2 594.4,720.9 594.7,721.3 595.0,721.7 595.2,722.6 595.5,723.4 595.8,724.3 596.1,725.1 596.4,725.6 596.6,726.3 596.9,726.6 597.2,726.5 597.5,726.7 597.8,726.6 598.0,726.5 598.3,726.8 598.6,727.2 598.9,727.8 599.2,728.2 599.4,728.5 599.7,729.0 600.0,729.5 600.3,729.9 600.6,729.8 600.8,729.8 601.1,730.0 601.4,730.2 601.7,730.2 601.9,730.3 602.2,730.5 602.5,730.4 602.8,730.7 603.1,730.8 603.3,731.4 603.6,731.6 603.9,732.0 604.2,732.0 604.5,732.7 604.7,732.6 605.0,732.9 605.3,733.0 605.6,733.3 605.9,733.1 606.1,733.4 606.4,733.2 606.7,733.4 607.0,733.2 607.2,733.4 607.5,733.0 607.8,733.1 608.1,733.5 608.4,733.3 608.6,733.4 608.9,733.4 609.2,733.2 609.5,733.2 609.8,732.9 610.0,732.0 610.3,731.5 610.6,730.8 610.9,729.8 611.2,729.3 611.4,728.5 611.7,728.2 612.0,727.7 612.3,727.6 612.6,727.7 612.8,728.3 613.1,728.8 613.4,729.3 613.7,729.7 613.9,730.1 614.2,730.7 614.5,731.1 614.8,731.2 615.1,731.4 615.3,731.7 615.6,732.0 615.9,732.0 616.2,732.2 616.5,732.3 616.7,732.3 617.0,732.5 617.3,732.5 617.6,732.6 617.9,732.9 618.1,733.1 618.4,733.3 618.7,733.3 619.0,733.4 619.3,733.4 619.5,733.4 619.8,733.4 620.1,733.2 620.4,733.2 620.6,733.2 620.9,732.9 621.2,733.0 621.5,732.8 621.8,732.8 622.0,733.4 622.3,733.5 622.6,733.4 622.9,733.7 623.2,733.8 623.4,733.9 623.7,733.8 624.0,733.4 624.3,733.4 624.6,733.7 624.8,733.6 625.1,733.6 625.4,733.7 625.7,733.8 626.0,734.4 626.2,734.5 626.5,734.4 626.8,734.5 627.1,734.3 627.3,734.4 627.6,734.5 627.9,734.3 628.2,734.1 628.5,734.1 628.7,734.1 629.0,734.2 629.3,734.0 629.6,734.0 629.9,733.8 630.1,733.7 630.4,733.7 630.7,733.9 631.0,733.7 631.3,733.6 631.5,733.4 631.8,733.5 632.1,733.7 632.4,733.7 632.6,733.8 632.9,733.7 633.2,733.6 633.5,733.7 633.8,733.8 634.0,733.6 634.3,733.5 634.6,733.5 634.9,733.5 635.2,733.7 635.4,733.2 635.7,733.0 636.0,732.7 636.3,732.5 636.6,732.2 636.8,732.5 637.1,732.6 637.4,733.1 637.7,733.0 638.0,733.3 638.2,733.5 638.5,733.6 638.8,733.4 639.1,733.5 639.3,733.3 639.6,733.5 639.9,733.7 640.2,734.1 640.5,734.4 640.7,734.7 641.0,734.7 641.3,735.0 641.6,734.9 641.9,734.6 642.1,734.4 642.4,734.6 642.7,734.6 643.0,734.6 643.3,734.4 643.5,734.7 643.8,735.3 644.1,735.2 644.4,735.1 644.7,735.2 644.9,735.4 645.2,735.7 645.5,735.5 645.8,735.4 646.0,735.6 646.3,735.7 646.6,735.7 646.9,735.6 647.2,735.6 647.4,735.9 647.7,735.8 648.0,735.9 648.3,735.9 648.6,735.9 648.8,736.1 649.1,736.1 649.4,736.1 649.7,736.3 650.0,736.5 650.2,736.6 650.5,736.9 650.8,737.1 651.1,737.0 651.4,737.1 651.6,737.3 651.9,737.3 652.2,737.1 652.5,737.1 652.7,736.9 653.0,737.0 653.3,737.1 653.6,737.2 653.9,737.2 654.1,737.5 654.4,737.8 654.7,737.6 655.0,737.6 655.3,737.6 655.5,737.5 655.8,737.7 656.1,737.5 656.4,737.6 656.7,737.8 656.9,737.6 657.2,737.9 657.5,738.0 657.8,738.0 658.0,738.0 658.3,737.9 658.6,738.1 658.9,738.1 659.2,738.2 659.4,738.2 659.7,738.3 660.0,738.6 660.3,738.7 660.6,738.5 660.8,738.5 661.1,738.5 661.4,738.5 661.7,738.5 662.0,738.4 662.2,738.5 662.5,738.5 662.8,738.5 663.1,738.5 663.4,738.6 663.6,738.6 663.9,738.7 664.2,738.7 664.5,738.8 664.7,738.9 665.0,738.9 665.3,739.1 665.6,739.1 665.9,739.2 666.1,739.2 666.4,739.3 666.7,739.1 667.0,739.1 667.3,738.9 667.5,738.9 667.8,738.7 668.1,738.6 668.4,738.5 668.7,738.6 668.9,738.6" fill="none" stroke="#ff1010" stroke-width="1.2" stroke-linejoin="round"/>
<polyline points="58.5,731.2 58.8,731.5 59.1,732.5 59.3,732.6 59.6,733.4 59.9,733.8 60.2,734.3 60.5,734.2 60.7,734.9 61.0,734.6 61.3,735.1 61.6,734.9 61.8,735.3 62.1,735.6 62.4,736.0 62.7,735.8 63.0,735.9 63.2,736.2 63.5,736.4 63.8,736.3 64.1,736.3 64.4,736.3 64.6,736.5 64.9,736.7 65.2,736.9 65.5,737.2 65.8,737.4 66.0,737.4 66.3,737.4 66.6,737.3 66.9,737.3 67.2,737.3 67.4,737.1 67.7,737.3 68.0,737.2 68.3,737.1 68.5,736.9 68.8,736.8 69.1,736.9 69.4,737.0 69.7,736.7 69.9,736.8 70.2,737.0 70.5,737.0 70.8,736.9 71.1,736.7 71.3,736.5 71.6,736.7 71.9,736.7 72.2,736.9 72.5,737.1 72.7,737.3 73.0,737.2 73.3,737.1 73.6,737.1 73.9,737.0 74.1,736.9 74.4,736.9 74.7,736.7 75.0,736.7 75.2,736.9 75.5,737.1 75.8,737.1 76.1,737.1 76.4,736.9 76.6,736.9 76.9,737.0 77.2,737.3 77.5,737.5 77.8,737.5 78.0,737.6 78.3,737.8 78.6,738.3 78.9,738.2 79.2,738.0 79.4,738.0 79.7,738.0 80.0,738.0 80.3,738.0 80.6,737.9 80.8,737.8 81.1,737.9 81.4,737.9 81.7,738.1 81.9,738.1 82.2,738.1 82.5,738.2 82.8,738.0 83.1,738.0 83.3,738.0 83.6,737.9 83.9,737.9 84.2,737.9 84.5,738.1 84.7,738.2 85.0,738.4 85.3,738.3 85.6,738.2 85.9,738.2 86.1,738.2 86.4,738.1 86.7,738.1 87.0,738.0 87.2,738.0 87.5,738.1 87.8,738.2 88.1,738.2 88.4,738.4 88.6,738.3 88.9,738.2 89.2,738.4 89.5,738.2 89.8,738.3 90.0,738.2 90.3,738.2 90.6,738.0 90.9,737.7 91.2,737.0 91.4,735.7 91.7,732.9 92.0,728.8 92.3,723.3 92.6,716.3 92.8,708.5 93.1,701.4 93.4,696.3 93.7,695.3 93.9,699.2 94.2,703.9 94.5,709.7 94.8,715.4 95.1,720.3 95.3,724.1 95.6,727.1 95.9,729.3 96.2,730.7 96.5,731.7 96.7,732.6 97.0,733.4 97.3,733.9 97.6,734.3 97.9,734.6 98.1,735.1 98.4,735.5 98.7,735.7 99.0,735.9 99.3,736.1 99.5,736.4 99.8,736.8 100.1,737.0 100.4,736.9 100.6,737.0 100.9,737.2 101.2,737.4 101.5,737.4 101.8,737.3 102.0,737.6 102.3,737.8 102.6,738.0 102.9,738.0 103.2,738.1 103.4,738.0 103.7,738.0 104.0,737.7 104.3,737.8 104.6,737.5 104.8,737.8 105.1,737.9 105.4,738.0 105.7,737.8 106.0,737.9 106.2,737.9 106.5,738.1 106.8,737.7 107.1,737.7 107.3,737.7 107.6,737.8 107.9,737.9 108.2,737.9 108.5,737.8 108.7,737.8 109.0,737.7 109.3,737.7 109.6,737.5 109.9,736.9 110.1,736.1 110.4,734.7 110.7,732.3 111.0,729.1 111.3,725.3 111.5,721.9 111.8,719.6 112.1,719.6 112.4,721.4 112.6,723.8 112.9,726.2 113.2,728.6 113.5,730.7 113.8,732.1 114.0,733.0 114.3,733.5 114.6,734.1 114.9,734.7 115.2,735.1 115.4,735.1 115.7,735.0 116.0,734.1 116.3,733.4 116.6,732.3 116.8,730.7 117.1,729.5 117.4,728.8 117.7,728.5 118.0,729.4 118.2,730.6 118.5,731.8 118.8,733.3 119.1,734.3 119.3,734.9 119.6,735.4 119.9,735.9 120.2,736.0 120.5,735.7 120.7,735.1 121.0,734.3 121.3,732.9 121.6,731.3 121.9,729.5 122.1,728.5 122.4,728.9 122.7,730.0 123.0,731.8 123.3,733.6 123.5,735.0 123.8,736.1 124.1,736.9 124.4,736.9 124.7,736.8 124.9,736.3 125.2,735.0 125.5,733.4 125.8,731.4 126.0,729.3 126.3,728.2 126.6,728.3 126.9,729.7 127.2,731.8 127.4,733.7 127.7,735.1 128.0,736.4 128.3,736.8 128.6,736.9 128.8,737.2 129.1,736.8 129.4,736.6 129.7,736.1 130.0,735.1 130.2,733.6 130.5,730.8 130.8,725.2 131.1,716.2 131.4,702.0 131.6,680.9 131.9,652.1 132.2,616.3 132.5,575.1 132.7,532.9 133.0,494.4 133.3,466.0 133.6,453.6 133.9,470.4 134.1,498.6 134.4,532.8 134.7,569.6 135.0,605.4 135.3,637.5 135.5,664.0 135.8,684.9 136.1,699.9 136.4,710.3 136.7,717.2 136.9,722.1 137.2,725.3 137.5,727.8 137.8,729.5 138.0,730.8 138.3,731.9 138.6,732.9 138.9,733.6 139.2,734.0 139.4,734.3 139.7,734.3 140.0,734.1 140.3,733.4 140.6,732.4 140.8,731.5 141.1,730.2 141.4,728.7 141.7,727.7 142.0,726.8 142.2,726.8 142.5,727.1 142.8,727.8 143.1,729.3 143.4,731.1 143.6,732.2 143.9,733.3 144.2,734.0 144.5,734.2 144.7,733.9 145.0,733.3 145.3,732.2 145.6,731.4 145.9,731.0 146.1,731.2 146.4,731.8 146.7,733.0 147.0,733.8 147.3,734.9 147.5,735.4 147.8,735.5 148.1,735.1 148.4,734.3 148.7,733.6 148.9,732.8 149.2,732.6 149.5,732.7 149.8,733.3 150.1,734.1 150.3,735.2 150.6,736.0 150.9,736.5 151.2,737.0 151.4,737.6 151.7,738.0 152.0,738.4 152.3,738.4 152.6,738.4 152.8,738.4 153.1,738.4 153.4,738.0 153.7,737.9 154.0,737.6 154.2,737.3 154.5,737.1 154.8,737.1 155.1,737.1 155.4,736.9 155.6,736.6 155.9,736.4 156.2,735.8 156.5,734.6 156.8,732.2 157.0,727.4 157.3,719.5 157.6,706.9 157.9,687.9 158.1,662.6 158.4,631.6 158.7,598.2 159.0,566.7 159.3,542.9 159.5,532.1 159.8,542.6 160.1,563.2 160.4,588.9 160.7,616.6 160.9,643.4 161.2,666.5 161.5,684.6 161.8,697.9 162.1,706.4 162.3,711.9 162.6,714.9 162.9,716.0 163.2,715.9 163.4,714.7 163.7,712.7 164.0,711.1 164.3,710.3 164.6,710.7 164.8,713.2 165.1,716.1 165.4,719.3 165.7,722.6 166.0,725.5 166.2,727.9 166.5,729.9 166.8,731.3 167.1,732.6 167.4,733.4 167.6,734.2 167.9,734.6 168.2,735.1 168.5,735.3 168.8,735.7 169.0,735.6 169.3,736.0 169.6,736.1 169.9,736.4 170.1,736.2 170.4,736.5 170.7,736.6 171.0,737.0 171.3,737.1 171.5,737.1 171.8,737.1 172.1,737.1 172.4,736.7 172.7,736.5 172.9,735.9 173.2,735.4 173.5,734.3 173.8,732.2 174.1,729.0 174.3,724.9 174.6,720.2 174.9,714.9 175.2,709.3 175.5,705.2 175.7,703.1 176.0,703.0 176.3,704.6 176.6,706.4 176.8,707.7 177.1,707.9 177.4,706.5 177.7,704.4 178.0,702.8 178.2,702.2 178.5,703.8 178.8,707.5 179.1,712.5 179.4,717.9 179.6,723.0 179.9,727.5 180.2,730.8 180.5,733.0 180.8,734.5 181.0,735.3 181.3,735.2 181.6,734.5 181.9,732.6 182.2,730.0 182.4,726.1 182.7,721.6 183.0,717.4 183.3,715.1 183.5,715.0 183.8,717.4 184.1,721.4 184.4,725.7 184.7,729.6 184.9,732.8 185.2,734.6 185.5,735.9 185.8,736.6 186.1,736.8 186.3,737.2 186.6,737.1 186.9,737.1 187.2,737.3 187.5,737.3 187.7,737.1 188.0,737.0 188.3,736.8 188.6,737.0 188.8,737.1 189.1,737.0 189.4,737.1 189.7,737.1 190.0,737.2 190.2,737.3 190.5,737.5 190.8,737.8 191.1,737.8 191.4,737.9 191.6,738.0 191.9,738.2 192.2,738.2 192.5,738.1 192.8,737.8 193.0,737.9 193.3,737.7 193.6,737.6 193.9,737.4 194.2,737.5 194.4,737.5 194.7,737.7 195.0,737.8 195.3,737.9 195.5,738.1 195.8,738.4 196.1,738.2 196.4,738.5 196.7,738.6 196.9,738.6 197.2,738.6 197.5,738.3 197.8,737.7 198.1,736.9 198.3,735.0 198.6,732.3 198.9,729.0 199.2,724.7 199.5,721.1 199.7,718.3 200.0,717.7 200.3,719.6 200.6,723.1 200.9,727.2 201.1,730.8 201.4,733.7 201.7,735.6 202.0,736.8 202.2,737.2 202.5,737.2 202.8,736.7 203.1,736.0 203.4,734.2 203.6,730.8 203.9,725.8 204.2,718.9 204.5,710.6 204.8,702.8 205.0,696.9 205.3,695.8 205.6,701.0 205.9,707.2 206.2,713.6 206.4,719.2 206.7,723.0 207.0,724.6 207.3,723.5 207.6,719.5 207.8,712.3 208.1,702.2 208.4,690.8 208.7,679.8 208.9,671.7 209.2,668.6 209.5,675.3 209.8,683.7 210.1,693.0 210.3,702.0 210.6,710.0 210.9,716.5 211.2,721.4 211.5,724.7 211.7,726.8 212.0,728.3 212.3,729.3 212.6,729.8 212.9,729.9 213.1,729.5 213.4,729.3 213.7,728.8 214.0,728.3 214.2,727.9 214.5,727.7 214.8,727.8 215.1,728.5 215.4,728.7 215.6,729.6 215.9,730.7 216.2,731.7 216.5,732.6 216.8,733.4 217.0,733.8 217.3,734.4 217.6,734.0 217.9,733.1 218.2,731.4 218.4,729.2 218.7,726.4 219.0,723.4 219.3,720.1 219.6,717.4 219.8,715.3 220.1,714.5 220.4,715.8 220.7,717.7 220.9,719.9 221.2,722.4 221.5,724.9 221.8,727.0 222.1,728.8 222.3,730.2 222.6,731.3 222.9,731.7 223.2,731.8 223.5,731.6 223.7,731.3 224.0,730.7 224.3,730.2 224.6,729.8 224.9,729.4 225.1,729.3 225.4,728.9 225.7,729.0 226.0,729.2 226.3,729.6 226.5,730.0 226.8,730.6 227.1,731.0 227.4,731.9 227.6,732.5 227.9,733.1 228.2,733.5 228.5,734.0 228.8,734.6 229.0,735.3 229.3,735.7 229.6,736.0 229.9,736.3 230.2,736.4 230.4,736.7 230.7,736.8 231.0,737.0 231.3,736.8 231.6,737.0 231.8,736.9 232.1,737.0 232.4,736.8 232.7,736.9 233.0,736.6 233.2,736.9 233.5,737.1 233.8,737.1 234.1,737.2 234.3,737.4 234.6,737.5 234.9,737.5 235.2,737.4 235.5,737.2 235.7,737.3 236.0,737.3 236.3,737.2 236.6,737.0 236.9,737.1 237.1,736.8 237.4,736.9 237.7,736.6 238.0,736.6 238.3,736.1 238.5,734.7 238.8,731.0 239.1,724.6 239.4,714.8 239.6,702.4 239.9,689.5 240.2,680.6 240.5,681.5 240.8,691.3 241.0,702.3 241.3,712.7 241.6,721.2 241.9,727.0 242.2,730.9 242.4,733.1 242.7,734.5 243.0,735.2 243.3,735.6 243.6,735.8 243.8,735.9 244.1,735.8 244.4,735.8 244.7,736.0 245.0,735.9 245.2,735.7 245.5,735.5 245.8,735.7 246.1,735.4 246.3,735.4 246.6,735.0 246.9,735.0 247.2,734.8 247.5,734.8 247.7,734.7 248.0,734.8 248.3,734.4 248.6,733.7 248.9,732.8 249.1,730.5 249.4,726.2 249.7,719.0 250.0,709.2 250.3,697.8 250.5,685.9 250.8,676.5 251.1,673.0 251.4,680.3 251.7,689.5 251.9,699.1 252.2,707.7 252.5,715.4 252.8,720.8 253.0,724.5 253.3,726.1 253.6,726.5 253.9,725.3 254.2,722.7 254.4,718.2 254.7,712.7 255.0,706.7 255.3,702.3 255.6,700.0 255.8,700.6 256.1,702.4 256.4,702.7 256.7,700.2 257.0,693.7 257.2,682.4 257.5,667.0 257.8,648.6 258.1,628.1 258.3,608.6 258.6,591.9 258.9,579.8 259.2,574.8 259.5,581.6 259.7,593.7 260.0,608.3 260.3,624.8 260.6,641.6 260.9,658.0 261.1,671.5 261.4,681.9 261.7,687.8 262.0,688.5 262.3,684.6 262.5,676.0 262.8,664.6 263.1,653.1 263.4,644.6 263.7,642.5 263.9,653.4 264.2,664.9 264.5,676.5 264.8,687.1 265.0,694.9 265.3,698.5 265.6,697.9 265.9,694.0 266.2,688.4 266.4,682.7 266.7,679.0 267.0,680.0 267.3,685.8 267.6,692.7 267.8,700.3 268.1,707.1 268.4,713.0 268.7,717.5 269.0,721.1 269.2,723.4 269.5,725.1 269.8,725.6 270.1,726.4 270.4,726.5 270.6,725.8 270.9,725.2 271.2,725.0 271.5,724.2 271.7,723.8 272.0,723.5 272.3,723.2 272.6,723.6 272.9,724.0 273.1,724.2 273.4,725.0 273.7,726.2 274.0,726.9 274.3,728.1 274.5,729.1 274.8,730.0 275.1,731.1 275.4,731.5 275.7,732.3 275.9,732.4 276.2,732.4 276.5,732.1 276.8,732.6 277.1,732.3 277.3,732.2 277.6,732.2 277.9,732.0 278.2,732.6 278.4,732.9 278.7,732.3 279.0,732.2 279.3,732.0 279.6,732.3 279.8,732.3 280.1,732.1 280.4,731.9 280.7,731.9 281.0,731.8 281.2,731.8 281.5,731.9 281.8,732.3 282.1,732.3 282.4,732.2 282.6,732.3 282.9,732.2 283.2,732.3 283.5,731.9 283.7,732.0 284.0,732.3 284.3,732.3 284.6,732.5 284.9,732.2 285.1,732.2 285.4,732.2 285.7,732.1 286.0,731.8 286.3,731.6 286.5,731.4 286.8,731.7 287.1,731.8 287.4,732.0 287.7,732.3 287.9,732.1 288.2,732.0 288.5,732.1 288.8,732.1 289.1,732.2 289.3,732.0 289.6,731.6 289.9,731.6 290.2,731.7 290.4,731.7 290.7,731.5 291.0,731.5 291.3,731.4 291.6,731.5 291.8,731.5 292.1,731.3 292.4,731.2 292.7,731.2 293.0,731.4 293.2,731.0 293.5,730.9 293.8,731.3 294.1,731.7 294.4,732.0 294.6,732.0 294.9,731.6 295.2,731.5 295.5,731.8 295.8,731.5 296.0,731.3 296.3,730.8 296.6,730.6 296.9,730.5 297.1,730.5 297.4,730.7 297.7,731.0 298.0,731.1 298.3,731.4 298.5,731.7 298.8,731.9 299.1,732.0 299.4,731.9 299.7,731.7 299.9,731.8 300.2,731.9 300.5,731.2 300.8,731.5 301.1,731.1 301.3,730.8 301.6,730.7 301.9,730.7 302.2,730.7 302.5,730.9 302.7,730.6 303.0,730.6 303.3,730.9 303.6,730.7 303.8,730.7 304.1,730.6 304.4,730.5 304.7,729.9 305.0,728.7 305.2,726.1 305.5,722.9 305.8,718.2 306.1,712.1 306.4,704.9 306.6,698.3 306.9,692.2 307.2,689.0 307.5,689.4 307.8,693.8 308.0,699.3 308.3,704.7 308.6,709.8 308.9,714.6 309.1,717.8 309.4,720.0 309.7,720.5 310.0,719.3 310.3,717.4 310.5,713.4 310.8,709.1 311.1,704.4 311.4,700.9 311.7,699.0 311.9,699.8 312.2,702.9 312.5,706.7 312.8,710.4 313.1,714.3 313.3,717.5 313.6,720.6 313.9,722.9 314.2,724.5 314.5,725.1 314.7,726.1 315.0,726.2 315.3,725.9 315.6,725.5 315.8,723.9 316.1,721.7 316.4,719.1 316.7,716.0 317.0,713.7 317.2,712.0 317.5,712.0 317.8,714.2 318.1,717.0 318.4,720.2 318.6,723.7 318.9,726.0 319.2,728.2 319.5,729.5 319.8,730.3 320.0,730.4 320.3,730.6 320.6,730.1 320.9,730.2 321.2,730.5 321.4,730.9 321.7,731.0 322.0,731.2 322.3,731.0 322.5,731.6 322.8,732.2 323.1,732.3 323.4,732.1 323.7,731.8 323.9,731.9 324.2,732.0 324.5,731.5 324.8,731.4 325.1,731.3 325.3,731.3 325.6,731.5 325.9,731.2 326.2,731.2 326.5,731.4 326.7,731.4 327.0,731.5 327.3,731.3 327.6,731.0 327.9,730.1 328.1,729.0 328.4,727.2 328.7,724.9 329.0,722.9 329.2,721.4 329.5,719.7 329.8,719.7 330.1,721.0 330.4,722.9 330.6,724.9 330.9,726.8 331.2,728.2 331.5,730.1 331.8,731.1 332.0,730.9 332.3,731.1 332.6,731.4 332.9,731.4 333.2,731.6 333.4,731.6 333.7,731.6 334.0,731.2 334.3,731.2 334.5,730.9 334.8,730.9 335.1,730.9 335.4,730.8 335.7,731.3 335.9,731.2 336.2,731.1 336.5,730.7 336.8,730.1 337.1,729.1 337.3,726.1 337.6,721.5 337.9,715.5 338.2,707.8 338.5,699.0 338.7,689.9 339.0,681.5 339.3,676.3 339.6,676.2 339.9,681.0 340.1,687.3 340.4,693.6 340.7,700.0 341.0,706.5 341.2,711.9 341.5,716.5 341.8,719.6 342.1,721.8 342.4,723.5 342.6,725.1 342.9,726.0 343.2,727.1 343.5,727.4 343.8,727.2 344.0,727.4 344.3,727.3 344.6,727.8 344.9,728.1 345.2,728.1 345.4,728.5 345.7,728.9 346.0,729.1 346.3,729.3 346.6,729.0 346.8,727.7 347.1,727.2 347.4,725.9 347.7,724.1 347.9,721.7 348.2,718.4 348.5,714.4 348.8,710.2 349.1,705.7 349.3,701.1 349.6,696.6 349.9,692.1 350.2,689.8 350.5,689.9 350.7,692.2 351.0,694.5 351.3,697.7 351.6,701.5 351.9,705.3 352.1,708.5 352.4,711.5 352.7,713.7 353.0,715.8 353.3,717.3 353.5,719.0 353.8,720.4 354.1,721.8 354.4,722.7 354.6,723.8 354.9,724.6 355.2,725.2 355.5,725.8 355.8,726.0 356.0,726.7 356.3,727.5 356.6,727.5 356.9,727.3 357.2,726.8 357.4,726.4 357.7,726.7 358.0,726.8 358.3,726.2 358.6,726.5 358.8,726.8 359.1,727.2 359.4,727.7 359.7,727.3 359.9,727.7 360.2,727.4 360.5,727.1 360.8,727.5 361.1,727.8 361.3,727.8 361.6,728.2 361.9,728.0 362.2,728.7 362.5,728.5 362.7,728.6 363.0,728.7 363.3,729.1 363.6,728.7 363.9,728.9 364.1,728.8 364.4,729.1 364.7,729.1 365.0,728.8 365.3,729.0 365.5,729.2 365.8,729.1 366.1,729.2 366.4,729.6 366.6,729.8 366.9,730.5 367.2,729.9 367.5,730.0 367.8,729.7 368.0,729.6 368.3,729.4 368.6,729.2 368.9,728.8 369.2,729.5 369.4,729.3 369.7,729.9 370.0,729.9 370.3,730.1 370.6,730.0 370.8,730.5 371.1,729.8 371.4,730.1 371.7,729.8 372.0,729.9 372.2,729.5 372.5,729.4 372.8,728.4 373.1,728.2 373.3,727.5 373.6,726.3 373.9,725.3 374.2,724.1 374.5,723.0 374.7,721.7 375.0,720.2 375.3,719.6 375.6,719.4 375.9,719.5 376.1,720.0 376.4,720.6 376.7,721.7 377.0,723.1 377.3,724.1 377.5,725.6 377.8,726.3 378.1,727.1 378.4,728.0 378.7,728.7 378.9,729.1 379.2,729.3 379.5,729.0 379.8,729.4 380.0,729.5 380.3,729.4 380.6,729.1 380.9,728.7 381.2,728.8 381.4,729.3 381.7,729.3 382.0,729.7 382.3,730.0 382.6,729.9 382.8,730.4 383.1,730.6 383.4,730.8 383.7,730.9 384.0,730.7 384.2,730.8 384.5,730.6 384.8,730.4 385.1,729.6 385.3,729.3 385.6,728.8 385.9,728.8 386.2,728.3 386.5,728.0 386.7,726.3 387.0,725.2 387.3,723.6 387.6,721.9 387.9,720.1 388.1,718.7 388.4,717.6 388.7,717.0 389.0,717.2 389.3,718.0 389.5,719.4 389.8,721.1 390.1,722.4 390.4,724.2 390.7,726.2 390.9,727.3 391.2,728.5 391.5,729.4 391.8,730.4 392.0,731.1 392.3,731.4 392.6,731.1 392.9,730.8 393.2,729.7 393.4,727.9 393.7,725.7 394.0,723.1 394.3,719.7 394.6,716.5 394.8,713.7 395.1,711.1 395.4,709.8 395.7,709.9 396.0,711.2 396.2,713.9 396.5,716.7 396.8,719.5 397.1,722.1 397.4,723.9 397.6,724.5 397.9,724.2 398.2,723.5 398.5,721.1 398.7,718.2 399.0,715.4 399.3,712.4 399.6,710.3 399.9,709.2 400.1,709.2 400.4,710.8 400.7,712.6 401.0,715.1 401.3,718.0 401.5,720.5 401.8,722.7 402.1,724.4 402.4,725.2 402.7,726.7 402.9,727.3 403.2,727.4 403.5,727.9 403.8,727.6 404.1,727.6 404.3,727.0 404.6,726.6 404.9,725.6 405.2,725.2 405.4,724.5 405.7,723.8 406.0,723.0 406.3,722.7 406.6,722.4 406.8,722.3 407.1,722.3 407.4,722.3 407.7,723.0 408.0,723.5 408.2,723.4 408.5,723.5 408.8,723.9 409.1,725.0 409.4,725.2 409.6,725.9 409.9,726.3 410.2,726.8 410.5,727.7 410.7,728.1 411.0,728.5 411.3,728.8 411.6,729.2 411.9,729.9 412.1,730.5 412.4,730.9 412.7,731.1 413.0,731.4 413.3,731.7 413.5,732.3 413.8,732.0 414.1,731.7 414.4,731.6 414.7,731.2 414.9,731.2 415.2,731.0 415.5,730.7 415.8,731.5 416.1,731.9 416.3,731.9 416.6,732.3 416.9,732.7 417.2,732.8 417.4,732.9 417.7,732.4 418.0,732.2 418.3,732.5 418.6,732.3 418.8,731.9 419.1,732.0 419.4,732.1 419.7,732.2 420.0,732.1 420.2,732.4 420.5,732.4 420.8,732.0 421.1,732.0 421.4,732.7 421.6,732.6 421.9,732.7 422.2,732.6 422.5,732.4 422.8,732.6 423.0,731.5 423.3,730.2 423.6,728.0 423.9,725.4 424.1,722.3 424.4,719.4 424.7,716.6 425.0,715.2 425.3,715.1 425.5,717.1 425.8,720.1 426.1,722.8 426.4,725.8 426.7,727.9 426.9,729.5 427.2,730.3 427.5,730.6 427.8,729.9 428.1,728.7 428.3,726.6 428.6,724.2 428.9,720.8 429.2,717.0 429.5,712.4 429.7,709.1 430.0,706.7 430.3,706.1 430.6,707.4 430.8,710.0 431.1,713.0 431.4,715.6 431.7,717.0 432.0,717.2 432.2,715.2 432.5,711.0 432.8,706.1 433.1,700.3 433.4,693.5 433.6,686.9 433.9,680.7 434.2,675.7 434.5,673.3 434.8,673.8 435.0,676.7 435.3,680.1 435.6,684.3 435.9,688.5 436.1,693.3 436.4,697.7 436.7,701.4 437.0,703.7 437.3,706.3 437.5,708.0 437.8,709.2 438.1,709.7 438.4,710.6 438.7,710.9 438.9,711.6 439.2,712.0 439.5,712.2 439.8,712.4 440.1,713.1 440.3,713.6 440.6,714.4 440.9,715.6 441.2,716.2 441.5,717.6 441.7,718.7 442.0,720.1 442.3,721.2 442.6,722.4 442.8,722.9 443.1,724.3 443.4,725.5 443.7,726.6 444.0,727.3 444.2,728.4 444.5,729.2 444.8,729.8 445.1,730.4 445.4,730.6 445.6,731.4 445.9,731.6 446.2,732.0 446.5,732.5 446.8,732.8 447.0,733.2 447.3,733.3 447.6,733.1 447.9,733.4 448.2,733.5 448.4,733.2 448.7,733.6 449.0,733.5 449.3,733.5 449.5,733.5 449.8,733.7 450.1,733.7 450.4,733.6 450.7,733.7 450.9,733.9 451.2,733.9 451.5,734.4 451.8,734.3 452.1,734.1 452.3,734.7 452.6,735.0 452.9,734.9 453.2,734.5 453.5,734.0 453.7,734.0 454.0,734.1 454.3,734.0 454.6,733.8 454.9,734.1 455.1,734.6 455.4,734.8 455.7,734.7 456.0,734.7 456.2,734.6 456.5,734.6 456.8,734.5 457.1,734.4 457.4,734.4 457.6,734.8 457.9,735.0 458.2,735.0 458.5,735.3 458.8,734.9 459.0,735.1 459.3,734.9 459.6,734.7 459.9,734.5 460.2,734.5 460.4,734.4 460.7,734.7 461.0,734.5 461.3,734.5 461.5,735.0 461.8,735.1 462.1,735.2 462.4,735.2 462.7,735.0 462.9,735.3 463.2,735.5 463.5,735.6 463.8,735.3 464.1,735.1 464.3,735.4 464.6,735.4 464.9,735.6 465.2,735.7 465.5,735.7 465.7,736.0 466.0,736.6 466.3,736.3 466.6,736.1 466.9,735.7 467.1,735.5 467.4,735.4 467.7,735.6 468.0,735.2 468.2,735.0 468.5,734.9 468.8,734.4 469.1,733.7 469.4,733.3 469.6,732.1 469.9,731.2 470.2,730.3 470.5,729.9 470.8,729.5 471.0,729.5 471.3,729.7 471.6,730.3 471.9,730.8 472.2,731.8 472.4,732.2 472.7,732.5 473.0,732.8 473.3,733.6 473.6,734.1 473.8,734.2 474.1,734.2 474.4,734.4 474.7,734.4 474.9,734.6 475.2,734.4 475.5,734.3 475.8,734.4 476.1,734.5 476.3,734.4 476.6,734.6 476.9,734.8 477.2,734.5 477.5,734.7 477.7,734.9 478.0,734.8 478.3,735.0 478.6,734.7 478.9,734.5 479.1,734.5 479.4,734.0 479.7,733.9 480.0,733.6 480.3,733.0 480.5,732.6 480.8,732.6 481.1,732.3 481.4,732.3 481.6,732.0 481.9,732.1 482.2,732.3 482.5,732.5 482.8,732.8 483.0,733.2 483.3,733.6 483.6,734.0 483.9,734.3 484.2,734.7 484.4,735.2 484.7,735.3 485.0,735.7 485.3,736.1 485.6,736.6 485.8,736.9 486.1,736.8 486.4,736.7 486.7,736.8 486.9,736.3 487.2,735.8 487.5,735.4 487.8,735.6 488.1,735.6 488.3,735.7 488.6,735.7 488.9,735.9 489.2,736.0 489.5,736.2 489.7,736.1 490.0,736.4 490.3,736.5 490.6,736.5 490.9,736.4 491.1,736.2 491.4,736.2 491.7,736.2 492.0,735.9 492.3,735.6 492.5,735.4 492.8,735.4 493.1,735.5 493.4,735.4 493.6,735.3 493.9,735.3 494.2,735.3 494.5,735.4 494.8,735.7 495.0,735.7 495.3,735.8 495.6,736.1 495.9,736.3 496.2,736.4 496.4,736.4 496.7,736.1 497.0,736.3 497.3,736.4 497.6,736.2 497.8,736.1 498.1,736.2 498.4,736.2 498.7,736.2 499.0,736.4 499.2,736.3 499.5,736.0 499.8,735.9 500.1,736.0 500.3,735.9 500.6,736.1 500.9,735.7 501.2,735.4 501.5,735.8 501.7,735.6 502.0,735.5 502.3,735.4 502.6,735.3 502.9,735.5 503.1,735.4 503.4,735.1 503.7,734.7 504.0,734.2 504.3,734.0 504.5,733.5 504.8,733.3 505.1,733.2 505.4,733.2 505.7,733.3 505.9,733.2 506.2,733.4 506.5,734.0 506.8,734.2 507.0,734.6 507.3,734.7 507.6,735.2 507.9,735.6 508.2,736.0 508.4,736.2 508.7,736.6 509.0,736.7 509.3,736.8 509.6,736.9 509.8,736.9 510.1,736.9 510.4,736.8 510.7,736.7 511.0,736.5 511.2,736.3 511.5,736.2 511.8,736.2 512.1,735.9 512.3,736.0 512.6,735.8 512.9,736.0 513.2,736.3 513.5,736.0 513.7,735.8 514.0,736.0 514.3,735.9 514.6,736.0 514.9,736.1 515.1,736.1 515.4,736.4 515.7,736.3 516.0,736.3 516.3,736.5 516.5,736.2 516.8,736.5 517.1,736.3 517.4,736.4 517.7,736.6 517.9,736.5 518.2,736.4 518.5,736.8 518.8,736.7 519.0,736.8 519.3,737.1 519.6,736.8 519.9,736.9 520.2,736.9 520.4,736.6 520.7,736.5 521.0,736.7 521.3,736.5 521.6,736.5 521.8,736.4 522.1,736.6 522.4,737.0 522.7,737.0 523.0,736.7 523.2,736.6 523.5,736.6 523.8,736.8 524.1,736.7 524.4,736.4 524.6,736.7 524.9,736.7 525.2,736.8 525.5,736.6 525.7,736.5 526.0,736.7 526.3,736.4 526.6,736.4 526.9,736.6 527.1,736.4 527.4,736.6 527.7,736.8 528.0,736.6 528.3,736.9 528.5,736.7 528.8,736.3 529.1,736.5 529.4,736.5 529.7,736.3 529.9,736.1 530.2,736.2 530.5,736.1 530.8,736.3 531.1,736.4 531.3,736.3 531.6,736.4 531.9,736.4 532.2,736.4 532.4,736.4 532.7,736.5 533.0,736.4 533.3,736.5 533.6,736.5 533.8,736.4 534.1,736.2 534.4,736.4 534.7,736.2 535.0,736.1 535.2,736.1 535.5,736.1 535.8,736.5 536.1,736.6 536.4,736.4 536.6,736.6 536.9,736.7 537.2,736.9 537.5,737.0 537.7,736.8 538.0,736.8 538.3,736.5 538.6,736.7 538.9,736.7 539.1,736.6 539.4,736.6 539.7,736.6 540.0,736.4 540.3,736.4 540.5,736.1 540.8,736.0 541.1,736.1 541.4,735.9 541.7,736.1 541.9,736.2 542.2,736.2 542.5,736.3 542.8,736.4 543.1,736.9 543.3,736.9 543.6,736.8 543.9,736.9 544.2,736.7 544.4,736.8 544.7,736.8 545.0,736.6 545.3,736.4 545.6,736.3 545.8,736.2 546.1,736.2 546.4,736.4 546.7,736.2 547.0,736.2 547.2,736.4 547.5,736.7 547.8,736.8 548.1,736.7 548.4,736.5 548.6,736.7 548.9,736.8 549.2,736.8 549.5,736.7 549.8,736.5 550.0,736.7 550.3,736.5 550.6,736.4 550.9,736.5 551.1,736.7 551.4,736.7 551.7,736.7 552.0,736.3 552.3,735.9 552.5,735.0 552.8,734.0 553.1,732.8 553.4,731.6 553.7,730.5 553.9,729.8 554.2,729.2 554.5,729.3 554.8,729.8 555.1,730.6 555.3,731.8 555.6,732.6 555.9,733.1 556.2,734.0 556.5,734.9 556.7,735.2 557.0,735.6 557.3,735.6 557.6,735.8 557.8,736.0 558.1,736.1 558.4,736.1 558.7,736.2 559.0,736.1 559.2,736.0 559.5,736.0 559.8,735.9 560.1,736.0 560.4,735.7 560.6,735.9 560.9,736.3 561.2,736.5 561.5,736.5 561.8,736.8 562.0,736.4 562.3,736.4 562.6,736.4 562.9,736.2 563.1,736.2 563.4,736.3 563.7,736.2 564.0,736.3 564.3,736.5 564.5,736.5 564.8,736.6 565.1,736.5 565.4,736.3 565.7,736.2 565.9,736.3 566.2,736.3 566.5,736.1 566.8,736.4 567.1,736.7 567.3,736.9 567.6,736.8 567.9,736.9 568.2,736.8 568.5,736.8 568.7,736.6 569.0,736.4 569.3,736.4 569.6,736.3 569.8,736.2 570.1,736.1 570.4,736.2 570.7,736.1 571.0,736.0 571.2,736.0 571.5,736.1 571.8,736.0 572.1,736.0 572.4,735.8 572.6,735.6 572.9,735.3 573.2,734.6 573.5,733.6 573.8,732.3 574.0,730.3 574.3,728.2 574.6,726.3 574.9,724.6 575.2,723.6 575.4,723.8 575.7,724.6 576.0,726.0 576.3,727.6 576.5,729.1 576.8,730.4 577.1,731.7 577.4,732.3 577.7,733.1 577.9,733.8 578.2,734.3 578.5,734.7 578.8,734.9 579.1,735.1 579.3,735.5 579.6,736.0 579.9,736.0 580.2,736.1 580.5,736.1 580.7,736.3 581.0,736.4 581.3,736.7 581.6,736.5 581.9,736.7 582.1,736.7 582.4,736.4 582.7,736.4 583.0,736.4 583.2,736.5 583.5,736.8 583.8,736.7 584.1,736.6 584.4,736.5 584.6,736.4 584.9,736.6 585.2,736.3 585.5,735.9 585.8,735.6 586.0,735.1 586.3,734.6 586.6,733.8 586.9,732.8 587.2,731.6 587.4,729.9 587.7,728.1 588.0,726.1 588.3,723.9 588.5,721.9 588.8,720.1 589.1,718.6 589.4,717.5 589.7,717.0 589.9,717.5 590.2,718.0 590.5,718.7 590.8,719.6 591.1,720.8 591.3,722.2 591.6,723.7 591.9,724.9 592.2,725.7 592.5,726.4 592.7,727.3 593.0,728.0 593.3,728.5 593.6,729.2 593.9,729.2 594.1,729.5 594.4,729.7 594.7,729.9 595.0,730.2 595.2,730.0 595.5,730.2 595.8,730.4 596.1,730.6 596.4,730.5 596.6,730.7 596.9,730.6 597.2,731.1 597.5,731.5 597.8,731.4 598.0,731.3 598.3,731.7 598.6,731.8 598.9,731.9 599.2,731.6 599.4,731.8 599.7,732.4 600.0,732.3 600.3,732.0 600.6,732.1 600.8,732.2 601.1,732.3 601.4,731.9 601.7,731.7 601.9,731.6 602.2,731.8 602.5,731.6 602.8,731.8 603.1,732.1 603.3,732.6 603.6,732.7 603.9,733.1 604.2,732.9 604.5,733.0 604.7,732.9 605.0,733.1 605.3,733.3 605.6,733.5 605.9,733.5 606.1,733.5 606.4,733.5 606.7,733.6 607.0,733.7 607.2,733.5 607.5,733.3 607.8,733.3 608.1,733.3 608.4,733.2 608.6,732.7 608.9,732.2 609.2,732.5 609.5,732.5 609.8,732.4 610.0,732.1 610.3,732.1 610.6,732.0 610.9,731.8 611.2,731.5 611.4,731.4 611.7,731.4 612.0,731.6 612.3,731.7 612.6,732.2 612.8,732.5 613.1,732.8 613.4,732.7 613.7,732.8 613.9,733.0 614.2,733.2 614.5,733.3 614.8,733.1 615.1,733.5 615.3,733.8 615.6,733.8 615.9,733.7 616.2,733.7 616.5,733.8 616.7,734.0 617.0,734.3 617.3,734.3 617.6,734.6 617.9,734.7 618.1,734.6 618.4,734.7 618.7,734.5 619.0,734.2 619.3,734.0 619.5,734.0 619.8,734.1 620.1,734.2 620.4,734.0 620.6,734.4 620.9,734.5 621.2,734.7 621.5,735.1 621.8,735.3 622.0,735.7 622.3,735.6 622.6,735.5 622.9,735.4 623.2,735.2 623.4,735.1 623.7,735.1 624.0,735.0 624.3,735.1 624.6,735.0 624.8,735.1 625.1,735.1 625.4,734.8 625.7,734.5 626.0,734.6 626.2,734.4 626.5,734.1 626.8,734.2 627.1,734.3 627.3,734.3 627.6,734.3 627.9,734.1 628.2,734.4 628.5,734.6 628.7,734.5 629.0,734.2 629.3,734.6 629.6,734.7 629.9,734.9 630.1,734.7 630.4,735.0 630.7,735.2 631.0,735.5 631.3,735.4 631.5,735.2 631.8,735.2 632.1,735.3 632.4,735.2 632.6,735.2 632.9,735.1 633.2,735.0 633.5,735.1 633.8,735.0 634.0,735.3 634.3,735.6 634.6,735.5 634.9,735.8 635.2,735.6 635.4,735.5 635.7,735.3 636.0,735.2 636.3,735.2 636.6,735.2 636.8,735.2 637.1,735.3 637.4,735.4 637.7,735.7 638.0,735.6 638.2,735.8 638.5,735.8 638.8,736.0 639.1,736.3 639.3,736.2 639.6,736.3 639.9,736.5 640.2,736.2 640.5,736.4 640.7,736.5 641.0,736.4 641.3,736.3 641.6,736.2 641.9,736.3 642.1,736.2 642.4,736.3 642.7,736.3 643.0,736.2 643.3,736.1 643.5,736.1 643.8,736.1 644.1,736.0 644.4,736.1 644.7,736.0 644.9,736.6 645.2,736.7 645.5,736.6 645.8,736.7 646.0,736.3 646.3,736.5 646.6,736.8 646.9,736.6 647.2,736.7 647.4,736.7 647.7,736.7 648.0,736.8 648.3,736.9 648.6,736.9 648.8,737.2 649.1,737.0 649.4,737.2 649.7,737.3 650.0,737.4 650.2,737.6 650.5,737.7 650.8,737.6 651.1,737.8 651.4,737.8 651.6,737.9 651.9,737.8 652.2,737.6 652.5,737.9 652.7,737.8 653.0,737.9 653.3,737.9 653.6,737.8 653.9,737.7 654.1,738.0 654.4,738.0 654.7,738.0 655.0,737.9 655.3,738.2 655.5,738.0 655.8,738.2 656.1,738.2 656.4,738.2 656.7,738.3 656.9,738.2 657.2,738.0 657.5,738.1 657.8,738.2 658.0,738.3 658.3,738.4 658.6,738.6 658.9,738.5 659.2,738.5 659.4,738.5 659.7,738.5 660.0,738.5 660.3,738.4 660.6,738.4 660.8,738.5 661.1,738.7 661.4,738.7 661.7,738.6 662.0,738.6 662.2,738.4 662.5,738.5 662.8,738.6 663.1,738.7 663.4,738.7 663.6,738.6 663.9,738.5 664.2,738.6 664.5,738.5 664.7,738.4 665.0,738.3 665.3,738.2 665.6,738.4 665.9,738.4 666.1,738.5 666.4,738.6 666.7,738.8 667.0,738.8 667.3,738.8 667.5,738.8 667.8,738.8 668.1,738.8 668.4,738.8 668.7,738.8 668.9,738.9" fill="none" stroke="#d866c0" stroke-width="1.15" stroke-linejoin="round"/>
</g>
<text x="532.7" y="439.8" font-size="9" text-anchor="start" fill="#111" stroke="#111" stroke-width="0.1" font-weight="normal" >TIC: TSRC</text>
<text x="532.7" y="449.9" font-size="9" text-anchor="start" fill="#1818ee" stroke="#1818ee" stroke-width="0.1" font-weight="normal" >TIC: BCRC</text>
<text x="532.7" y="460.1" font-size="9" text-anchor="start" fill="#ff1010" stroke="#ff1010" stroke-width="0.1" font-weight="normal" >TIC: BLRC</text>
<text x="532.7" y="470.2" font-size="9" text-anchor="start" fill="#1a8f1a" stroke="#1a8f1a" stroke-width="0.1" font-weight="normal" >TIC: CTRC</text>
<text x="532.7" y="480.4" font-size="9" text-anchor="start" fill="#d26cc0" stroke="#d26cc0" stroke-width="0.1" font-weight="normal" >TIC: DFRC</text>
<text x="134.3" y="448.8" font-size="10" text-anchor="middle" fill="#000" stroke="#000" stroke-width="0.3" font-weight="normal" >Hexanal</text>
<text x="173.0" y="526.0" font-size="10" text-anchor="middle" fill="#000" stroke="#000" stroke-width="0.3" font-weight="normal" >Methylpyrazine</text>
<text x="258.3" y="527.5" font-size="10" text-anchor="middle" fill="#000" stroke="#000" stroke-width="0.3" font-weight="normal" >2-Heptanone</text>
<line x1="240.4" y1="530.6" x2="240.4" y2="548.5" stroke="#000" stroke-width="1.1" />
<polygon points="238.0,546.3 242.8,546.3 240.4,552.5" fill="#000"/>
<text x="299.9" y="652.5" font-size="10" text-anchor="middle" stroke="#000" stroke-width="0.3" font-family="Liberation Sans, sans-serif">(<tspan font-style="italic">2E</tspan>)-Heptenal</text>
<line x1="307.8" y1="658.2" x2="307.8" y2="677.2" stroke="#000" stroke-width="1.1" />
<polygon points="305.4,675.0 310.2,675.0 307.8,681.2" fill="#000"/>
<text x="346.7" y="587.7" font-size="10" text-anchor="middle" fill="#000" stroke="#000" stroke-width="0.3" font-weight="normal" >2-Pentylfuran</text>
<line x1="338.7" y1="591.3" x2="338.7" y2="653.2" stroke="#000" stroke-width="1.1" />
<polygon points="336.3,651.0 341.1,651.0 338.7,657.2" fill="#000"/>
<text x="360.6" y="619.3" font-size="10" text-anchor="middle" fill="#000" stroke="#000" stroke-width="0.3" font-weight="normal" >Octanal</text>
<line x1="350.4" y1="622.5" x2="350.4" y2="666.0" stroke="#000" stroke-width="1.1" />
<polygon points="348.0,663.8 352.8,663.8 350.4,670.0" fill="#000"/>
<text x="432.8" y="605.0" font-size="10" text-anchor="middle" fill="#000" stroke="#000" stroke-width="0.3" font-weight="normal" >Nonanal</text>
<line x1="434.6" y1="608.2" x2="434.6" y2="650.6" stroke="#000" stroke-width="1.1" />
<polygon points="432.2,648.4 437.0,648.4 434.6,654.6" fill="#000"/>
<text x="400.2" y="673" font-size="10" text-anchor="middle" stroke="#000" stroke-width="0.3" font-family="Liberation Sans, sans-serif">(<tspan font-style="italic">E</tspan>)-2-Octenal</text>
<line x1="408.6" y1="676.0" x2="408.6" y2="719.0" stroke="#000" stroke-width="1.1" />
<polygon points="406.2,716.8 411.0,716.8 408.6,723.0" fill="#000"/>
<text x="512.5" y="673.0" font-size="10" text-anchor="middle" fill="#000" stroke="#000" stroke-width="0.3" font-weight="normal" >Dodecane</text>
<line x1="511.2" y1="676.0" x2="511.2" y2="719.0" stroke="#000" stroke-width="1.1" />
<polygon points="508.8,716.8 513.6,716.8 511.2,723.0" fill="#000"/>
<text x="637.8" y="679.5" font-size="10" text-anchor="middle" fill="#000" stroke="#000" stroke-width="0.3" font-weight="normal" >Tetradecane</text>
<line x1="636.0" y1="683.2" x2="636.0" y2="725.7" stroke="#000" stroke-width="1.1" />
<polygon points="633.6,723.5 638.4,723.5 636.0,729.7" fill="#000"/>
</svg>
</body></html>
